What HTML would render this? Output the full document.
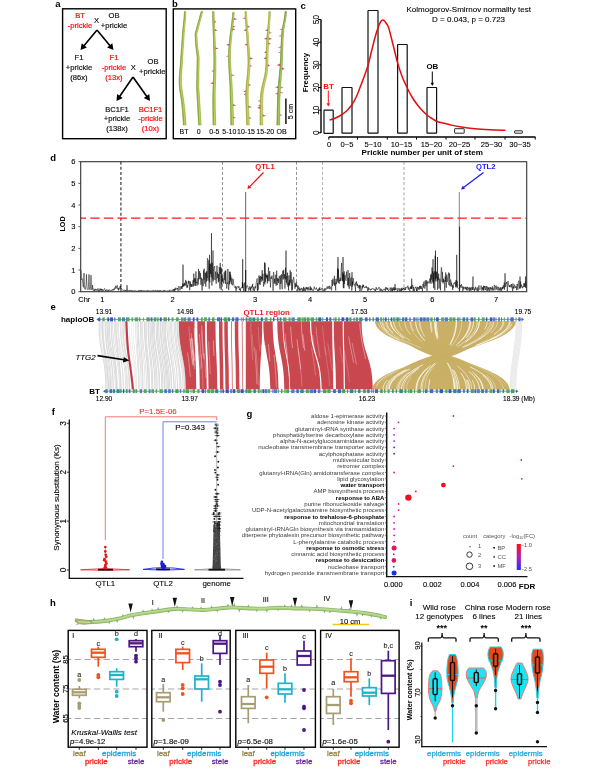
<!DOCTYPE html>
<html><head><meta charset="utf-8"><title>Figure</title>
<style>
html,body{margin:0;padding:0;background:#fff;}
body{width:600px;height:768px;overflow:hidden;font-family:"Liberation Sans",sans-serif;}
svg{display:block;font-family:"Liberation Sans",sans-serif;will-change:transform;opacity:0.999;}
</style></head><body>
<svg width="600" height="768" viewBox="0 0 600 768">
<rect width="600" height="768" fill="#fff"/>
<text x="58" y="6.7" font-size="9.5" text-anchor="middle" fill="#000" font-weight="bold">a</text>
<rect x="62.6" y="8.8" width="103.6" height="129.9" fill="none" stroke="#000" stroke-width="1.4" />
<text x="80" y="18.2" font-size="7.6" text-anchor="middle" fill="#ff1010" stroke="#ff1010" stroke-width="0.22">BT</text>
<text x="80" y="28.2" font-size="7.6" text-anchor="middle" fill="#ff1010" stroke="#ff1010" stroke-width="0.22">-prickle</text>
<text x="96.5" y="23.3" font-size="7.6" text-anchor="middle" fill="#000" stroke="#000" stroke-width="0.1">X</text>
<text x="114" y="18.2" font-size="7.6" text-anchor="middle" fill="#111" stroke="#111" stroke-width="0.18">OB</text>
<text x="114" y="28.2" font-size="7.6" text-anchor="middle" fill="#111" stroke="#111" stroke-width="0.18">+prickle</text>
<line x1="97" y1="30" x2="84" y2="45.8" stroke="#000" stroke-width="1.6" />
<polygon points="80.5,50 81.7,43.2 86.9,47.5" fill="#000"/>
<line x1="97" y1="30" x2="110" y2="45.8" stroke="#000" stroke-width="1.6" />
<polygon points="113.5,50 107.1,47.5 112.3,43.2" fill="#000"/>
<text x="79" y="59.7" font-size="7.6" text-anchor="middle" fill="#111" stroke="#111" stroke-width="0.18">F1</text>
<text x="79" y="69.7" font-size="7.6" text-anchor="middle" fill="#111" stroke="#111" stroke-width="0.18">+prickle</text>
<text x="79" y="79.7" font-size="7.6" text-anchor="middle" fill="#111" stroke="#111" stroke-width="0.18">(86x)</text>
<text x="114" y="59.7" font-size="7.6" text-anchor="middle" fill="#ff1010" stroke="#ff1010" stroke-width="0.22">F1</text>
<text x="114" y="69.7" font-size="7.6" text-anchor="middle" fill="#ff1010" stroke="#ff1010" stroke-width="0.22">-prickle</text>
<text x="114" y="79.7" font-size="7.6" text-anchor="middle" fill="#ff1010" stroke="#ff1010" stroke-width="0.22">(13x)</text>
<text x="133.4" y="70.1" font-size="7.6" text-anchor="middle" fill="#000" stroke="#000" stroke-width="0.1">X</text>
<text x="153" y="63.7" font-size="7.6" text-anchor="middle" fill="#111" stroke="#111" stroke-width="0.18">OB</text>
<text x="152.3" y="73.5" font-size="7.6" text-anchor="middle" fill="#111" stroke="#111" stroke-width="0.18">+prickle</text>
<line x1="133" y1="77" x2="119.6" y2="96.5" stroke="#000" stroke-width="1.6" />
<polygon points="116.5,101 117.1,94.1 122.7,98" fill="#000"/>
<line x1="133" y1="77" x2="146.8" y2="96.5" stroke="#000" stroke-width="1.6" />
<polygon points="150,101 143.8,98.1 149.3,94.1" fill="#000"/>
<text x="117" y="111.7" font-size="7.6" text-anchor="middle" fill="#111" stroke="#111" stroke-width="0.18">BC1F1</text>
<text x="117" y="121.4" font-size="7.6" text-anchor="middle" fill="#111" stroke="#111" stroke-width="0.18">+prickle</text>
<text x="117" y="130.9" font-size="7.6" text-anchor="middle" fill="#111" stroke="#111" stroke-width="0.18">(138x)</text>
<text x="150.5" y="111.7" font-size="7.6" text-anchor="middle" fill="#ff1010" stroke="#ff1010" stroke-width="0.22">BC1F1</text>
<text x="150.5" y="121.4" font-size="7.6" text-anchor="middle" fill="#ff1010" stroke="#ff1010" stroke-width="0.22">-prickle</text>
<text x="150.5" y="130.9" font-size="7.6" text-anchor="middle" fill="#ff1010" stroke="#ff1010" stroke-width="0.22">(10x)</text>
<text x="174.8" y="6.8" font-size="9.5" text-anchor="middle" fill="#000" font-weight="bold">b</text>
<rect x="173.3" y="8.9" width="122.4" height="129.8" fill="none" stroke="#000" stroke-width="1.4" />
<polygon points="184.4,11.5 184.3,14.1 184.1,16.8 183.9,19.4 183.6,22 183.4,24.6 183.1,27.2 182.8,29.9 182.5,32.5 182.3,36.6 182,40.6 181.7,44.7 181.4,48.8 181.1,52.8 180.8,56.9 180.5,60.9 180.3,65 180.1,67.3 179.8,69.6 179.6,71.9 179.4,74.2 179.3,76.5 179.2,78.8 179.1,81.1 179.2,83.4 179.3,86 179.6,88.6 179.9,91.1 180.3,93.7 180.7,96.3 181.1,98.8 181.5,101.4 181.8,104 182,106.6 182.3,109.2 182.5,111.9 182.7,114.5 182.9,117.1 183.1,119.8 183.2,122.4 183.3,125 186,125 185.9,122.4 185.7,119.8 185.5,117.1 185.3,114.5 185.1,111.9 184.8,109.2 184.5,106.6 184.2,104 183.9,101.4 183.5,98.8 183.1,96.3 182.7,93.7 182.3,91.1 181.9,88.6 181.6,86 181.4,83.4 181.4,81.1 181.4,78.8 181.4,76.5 181.6,74.2 181.8,71.9 181.9,69.6 182.1,67.3 182.3,65 182.5,60.9 182.7,56.9 183,52.8 183.2,48.8 183.5,44.7 183.8,40.6 184,36.6 184.3,32.5 184.5,29.9 184.7,27.2 185,24.6 185.2,22 185.5,19.4 185.7,16.8 185.8,14.1 185.9,11.5" fill="#a9c244" stroke="#7c9c30" stroke-width="0.5" stroke-linejoin="round"/>
<path d="M185.4,11.5 L185.3,14.1 L185.1,16.8 L184.9,19.4 L184.7,22 L184.4,24.6 L184.2,27.2 L183.9,29.9 L183.7,32.5 L183.4,36.6 L183.1,40.6 L182.8,44.7 L182.6,48.8 L182.3,52.8 L182,56.9 L181.8,60.9 L181.6,65 L181.3,67.3 L181.1,69.6 L180.9,71.9 L180.8,74.2 L180.6,76.5 L180.5,78.8 L180.5,81.1 L180.6,83.4 L180.7,86 L181,88.6 L181.3,91.1 L181.7,93.7 L182.1,96.3 L182.6,98.8 L182.9,101.4 L183.2,104 L183.5,106.6 L183.8,109.2 L184,111.9 L184.3,114.5 L184.5,117.1 L184.7,119.8 L184.8,122.4 L184.9,125" fill="none" stroke="#c3d468" stroke-width="0.7" stroke-linejoin="round"/>
<path d="M184.6,11.5 L184.5,14.1 L184.3,16.8 L184.1,19.4 L183.8,22 L183.6,24.6 L183.3,27.2 L183,29.9 L182.7,32.5 L182.5,36.6 L182.2,40.6 L181.9,44.7 L181.6,48.8 L181.3,52.8 L181,56.9 L180.7,60.9 L180.5,65 L180.3,67.3 L180,69.6 L179.8,71.9 L179.6,74.2 L179.5,76.5 L179.4,78.8 L179.3,81.1 L179.4,83.4 L179.5,86 L179.8,88.6 L180.1,91.1 L180.5,93.7 L180.9,96.3 L181.3,98.8 L181.7,101.4 L182,104 L182.2,106.6 L182.5,109.2 L182.7,111.9 L182.9,114.5 L183.1,117.1 L183.3,119.8 L183.4,122.4 L183.5,125" fill="none" stroke="#7c9c30" stroke-width="0.6" stroke-linejoin="round"/>
<text x="184.1" y="134.1" font-size="7.0" text-anchor="middle" fill="#000" stroke="#000" stroke-width="0.1">BT</text>
<polygon points="201.2,11.5 195.1,33.6 195.5,43.3 197.2,57.4 196.6,86.7 198.6,125 201.2,125 198.8,86.7 199.2,57.4 197.3,43.3 196.9,33.6 202.8,11.5" fill="#a9c244" stroke="#7c9c30" stroke-width="0.5" stroke-linejoin="round"/>
<path d="M202.2,11.5 L196.2,33.6 L196.7,43.3 L198.4,57.4 L197.9,86.7 L200.2,125" fill="none" stroke="#c3d468" stroke-width="0.7" stroke-linejoin="round"/>
<path d="M201.4,11.5 L195.3,33.6 L195.7,43.3 L197.4,57.4 L196.8,86.7 L198.8,125" fill="none" stroke="#7c9c30" stroke-width="0.6" stroke-linejoin="round"/>
<text x="198.8" y="134.1" font-size="7.0" text-anchor="middle" fill="#000" stroke="#000" stroke-width="0.1">0</text>
<polygon points="212.6,11.5 212.6,15.5 212.7,19.4 212.8,23.4 213,27.4 213.1,31.4 213.3,35.3 213.4,39.3 213.5,43.3 213.6,46 213.7,48.7 213.7,51.4 213.8,54.1 213.9,56.9 213.9,59.6 213.9,62.3 213.9,65 213.8,69.1 213.7,73.1 213.5,77.2 213.3,81.2 213.2,85.3 213,89.4 212.9,93.4 212.8,97.5 212.8,100.9 212.8,104.4 212.8,107.8 212.9,111.2 212.9,114.7 213,118.1 213,121.6 213.1,125 215.8,125 215.7,121.6 215.6,118.1 215.5,114.7 215.4,111.2 215.3,107.8 215.3,104.4 215.2,100.9 215.2,97.5 215.2,93.4 215.3,89.4 215.4,85.3 215.6,81.2 215.7,77.2 215.8,73.1 215.9,69.1 215.9,65 215.9,62.3 215.9,59.6 215.8,56.9 215.8,54.1 215.7,51.4 215.5,48.7 215.4,46 215.3,43.3 215.2,39.3 215,35.3 214.8,31.4 214.7,27.4 214.5,23.4 214.3,19.4 214.2,15.5 214.1,11.5" fill="#a9c244" stroke="#7c9c30" stroke-width="0.5" stroke-linejoin="round"/>
<path d="M213.6,11.5 L213.6,15.5 L213.8,19.4 L213.9,23.4 L214.1,27.4 L214.2,31.4 L214.4,35.3 L214.5,39.3 L214.7,43.3 L214.8,46 L214.8,48.7 L214.9,51.4 L215,54.1 L215.1,56.9 L215.1,59.6 L215.2,62.3 L215.2,65 L215.1,69.1 L215,73.1 L214.9,77.2 L214.7,81.2 L214.6,85.3 L214.4,89.4 L214.3,93.4 L214.2,97.5 L214.2,100.9 L214.3,104.4 L214.3,107.8 L214.4,111.2 L214.5,114.7 L214.5,118.1 L214.6,121.6 L214.7,125" fill="none" stroke="#c3d468" stroke-width="0.7" stroke-linejoin="round"/>
<path d="M212.8,11.5 L212.8,15.5 L212.9,19.4 L213,23.4 L213.2,27.4 L213.3,31.4 L213.5,35.3 L213.6,39.3 L213.7,43.3 L213.8,46 L213.9,48.7 L213.9,51.4 L214,54.1 L214.1,56.9 L214.1,59.6 L214.1,62.3 L214.1,65 L214,69.1 L213.9,73.1 L213.7,77.2 L213.5,81.2 L213.4,85.3 L213.2,89.4 L213.1,93.4 L213,97.5 L213,100.9 L213,104.4 L213,107.8 L213.1,111.2 L213.1,114.7 L213.2,118.1 L213.2,121.6 L213.2,125" fill="none" stroke="#7c9c30" stroke-width="0.6" stroke-linejoin="round"/>
<polygon points="214.4,20.6 214.4,22.7 216.5,22.1" fill="#c85c6c"/>
<polygon points="214.8,28.9 214.8,31 217.5,30.4" fill="#c04858"/>
<polygon points="215.5,47.2 215.5,49.3 218.4,48.7" fill="#c04858"/>
<polygon points="213.7,69.7 213.7,71.8 211.5,71.2" fill="#c85c6c"/>
<polygon points="213.3,81.9 213.3,84 210.3,83.4" fill="#c04858"/>
<text x="214.4" y="134.1" font-size="7.0" text-anchor="middle" fill="#000" stroke="#000" stroke-width="0.1">0-5</text>
<polygon points="232.7,12.5 232.5,16.4 232,20.2 231.6,24 231.1,27.9 230.5,31.8 230,35.6 229.6,39.4 229.3,43.3 229.1,45.5 228.9,47.6 228.7,49.8 228.6,52 228.6,54.2 228.6,56.4 228.6,58.5 228.6,60.7 228.7,64 228.8,67.2 229,70.5 229.2,73.7 229.4,77 229.6,80.2 229.8,83.5 230,86.7 230.1,91.5 230.2,96.3 230.4,101.1 230.5,105.8 230.6,110.6 230.7,115.4 230.8,120.2 230.8,125 233.5,125 233.4,120.2 233.3,115.4 233.2,110.6 233,105.8 232.8,101.1 232.6,96.3 232.4,91.5 232.2,86.7 232,83.5 231.8,80.2 231.6,77 231.3,73.7 231.1,70.5 230.9,67.2 230.7,64 230.6,60.7 230.6,58.5 230.5,56.4 230.5,54.2 230.6,52 230.6,49.8 230.8,47.6 230.9,45.5 231.1,43.3 231.4,39.4 231.8,35.6 232.2,31.8 232.7,27.9 233.2,24 233.6,20.2 234,16.4 234.3,12.5" fill="#a9c244" stroke="#7c9c30" stroke-width="0.5" stroke-linejoin="round"/>
<path d="M233.8,12.5 L233.5,16.4 L233.1,20.2 L232.6,24 L232.1,27.9 L231.6,31.8 L231.2,35.6 L230.8,39.4 L230.4,43.3 L230.2,45.5 L230.1,47.6 L229.9,49.8 L229.8,52 L229.8,54.2 L229.8,56.4 L229.8,58.5 L229.8,60.7 L229.9,64 L230.1,67.2 L230.3,70.5 L230.5,73.7 L230.7,77 L231,80.2 L231.2,83.5 L231.3,86.7 L231.5,91.5 L231.7,96.3 L231.8,101.1 L232,105.8 L232.1,110.6 L232.3,115.4 L232.4,120.2 L232.4,125" fill="none" stroke="#c3d468" stroke-width="0.7" stroke-linejoin="round"/>
<path d="M232.9,12.5 L232.7,16.4 L232.2,20.2 L231.8,24 L231.3,27.9 L230.7,31.8 L230.2,35.6 L229.8,39.4 L229.5,43.3 L229.3,45.5 L229.1,47.6 L228.9,49.8 L228.8,52 L228.8,54.2 L228.8,56.4 L228.8,58.5 L228.8,60.7 L228.9,64 L229,67.2 L229.2,70.5 L229.4,73.7 L229.6,77 L229.8,80.2 L230,83.5 L230.2,86.7 L230.3,91.5 L230.4,96.3 L230.6,101.1 L230.7,105.8 L230.8,110.6 L230.9,115.4 L231,120.2 L231,125" fill="none" stroke="#7c9c30" stroke-width="0.6" stroke-linejoin="round"/>
<polygon points="233.8,17.8 233.8,19.9 237.1,19.3" fill="#c85c6c"/>
<polygon points="232.9,25.4 232.9,27.5 235.8,26.9" fill="#c85c6c"/>
<polygon points="232.5,28.2 232.5,30.3 235.4,29.7" fill="#c04858"/>
<polygon points="229.1,43.6 229.1,45.7 226.1,45.1" fill="#b85848"/>
<polygon points="228.6,54.9 228.6,57 225.9,56.4" fill="#d88090"/>
<polygon points="231.4,74.1 231.4,76.2 234.9,75.6" fill="#d88090"/>
<polygon points="233,103.9 233,106 236.2,105.4" fill="#c85c6c"/>
<polygon points="233.4,116.4 233.4,118.5 235.8,117.9" fill="#b85848"/>
<text x="229.3" y="134.1" font-size="7.0" text-anchor="middle" fill="#000" stroke="#000" stroke-width="0.1">5-10</text>
<polygon points="245.1,11.5 245.2,15.5 245.4,19.4 245.7,23.4 246,27.4 246.3,31.4 246.6,35.3 246.9,39.3 247.1,43.3 247.3,46 247.5,48.7 247.6,51.4 247.8,54.1 247.9,56.9 248,59.6 248,62.3 248,65 247.8,68.5 247.6,72 247.2,75.5 246.9,79 246.5,82.5 246.2,86 246,89.5 245.8,93 245.8,97 245.8,101 246,105 246.1,109 246.3,113 246.4,117 246.6,121 246.7,125 249.3,125 249.2,121 249.1,117 248.9,113 248.6,109 248.4,105 248.3,101 248.2,97 248.2,93 248.3,89.5 248.5,86 248.8,82.5 249.1,79 249.4,75.5 249.7,72 249.9,68.5 250,65 250,62.3 250,59.6 249.9,56.9 249.7,54.1 249.6,51.4 249.4,48.7 249.1,46 248.9,43.3 248.7,39.3 248.4,35.3 248,31.4 247.7,27.4 247.3,23.4 247,19.4 246.7,15.5 246.6,11.5" fill="#bcc24c" stroke="#9aa63c" stroke-width="0.5" stroke-linejoin="round"/>
<path d="M246.1,11.5 L246.2,15.5 L246.5,19.4 L246.8,23.4 L247.1,27.4 L247.4,31.4 L247.7,35.3 L248,39.3 L248.2,43.3 L248.5,46 L248.7,48.7 L248.8,51.4 L249,54.1 L249.1,56.9 L249.2,59.6 L249.3,62.3 L249.2,65 L249.1,68.5 L248.9,72 L248.6,75.5 L248.2,79 L247.9,82.5 L247.6,86 L247.4,89.5 L247.2,93 L247.2,97 L247.3,101 L247.4,105 L247.6,109 L247.8,113 L248,117 L248.2,121 L248.2,125" fill="none" stroke="#d2d474" stroke-width="0.7" stroke-linejoin="round"/>
<path d="M245.2,11.5 L245.4,15.5 L245.6,19.4 L245.9,23.4 L246.2,27.4 L246.5,31.4 L246.8,35.3 L247.1,39.3 L247.3,43.3 L247.5,46 L247.7,48.7 L247.8,51.4 L248,54.1 L248.1,56.9 L248.2,59.6 L248.2,62.3 L248.2,65 L248,68.5 L247.8,72 L247.4,75.5 L247.1,79 L246.7,82.5 L246.4,86 L246.2,89.5 L246,93 L246,97 L246,101 L246.2,105 L246.3,109 L246.5,113 L246.6,117 L246.8,121 L246.8,125" fill="none" stroke="#9aa63c" stroke-width="0.6" stroke-linejoin="round"/>
<polygon points="245.4,17.1 245.4,19.2 242.4,18.6" fill="#d88090"/>
<polygon points="247.6,25.4 247.6,27.5 250.2,26.9" fill="#b85848"/>
<polygon points="246.2,29 246.2,31.1 243.5,30.5" fill="#c04858"/>
<polygon points="247.2,43.4 247.2,45.5 244.4,44.9" fill="#c04858"/>
<polygon points="249.9,57.2 249.9,59.3 253.1,58.7" fill="#b85848"/>
<polygon points="250,64.7 250,66.8 252.6,66.2" fill="#d88090"/>
<polygon points="248.6,83.7 248.6,85.8 251.3,85.2" fill="#c85c6c"/>
<polygon points="245.9,90.2 245.9,92.3 243.1,91.7" fill="#c85c6c"/>
<polygon points="245.8,93.2 245.8,95.3 243.6,94.7" fill="#c85c6c"/>
<polygon points="248.5,105.7 248.5,107.8 252,107.2" fill="#b85848"/>
<polygon points="249.1,116.8 249.1,118.9 251.8,118.3" fill="#d88090"/>
<text x="246" y="134.1" font-size="7.0" text-anchor="middle" fill="#000" stroke="#000" stroke-width="0.1">10-15</text>
<polygon points="268.9,11.5 268.8,15.5 268.5,19.4 268.2,23.4 267.8,27.4 267.5,31.4 267.1,35.3 266.8,39.3 266.6,43.3 266.4,46.8 266.3,50.3 266.2,53.9 266.1,57.4 266,60.9 265.9,64.5 265.6,68 265.3,71.5 264.9,74.2 264.3,76.9 263.7,79.6 263,82.2 262.4,84.9 261.8,87.6 261.2,90.3 260.8,93 260.5,97 260.3,101 260.2,105 260.2,109 260.1,113 260.1,117 260.1,121 260,125 262.8,125 262.7,121 262.7,117 262.7,113 262.7,109 262.7,105 262.8,101 262.9,97 263.2,93 263.6,90.3 264.1,87.6 264.7,84.9 265.3,82.2 265.9,79.6 266.5,76.9 267.1,74.2 267.5,71.5 267.7,68 267.9,64.5 268,60.9 268.1,57.4 268.1,53.9 268.2,50.3 268.3,46.8 268.4,43.3 268.6,39.3 268.9,35.3 269.2,31.4 269.5,27.4 269.8,23.4 270.1,19.4 270.3,15.5 270.4,11.5" fill="#bcc24c" stroke="#9aa63c" stroke-width="0.5" stroke-linejoin="round"/>
<path d="M269.9,11.5 L269.8,15.5 L269.5,19.4 L269.2,23.4 L268.9,27.4 L268.6,31.4 L268.3,35.3 L268,39.3 L267.8,43.3 L267.6,46.8 L267.5,50.3 L267.4,53.9 L267.3,57.4 L267.3,60.9 L267.1,64.5 L266.9,68 L266.6,71.5 L266.2,74.2 L265.7,76.9 L265.1,79.6 L264.4,82.2 L263.8,84.9 L263.2,87.6 L262.6,90.3 L262.2,93 L262,97 L261.8,101 L261.7,105 L261.7,109 L261.7,113 L261.7,117 L261.7,121 L261.6,125" fill="none" stroke="#d2d474" stroke-width="0.7" stroke-linejoin="round"/>
<path d="M269.1,11.5 L269,15.5 L268.7,19.4 L268.4,23.4 L268,27.4 L267.7,31.4 L267.3,35.3 L267,39.3 L266.8,43.3 L266.6,46.8 L266.5,50.3 L266.4,53.9 L266.3,57.4 L266.2,60.9 L266.1,64.5 L265.8,68 L265.5,71.5 L265.1,74.2 L264.5,76.9 L263.9,79.6 L263.2,82.2 L262.6,84.9 L262,87.6 L261.4,90.3 L261,93 L260.7,97 L260.5,101 L260.4,105 L260.4,109 L260.3,113 L260.3,117 L260.3,121 L260.2,125" fill="none" stroke="#9aa63c" stroke-width="0.6" stroke-linejoin="round"/>
<polygon points="267.6,28.9 267.6,31 265.2,30.4" fill="#c04858"/>
<polygon points="269.1,31.6 269.1,33.7 272,33.1" fill="#d88090"/>
<polygon points="266.9,37.5 266.9,39.6 263.8,39" fill="#c04858"/>
<polygon points="268.7,37.6 268.7,39.7 272.1,39.1" fill="#b85848"/>
<polygon points="268.4,42.4 268.4,44.5 271,43.9" fill="#b85848"/>
<polygon points="266.2,50.9 266.2,53 264.1,52.4" fill="#c04858"/>
<polygon points="266.1,56.9 266.1,59 263.4,58.4" fill="#c04858"/>
<polygon points="267.9,64.3 267.9,66.4 269.9,65.8" fill="#c04858"/>
<polygon points="260.4,99.7 260.4,101.8 257.5,101.2" fill="#d88090"/>
<polygon points="260.2,104.5 260.2,106.6 258.1,106" fill="#c85c6c"/>
<polygon points="260.2,106.5 260.2,108.6 257.9,108" fill="#d88090"/>
<polygon points="260.2,106.6 260.2,108.7 257.2,108.1" fill="#b85848"/>
<polygon points="262.7,114.4 262.7,116.5 266.1,115.9" fill="#b85848"/>
<text x="265.3" y="134.1" font-size="7.0" text-anchor="middle" fill="#000" stroke="#000" stroke-width="0.1">15-20</text>
<polygon points="285.1,11.5 284.9,14.1 284.5,16.8 284.1,19.4 283.6,22 283.1,24.6 282.6,27.2 282.2,29.9 281.8,32.5 281.6,36.6 281.3,40.6 281.1,44.7 280.9,48.8 280.8,52.8 280.6,56.9 280.4,60.9 280.2,65 279.9,68.5 279.6,72 279.3,75.5 278.9,79 278.6,82.5 278.3,86 278,89.5 277.8,93 277.6,97 277.5,101 277.4,105 277.2,109 277.2,113 277.1,117 277,121 276.9,125 279.7,125 279.7,121 279.7,117 279.7,113 279.8,109 279.8,105 279.9,101 280,97 280.2,93 280.4,89.5 280.6,86 280.9,82.5 281.2,79 281.4,75.5 281.7,72 282,68.5 282.2,65 282.4,60.9 282.6,56.9 282.7,52.8 282.8,48.8 283,44.7 283.1,40.6 283.3,36.6 283.6,32.5 283.9,29.9 284.3,27.2 284.7,24.6 285.2,22 285.7,19.4 286.1,16.8 286.4,14.1 286.6,11.5" fill="#98b846" stroke="#6f9636" stroke-width="0.5" stroke-linejoin="round"/>
<path d="M286.1,11.5 L285.9,14.1 L285.5,16.8 L285.1,19.4 L284.6,22 L284.2,24.6 L283.7,27.2 L283.3,29.9 L282.9,32.5 L282.7,36.6 L282.5,40.6 L282.3,44.7 L282.1,48.8 L282,52.8 L281.8,56.9 L281.7,60.9 L281.4,65 L281.2,68.5 L280.9,72 L280.6,75.5 L280.3,79 L280,82.5 L279.7,86 L279.5,89.5 L279.2,93 L279.1,97 L279,101 L278.8,105 L278.8,109 L278.7,113 L278.6,117 L278.6,121 L278.6,125" fill="none" stroke="#b4cc66" stroke-width="0.7" stroke-linejoin="round"/>
<path d="M285.3,11.5 L285.1,14.1 L284.7,16.8 L284.3,19.4 L283.8,22 L283.3,24.6 L282.8,27.2 L282.4,29.9 L282,32.5 L281.8,36.6 L281.5,40.6 L281.3,44.7 L281.1,48.8 L281,52.8 L280.8,56.9 L280.6,60.9 L280.4,65 L280.1,68.5 L279.8,72 L279.5,75.5 L279.1,79 L278.8,82.5 L278.5,86 L278.2,89.5 L278,93 L277.8,97 L277.7,101 L277.6,105 L277.4,109 L277.4,113 L277.3,117 L277.2,121 L277.1,125" fill="none" stroke="#6f9636" stroke-width="0.6" stroke-linejoin="round"/>
<polygon points="282.3,28.2 282.3,30.3 279.1,29.7" fill="#d88090"/>
<polygon points="281.6,34.7 281.6,36.8 278.2,36.2" fill="#d88090"/>
<polygon points="281,46 281,48.1 277.6,47.5" fill="#d88090"/>
<polygon points="280.8,51.2 280.8,53.3 277.9,52.7" fill="#d88090"/>
<polygon points="280.2,63.6 280.2,65.7 277.2,65.1" fill="#c85c6c"/>
<polygon points="280.2,63.8 280.2,65.9 276.9,65.3" fill="#c85c6c"/>
<polygon points="282,67.6 282,69.7 284.8,69.1" fill="#c04858"/>
<polygon points="278.2,86 278.2,88.1 275,87.5" fill="#b85848"/>
<polygon points="280.5,86.3 280.5,88.4 283.6,87.8" fill="#d88090"/>
<polygon points="280.2,91.4 280.2,93.5 283.7,92.9" fill="#d88090"/>
<polygon points="277.8,92.4 277.8,94.5 275.2,93.9" fill="#c85c6c"/>
<polygon points="279.7,113.8 279.7,115.9 282.5,115.3" fill="#d88090"/>
<text x="281.6" y="134.1" font-size="7.0" text-anchor="middle" fill="#000" stroke="#000" stroke-width="0.1">OB</text>
<line x1="285.9" y1="98.6" x2="285.9" y2="124" stroke="#000" stroke-width="1.4" />
<text x="293.4" y="111.6" font-size="7" text-anchor="middle" fill="#000" transform="rotate(-90 293.4 111.6)" stroke="#000" stroke-width="0.1">5 cm</text>
<text x="303.2" y="8.8" font-size="9.5" text-anchor="middle" fill="#000" font-weight="bold">c</text>
<line x1="321" y1="133" x2="321" y2="19.4" stroke="#000" stroke-width="1.4" />
<line x1="318" y1="132.8" x2="321" y2="132.8" stroke="#000" stroke-width="1" />
<text x="319.1" y="132.8" font-size="8.2" text-anchor="middle" fill="#000" transform="rotate(-90 319.1 132.8)" stroke="#000" stroke-width="0.1">0</text>
<line x1="318" y1="110.2" x2="321" y2="110.2" stroke="#000" stroke-width="1" />
<text x="319.1" y="110.2" font-size="8.2" text-anchor="middle" fill="#000" transform="rotate(-90 319.1 110.2)" stroke="#000" stroke-width="0.1">10</text>
<line x1="318" y1="87.5" x2="321" y2="87.5" stroke="#000" stroke-width="1" />
<text x="319.1" y="87.5" font-size="8.2" text-anchor="middle" fill="#000" transform="rotate(-90 319.1 87.5)" stroke="#000" stroke-width="0.1">20</text>
<line x1="318" y1="64.9" x2="321" y2="64.9" stroke="#000" stroke-width="1" />
<text x="319.1" y="64.9" font-size="8.2" text-anchor="middle" fill="#000" transform="rotate(-90 319.1 64.9)" stroke="#000" stroke-width="0.1">30</text>
<line x1="318" y1="42.2" x2="321" y2="42.2" stroke="#000" stroke-width="1" />
<text x="319.1" y="42.2" font-size="8.2" text-anchor="middle" fill="#000" transform="rotate(-90 319.1 42.2)" stroke="#000" stroke-width="0.1">40</text>
<line x1="318" y1="19.6" x2="321" y2="19.6" stroke="#000" stroke-width="1" />
<text x="319.1" y="19.6" font-size="8.2" text-anchor="middle" fill="#000" transform="rotate(-90 319.1 19.6)" stroke="#000" stroke-width="0.1">50</text>
<text x="308" y="72.5" font-size="7.8" text-anchor="middle" fill="#000" font-weight="bold" transform="rotate(-90 308 72.5)">Frequency</text>
<line x1="328.8" y1="137" x2="535.5" y2="137" stroke="#000" stroke-width="1.4" />
<line x1="328.8" y1="137" x2="328.8" y2="139.6" stroke="#000" stroke-width="1" />
<line x1="357.5" y1="137" x2="357.5" y2="139.6" stroke="#000" stroke-width="1" />
<line x1="387.3" y1="137" x2="387.3" y2="139.6" stroke="#000" stroke-width="1" />
<line x1="416.5" y1="137" x2="416.5" y2="139.6" stroke="#000" stroke-width="1" />
<line x1="446" y1="137" x2="446" y2="139.6" stroke="#000" stroke-width="1" />
<line x1="475" y1="137" x2="475" y2="139.6" stroke="#000" stroke-width="1" />
<line x1="505" y1="137" x2="505" y2="139.6" stroke="#000" stroke-width="1" />
<line x1="535.2" y1="137" x2="535.2" y2="139.6" stroke="#000" stroke-width="1" />
<text x="329" y="147" font-size="7.6" text-anchor="middle" fill="#000" stroke="#000" stroke-width="0.1">0</text>
<text x="347" y="147" font-size="7.6" text-anchor="middle" fill="#000" stroke="#000" stroke-width="0.1">0~5</text>
<text x="373" y="147" font-size="7.6" text-anchor="middle" fill="#000" stroke="#000" stroke-width="0.1">5~10</text>
<text x="401.5" y="147" font-size="7.6" text-anchor="middle" fill="#000" stroke="#000" stroke-width="0.1">10~15</text>
<text x="431.5" y="147" font-size="7.6" text-anchor="middle" fill="#000" stroke="#000" stroke-width="0.1">15~20</text>
<text x="459.5" y="147" font-size="7.6" text-anchor="middle" fill="#000" stroke="#000" stroke-width="0.1">20~25</text>
<text x="491.5" y="147" font-size="7.6" text-anchor="middle" fill="#000" stroke="#000" stroke-width="0.1">25~30</text>
<text x="520" y="147" font-size="7.6" text-anchor="middle" fill="#000" stroke="#000" stroke-width="0.1">30~35</text>
<text x="422.3" y="155" font-size="8.1" text-anchor="middle" fill="#000" font-weight="bold">Prickle number per unit of stem</text>
<rect x="324" y="110.2" width="9.2" height="23.1" fill="#fff" stroke="#111" stroke-width="1.2" rx="0.4"/>
<rect x="342" y="87.5" width="10" height="45.7" fill="#fff" stroke="#111" stroke-width="1.2" rx="0.4"/>
<rect x="368" y="10.5" width="10" height="122.7" fill="#fff" stroke="#111" stroke-width="1.2" rx="0.4"/>
<rect x="397.6" y="44.5" width="9.6" height="88.7" fill="#fff" stroke="#111" stroke-width="1.2" rx="0.4"/>
<rect x="427" y="87.5" width="9.6" height="45.7" fill="#fff" stroke="#111" stroke-width="1.2" rx="0.4"/>
<rect x="454.6" y="128.7" width="9.6" height="4.5" fill="#fff" stroke="#111" stroke-width="0.9" rx="0.4"/>
<rect x="514.6" y="130.8" width="7.8" height="2.4" fill="#fff" stroke="#111" stroke-width="0.9" rx="0.4"/>
<path d="M329.5,120 C330.42,119.71 333.25,118.96 335.00,118.25 C336.75,117.54 338.12,116.92 340.00,115.75 C341.88,114.58 344.29,113.04 346.25,111.25 C348.21,109.46 350.08,107.38 351.75,105.00 C353.42,102.62 354.88,99.92 356.25,97.00 C357.62,94.08 358.71,90.83 360.00,87.50 C361.29,84.17 362.67,80.67 364.00,77.00 C365.33,73.33 366.75,69.79 368.00,65.50 C369.25,61.21 370.33,55.92 371.50,51.25 C372.67,46.58 373.88,41.54 375.00,37.50 C376.12,33.46 377.33,29.58 378.25,27.00 C379.17,24.42 379.79,23.17 380.50,22.00 C381.21,20.83 381.83,20.17 382.50,20.00 C383.17,19.83 383.83,20.38 384.50,21.00 C385.17,21.62 385.79,22.58 386.50,23.75 C387.21,24.92 387.67,24.54 388.75,28.00 C389.83,31.46 391.54,38.75 393.00,44.50 C394.46,50.25 396.00,57.21 397.50,62.50 C399.00,67.79 400.42,72.08 402.00,76.25 C403.58,80.42 405.33,84.04 407.00,87.50 C408.67,90.96 410.25,94.08 412.00,97.00 C413.75,99.92 415.75,102.71 417.50,105.00 C419.25,107.29 420.92,109.08 422.50,110.75 C424.08,112.42 425.50,113.75 427.00,115.00 C428.50,116.25 429.92,117.21 431.50,118.25 C433.08,119.29 434.46,120.42 436.50,121.25 C438.54,122.08 441.50,122.67 443.75,123.25 C446.00,123.83 447.29,124.17 450.00,124.75 C452.71,125.33 455.83,126.08 460.00,126.75 C464.17,127.42 470.00,128.25 475.00,128.75 C480.00,129.25 484.92,129.50 490.00,129.75 C495.08,130.00 502.92,130.17 505.50,130.25" fill="none" stroke="#e01010" stroke-width="1.5" stroke-linejoin="round"/>
<text x="468.7" y="12" font-size="8.0" text-anchor="middle" fill="#000" stroke="#000" stroke-width="0.1">Kolmogorov-Smirnov normality test</text>
<text x="468.6" y="21.7" font-size="8.0" text-anchor="middle" fill="#000" stroke="#000" stroke-width="0.1">D = 0.043, p = 0.723</text>
<text x="328.5" y="88.6" font-size="7.9" text-anchor="middle" fill="#ff1010" font-weight="bold">BT</text>
<line x1="328.3" y1="90.6" x2="328.3" y2="103.7" stroke="#ff1010" stroke-width="1" />
<polygon points="328.3,106.6 326.5,103.2 330.1,103.2" fill="#ff1010"/>
<text x="432.3" y="69.4" font-size="7.9" text-anchor="middle" fill="#000" font-weight="bold">OB</text>
<line x1="432.3" y1="71.5" x2="432.3" y2="83.3" stroke="#000" stroke-width="1" />
<polygon points="432.3,86 430.6,82.8 434,82.8" fill="#000"/>
<text x="53.2" y="160.7" font-size="9.5" text-anchor="middle" fill="#000" font-weight="bold">d</text>
<line x1="120.9" y1="161.7" x2="120.9" y2="291.7" stroke="#444" stroke-width="1.25" stroke-dasharray="3 2.1"/>
<line x1="222.5" y1="161.7" x2="222.5" y2="291.7" stroke="#888" stroke-width="0.9" stroke-dasharray="3 2.1"/>
<line x1="296.5" y1="161.7" x2="296.5" y2="291.7" stroke="#888" stroke-width="0.9" stroke-dasharray="3 2.1"/>
<line x1="322.5" y1="161.7" x2="322.5" y2="291.7" stroke="#aaa" stroke-width="0.9" stroke-dasharray="3 2.1"/>
<line x1="404" y1="161.7" x2="404" y2="291.7" stroke="#999" stroke-width="0.9" stroke-dasharray="3 2.1"/>
<path d="M81,270.03 L81.5,279.78 L82.3,278.70 L83,285.20 L83.4,287.37 L84,273.07 L84.5,288.45 L85.3,289.53 L86,285.20 L86.5,274.37 L87,289.10 L88.3,289.53 L89,274.37 L89.5,289.53 L90.4,289.53 L91,275.23 L91.5,289.53 L92.4,289.97 L92.5,285.04 L92.9,288.81 L93.2,288.50 L93.6,290.47 L93.9,291.01 L94.2,290.90 L94.6,289.55 L94.9,291.24 L95.1,288.79 L95.4,289.96 L95.7,289.67 L96.1,290.04 L96.3,289.20 L96.7,290.37 L97,290.78 L97.4,289.66 L97.7,289.70 L97.9,288.32 L98.2,290.36 L98.4,289.77 L98.7,291.43 L99.1,290.65 L99.4,291.57 L99.8,288.68 L100.1,288.55 L100.3,290.46 L100.6,288.94 L101,290.19 L101.4,288.87 L101.8,290.75 L102.2,289.00 L102.6,290.57 L102.9,291.33 L103.1,290.39 L103.4,290.14 L103.8,290.52 L104,289.37 L104.3,288.69 L104.7,288.55 L105.1,289.99 L105.3,290.98 L105.6,290.35 L106,290.36 L106.2,290.76 L106.5,289.61 L106.8,289.61 L107.1,291.49 L107.4,291.54 L107.7,290.82 L108,289.73 L108.4,290.27 L108.6,291.62 L109,289.81 L109.2,290.42 L109.6,289.77 L109.8,290.11 L110.2,290.15 L110.6,290.59 L111,289.93 L111.3,289.93 L111.6,290.53 L111.9,290.91 L112.3,289.64 L112.7,289.57 L113,289.09 L113.2,290.55 L113.6,289.93 L113.9,288.70 L114.3,290.10 L114.6,289.36 L114.9,287.64 L115.2,288.58 L115.5,285.86 L115.9,286.10 L116.2,288.43 L116.5,286.63 L116.8,286.63 L117.1,285.38 L117.4,285.45 L117.7,289.13 L118.1,288.61 L118.4,290.47 L118.6,287.90 L118.9,289.68 L119.1,289.55 L119.5,288.95 L119.7,287.64 L120.1,286.20 L120.5,288.86 L120.8,286.16 L121.1,289.38 L121.4,288.28 L121.7,288.75 L122,288.95 L122.3,289.64 L122.5,290.10 L122.9,290.64 L123.3,290.38 L123.6,291.01 L124,290.56 L124.3,289.81 L124.8,290.59 L125.1,290.17 L125.5,291.04 L125.8,290.28 L126.2,291.31 L126.4,290.93 L126.7,290.96 L126.8,289.75 L126.9,290.31 L127,285.20 L127.2,290.07 L127.3,290.06 L127.6,291.02 L127.9,290.79 L128.3,290.54 L128.6,290.77 L128.9,290.13 L129.2,290.07 L129.5,290.92 L129.9,290.50 L130.1,290.61 L130.4,290.58 L130.7,291.11 L131,290.28 L131.4,290.79 L131.7,290.52 L132.1,290.99 L132.3,290.51 L132.6,291.25 L132.8,290.71 L133.1,290.74 L133.4,291.14 L133.7,291.03 L134,290.81 L134.3,290.98 L134.6,290.43 L134.9,290.43 L135.3,290.31 L135.7,290.83 L136,290.97 L136.4,291.12 L136.6,291.04 L136.9,290.92 L137.3,291.54 L137.6,291.59 L138,290.32 L138.2,290.45 L138.5,290.96 L138.8,291.63 L139.1,290.50 L139.4,290.13 L139.7,290.09 L140,291.26 L140.3,290.78 L140.6,290.70 L140.9,291.39 L141.3,290.01 L141.7,291.02 L142,291.20 L142.4,290.60 L142.7,290.88 L143.1,290.40 L143.5,290.48 L143.8,290.57 L144.1,290.53 L144.5,290.63 L144.8,291.21 L145.1,291.26 L145.4,290.76 L145.6,290.73 L145.9,290.81 L146.3,290.46 L146.6,290.64 L147,291.47 L147.4,290.91 L147.6,290.05 L147.9,290.42 L148.2,290.32 L148.5,290.57 L148.9,291.42 L149.3,291.28 L149.5,290.94 L149.9,291.05 L150.3,290.54 L150.6,290.83 L151,290.88 L151.3,291.19 L151.6,291.60 L152,290.52 L152.3,291.36 L152.7,291.37 L153,290.34 L153.3,290.28 L153.7,290.12 L154.1,290.99 L154.4,290.89 L154.6,290.98 L154.9,290.66 L155.2,290.74 L155.6,290.26 L156,291.03 L156.2,290.59 L156.6,291.04 L156.9,290.79 L157.3,291.11 L157.6,290.50 L158,291.64 L158.2,290.68 L158.5,291.16 L158.7,290.71 L159.1,290.75 L159.3,290.47 L159.7,291.60 L160.1,290.39 L160.3,290.90 L160.7,290.48 L161.1,290.57 L161.5,290.69 L161.8,291.30 L162,291.42 L162.4,290.80 L162.7,291.56 L163.1,291.52 L163.5,290.80 L163.7,290.31 L164,291.35 L164.3,290.08 L164.7,290.25 L165,290.71 L165.4,290.90 L165.7,290.82 L166,291.01 L166.3,290.74 L166.7,291.10 L167.1,291.04 L167.3,290.83 L167.7,290.72 L168,291.48 L168.4,291.62 L168.8,291.07 L169.1,289.88 L169.5,290.87 L169.9,290.29 L170.2,290.09 L170.5,290.56 L170.9,290.18 L171.2,290.45 L171.6,290.23 L172,290.33 L172.3,289.99 L172.6,290.75 L173,290.26 L173.2,288.91 L173.5,290.62 L173.8,291.13 L174.2,288.90 L174.5,288.62 L174.7,291.44 L175,288.92 L175.3,290.08 L175.6,287.75 L175.9,288.57 L176.2,288.32 L176.6,289.00 L177,289.72 L177.2,288.10 L177.5,288.78 L177.8,288.29 L178.1,291.03 L178.3,287.93 L178.7,286.37 L179,287.22 L179.3,286.69 L179.6,289.43 L179.9,290.48 L180.3,289.55 L180.6,289.47 L180.9,286.28 L181.3,288.59 L181.6,286.11 L181.9,288.78 L182.2,288.85 L182.6,287.96 L182.8,283.57 L182.8,287.03 L183,264.62 L183.2,285.48 L183.2,284.93 L183.4,286.32 L183.8,284.62 L184.1,283.94 L184.3,285.24 L184.6,282.78 L184.8,286.12 L185.1,286.10 L185.4,283.81 L185.7,279.90 L186,285.12 L186.3,283.96 L186.6,281.33 L186.9,287.68 L187.2,284.99 L187.5,287.35 L187.7,287.61 L188.1,283.80 L188.5,280.68 L188.7,283.73 L189,281.14 L189.4,281.54 L189.7,290.25 L190,286.60 L190.3,281.48 L190.7,286.60 L191.1,283.93 L191.4,286.92 L191.7,284.24 L192.1,286.45 L192.5,286.30 L192.7,283.32 L193.1,280.28 L193.4,286.46 L193.8,273.59 L194.1,282.34 L194.4,278.31 L194.8,285.79 L195.2,278.30 L195.4,278.61 L195.7,285.75 L195.9,271.46 L196.3,282.96 L196.7,281.86 L197,285.62 L197.3,284.00 L197.6,283.40 L197.9,278.31 L198.2,284.60 L198.5,269.07 L198.9,279.26 L199.2,274.40 L199.6,271.15 L200,279.24 L200.3,273.11 L200.6,279.73 L201,284.86 L201.4,277.59 L201.7,282.61 L202.1,290.61 L202.4,281.03 L202.6,278.91 L202.9,279.69 L203.1,286.26 L203.6,270.33 L203.9,279.75 L204.2,268.59 L204.5,281.34 L204.8,283.66 L205.1,279.30 L205.3,272.83 L205.6,276.66 L205.8,286.60 L206.1,272.33 L206.5,281.58 L206.8,271.04 L207.1,278.18 L207.4,258.30 L207.8,259.50 L208,280.74 L208.3,275.09 L208.7,265.79 L208.9,260.28 L209.2,288.73 L209.2,280.65 L209.5,254.87 L209.5,275.47 L209.8,282.49 L209.8,264.57 L210.2,264.18 L210.6,273.97 L210.8,263.46 L211.1,277.17 L211.2,274.15 L211.5,233.20 L211.5,267.53 L211.8,277.07 L211.9,285.57 L212.1,262.51 L212.4,264.04 L212.6,268.99 L212.8,279.35 L212.9,260.35 L213,250.53 L213.1,265.76 L213.2,281.41 L213.4,271.39 L213.7,269.07 L214,267.14 L214.3,266.87 L214.7,266.07 L214.9,280.09 L215.2,276.20 L215.6,271.62 L215.9,280.69 L216.2,283.70 L216.6,276.36 L217,265.60 L217.2,278.16 L217.5,272.48 L217.7,275.32 L218.1,279.69 L218.3,282.43 L218.6,273.96 L218.9,281.11 L219.2,267.06 L219.5,268.85 L219.9,288.48 L220.2,262.99 L220.4,273.97 L220.8,267.26 L221.2,290.06 L221.6,268.48 L221.9,284.49 L222.1,275.65 L222.5,281.26 L222.8,277.73 L223.2,279.01 L223.6,283.36 L223.9,283.25 L224.2,272.24 L224.5,278.52 L224.8,280.17 L225.2,270.84 L225.5,283.77 L225.7,270.40 L226,275.41 L226.4,284.13 L226.7,288.58 L227,286.26 L227.2,282.62 L227.6,283.94 L227.9,268.94 L228.2,279.62 L228.6,290.05 L228.9,288.07 L229.2,281.66 L229.4,284.36 L229.6,271.79 L229.9,282.57 L230.2,271.77 L230.5,280.52 L230.7,274.84 L231.1,283.38 L231.5,284.35 L231.8,277.65 L232,282.04 L232.4,284.48 L232.7,285.25 L233.1,279.01 L233.5,282.01 L233.7,284.19 L233.9,284.91 L234.3,286.54 L234.6,286.81 L234.9,287.75 L235.2,287.79 L235.5,286.23 L235.9,290.83 L236.2,290.88 L236.4,287.35 L236.7,288.71 L237,286.21 L237.3,286.91 L237.6,286.97 L238,286.95 L238.4,286.73 L238.7,287.81 L239,286.22 L239.3,289.68 L239.5,288.95 L239.8,289.69 L240.1,288.35 L240.4,291.01 L240.7,288.89 L241,288.42 L241.3,287.19 L241.6,287.17 L241.9,287.52 L242.3,286.68 L242.4,281.95 L242.5,287.71 L242.7,259.20 L242.8,288.29 L242.9,283.57 L243.2,288.28 L243.5,288.40 L243.8,291.33 L244,290.13 L244.3,284.98 L244.6,282.59 L245,290.89 L246.5,286.99 L246.9,285.48 L247.2,285.39 L247.6,286.48 L247.9,286.36 L248.2,288.78 L248.5,288.42 L248.8,290.57 L249.2,289.08 L249.6,287.36 L249.9,286.32 L250.1,289.47 L250.3,287.34 L250.7,291.09 L251,288.17 L251.3,286.97 L251.6,288.25 L252,285.61 L252.3,287.00 L252.7,283.80 L252.9,287.59 L253.2,290.71 L253.4,287.67 L253.8,286.96 L254.1,286.72 L254.3,289.31 L254.6,290.97 L254.9,287.50 L255.3,286.36 L255.7,288.30 L256,284.56 L256.3,282.34 L256.7,281.11 L257.1,278.51 L257.4,290.93 L257.6,283.06 L258,290.27 L258.4,288.83 L258.8,276.61 L259.1,275.34 L259.4,284.09 L259.8,276.77 L260.1,285.07 L260.5,280.80 L260.7,275.89 L261,281.34 L261.3,281.74 L261.6,276.79 L261.8,279.06 L262.2,270.18 L262.4,280.28 L262.6,280.54 L262.9,273.79 L263.2,281.35 L263.6,286.54 L263.9,282.34 L264.2,282.74 L264.2,282.93 L264.4,272.70 L264.5,262.45 L264.7,265.38 L264.8,284.39 L265.1,263.06 L265.4,281.88 L265.8,273.22 L266.1,276.90 L266.4,275.04 L266.7,278.46 L267,275.52 L267.3,283.42 L267.7,274.55 L268,281.02 L268.3,271.46 L268.6,267.36 L268.9,281.34 L269.3,280.19 L269.7,271.14 L270.1,278.46 L270.5,287.40 L270.9,277.19 L271.2,276.70 L271.4,278.82 L271.7,276.70 L272,275.59 L272.4,277.68 L272.8,282.50 L273.1,290.80 L273.4,273.62 L273.6,271.93 L274,274.77 L274.2,283.48 L274.6,278.74 L274.8,282.33 L275.1,283.76 L275.4,281.41 L275.8,274.74 L276.1,285.74 L276.4,281.23 L276.7,270.69 L277,283.13 L277.3,285.06 L277.6,278.11 L277.9,281.11 L278.4,278.87 L278.6,283.17 L279,277.05 L279.4,276.13 L279.7,279.65 L280,289.48 L280.3,275.34 L280.5,278.01 L280.8,283.94 L281.2,280.04 L281.5,274.23 L281.8,283.49 L282.2,289.16 L282.5,275.05 L282.8,270.73 L283,277.38 L283.3,279.44 L283.7,269.80 L284.1,278.31 L284.5,274.22 L284.9,288.63 L285.2,281.96 L285.6,267.77 L285.8,279.35 L285.9,276.83 L286,250.53 L286.1,266.52 L286.2,281.41 L286.5,282.66 L286.8,275.96 L287.1,284.89 L287.5,272.67 L287.7,277.08 L288,286.88 L288.3,282.63 L288.6,290.56 L289,275.43 L289.2,284.97 L289.5,280.09 L289.8,285.51 L290.2,270.25 L290.5,281.54 L290.9,283.14 L291.1,272.13 L291.5,285.00 L291.8,290.75 L292.1,279.50 L292.5,289.52 L292.7,284.97 L293.1,281.21 L293.5,276.95 L293.8,277.91 L294.1,279.96 L294.4,283.16 L294.7,283.52 L295,288.75 L295.2,283.20 L295.5,286.95 L295.8,284.34 L296.1,284.62 L296.3,281.73 L296.6,282.20 L296.8,286.32 L297.1,285.38 L297.4,286.15 L297.8,291.28 L298.1,285.65 L298.4,287.77 L298.6,289.30 L299,288.73 L299.3,287.51 L299.7,290.75 L299.9,288.87 L300.3,290.31 L300.7,288.86 L300.9,289.25 L301.3,287.84 L301.5,289.04 L301.9,288.88 L302.2,291.18 L302.6,291.40 L303,288.13 L303.2,291.14 L303.6,286.87 L303.9,288.25 L304.3,290.56 L304.6,291.10 L304.9,287.87 L305.2,289.43 L305.6,290.91 L305.8,289.91 L306.1,286.87 L306.5,289.17 L306.8,289.07 L307.1,286.97 L307.4,289.25 L307.7,288.14 L308,290.56 L308.3,288.74 L308.6,287.30 L309,288.94 L309.3,290.07 L309.5,290.31 L309.9,289.14 L310.2,286.26 L310.6,290.27 L310.9,287.29 L311.3,290.19 L311.6,288.33 L312,289.55 L312.5,289.69 L312.8,289.72 L313.1,291.07 L313.4,289.71 L313.6,289.64 L313.9,289.01 L314.3,286.60 L314.7,288.85 L315.1,288.50 L315.5,289.55 L315.7,289.25 L316.1,288.96 L316.4,287.54 L316.7,289.19 L317,289.86 L317.4,289.96 L317.8,290.94 L318,289.28 L318.4,290.85 L318.6,290.97 L319.1,288.06 L319.4,290.21 L319.8,287.29 L320,290.11 L320.4,289.58 L320.6,289.46 L321.1,290.30 L321.3,288.99 L321.7,288.14 L322.2,287.84 L322.4,288.60 L322.7,288.39 L323.1,290.99 L323.6,291.44 L323.9,290.25 L324.2,288.62 L324.5,288.58 L324.9,291.51 L325.3,288.32 L325.6,289.42 L325.8,289.54 L326.1,289.16 L326.5,289.29 L326.9,286.67 L327.1,287.06 L327.4,287.38 L327.7,288.77 L328.1,286.24 L328.4,286.83 L328.7,287.51 L329,288.66 L329.2,285.69 L329.5,285.98 L329.9,289.06 L330.3,287.92 L330.7,287.79 L331,286.50 L331.4,290.38 L331.7,289.40 L332,280.01 L332.4,286.02 L332.8,278.63 L333.2,279.73 L333.5,282.29 L334,284.68 L334.2,280.02 L334.4,275.91 L334.7,285.82 L334.9,282.64 L335.2,282.39 L335.7,290.43 L335.9,278.90 L336.3,284.12 L336.6,281.85 L337,278.45 L337.3,277.08 L337.6,268.17 L337.8,281.30 L337.8,276.63 L338,257.03 L338,268.38 L338.2,283.03 L338.4,269.32 L338.6,275.48 L339,281.22 L339.2,283.71 L339.5,279.78 L339.8,280.96 L340.1,277.70 L340.4,278.86 L340.7,281.26 L341.1,270.37 L341.3,267.46 L341.6,262.88 L341.9,279.73 L342.3,280.55 L342.7,272.46 L342.8,281.30 L343,273.73 L343,257.03 L343.2,283.03 L343.3,287.85 L343.5,273.80 L343.9,288.28 L344.2,271.37 L344.4,283.81 L344.8,275.20 L345.2,275.13 L345.5,279.57 L345.9,280.77 L346.2,280.77 L346.5,271.64 L346.9,276.38 L347.3,278.54 L347.7,278.78 L347.8,285.20 L347.9,283.75 L348,270.03 L348.2,286.48 L348.2,286.28 L348.5,279.22 L348.8,277.95 L349.2,288.89 L349.4,278.56 L349.7,273.13 L350.1,280.85 L350.3,286.15 L350.7,279.14 L351.1,277.46 L351.5,282.78 L351.8,285.85 L351.8,290.60 L352,272.20 L352.1,280.03 L352.2,286.82 L352.5,281.48 L352.8,284.81 L353.1,278.03 L353.4,278.89 L353.7,282.05 L354.1,285.16 L354.4,284.54 L354.6,284.64 L354.9,286.87 L355.2,287.06 L355.5,291.27 L355.8,282.53 L356.1,285.55 L356.4,281.41 L356.6,282.97 L357,283.01 L357.4,285.97 L357.7,284.27 L358,287.80 L358.3,286.69 L358.6,286.89 L359,285.31 L359.3,288.59 L359.6,284.96 L359.9,290.98 L360.2,288.57 L360.5,285.50 L360.8,285.67 L361.2,290.09 L361.4,290.52 L361.6,290.67 L361.9,289.58 L362.3,285.85 L362.6,288.32 L362.9,284.49 L363.2,286.97 L363.6,285.12 L364,287.35 L364.3,287.69 L364.6,287.85 L365,287.20 L365.4,287.78 L365.8,286.22 L366.1,286.57 L366.4,285.91 L366.7,288.08 L367.1,287.05 L367.4,288.73 L367.8,291.04 L368.1,288.28 L368.4,287.38 L368.7,290.13 L369,288.31 L369.3,288.82 L369.7,289.32 L369.9,289.47 L370.3,290.35 L370.6,289.06 L371.1,289.24 L371.4,290.03 L371.7,288.64 L372,289.15 L372.3,288.98 L372.6,288.65 L373,288.25 L373.2,288.56 L373.6,289.54 L373.9,289.33 L374.1,289.18 L374.3,288.82 L374.7,290.26 L375,290.97 L375.4,289.42 L375.7,290.84 L376.1,287.19 L376.5,287.87 L376.7,289.37 L377,288.65 L377.4,289.64 L377.6,289.88 L378.1,289.20 L378.4,288.10 L378.7,287.60 L379.1,286.98 L379.5,289.71 L379.7,290.45 L380.1,290.92 L380.4,290.39 L380.7,288.54 L381,290.48 L381.2,291.06 L381.5,289.25 L381.9,289.67 L382.1,289.90 L382.4,290.03 L382.7,291.36 L383,290.40 L383.4,289.57 L383.7,289.06 L384,289.16 L384.4,289.76 L384.7,289.43 L385,288.57 L385.3,291.33 L385.5,289.04 L385.8,287.00 L386.2,288.64 L386.5,289.28 L386.9,287.59 L387.3,290.03 L387.5,288.73 L387.9,287.90 L388.2,290.11 L388.6,291.44 L388.9,290.24 L389.2,289.64 L389.6,289.43 L389.9,288.79 L390.2,287.49 L390.5,289.19 L390.9,291.37 L391.2,287.93 L391.6,287.60 L392,290.90 L392.2,288.29 L392.6,291.53 L393,287.78 L393.2,287.46 L393.6,290.02 L394,287.27 L394.3,290.54 L394.7,288.93 L394.8,289.43 L394.9,290.21 L395,284.12 L395.2,289.80 L395.3,290.05 L395.5,289.03 L395.8,287.74 L396,288.82 L396.5,288.89 L396.8,289.16 L397,289.40 L397.3,291.54 L397.7,289.45 L398,287.88 L398.2,288.96 L398.6,289.63 L398.9,290.06 L399.3,291.36 L399.6,288.55 L399.9,288.25 L400.2,289.83 L400.4,291.52 L400.8,290.00 L401.1,288.56 L401.5,291.44 L401.7,287.89 L402,289.81 L402.3,289.28 L402.5,288.97 L402.8,290.25 L403.1,287.62 L403.4,289.04 L403.7,288.34 L403.9,288.98 L404.2,288.61 L404.4,289.95 L404.8,289.04 L405.2,287.14 L405.6,290.09 L406,287.74 L406.3,287.13 L406.7,286.95 L407.1,287.56 L407.5,286.32 L407.9,285.62 L408.1,289.12 L408.4,289.51 L408.7,287.27 L409,288.17 L409.2,289.58 L409.6,290.08 L409.8,291.14 L410.1,287.69 L410.3,288.96 L410.6,286.42 L411,288.30 L411.3,286.47 L411.4,287.80 L411.6,288.87 L411.7,278.70 L411.9,288.45 L412,288.67 L412.3,286.11 L412.6,284.89 L413,285.81 L413.2,291.45 L413.5,287.12 L413.9,288.38 L414.1,289.69 L414.4,291.30 L414.6,289.39 L414.9,288.69 L415.2,287.41 L415.6,287.97 L416,286.73 L416.2,287.90 L416.6,290.96 L416.8,288.38 L417.2,291.38 L417.5,286.95 L417.9,288.66 L418.2,288.87 L418.6,288.88 L418.9,287.04 L419.1,289.84 L419.5,285.91 L419.8,287.58 L420.1,288.70 L420.5,285.78 L420.9,288.96 L421.2,286.04 L421.4,288.22 L421.7,288.80 L422.1,288.12 L422.5,291.34 L422.8,283.99 L423.2,283.70 L423.5,287.59 L424,281.54 L424.2,284.67 L424.5,285.50 L424.9,288.60 L425.3,280.35 L425.7,286.02 L426,286.04 L426.4,284.07 L426.7,280.17 L427,290.88 L427.2,282.16 L427.6,283.45 L427.8,281.40 L428.1,281.57 L428.4,281.53 L428.8,283.24 L429.2,282.96 L429.5,283.22 L429.8,278.37 L430.1,282.01 L430.5,282.24 L430.7,274.78 L431,283.84 L431.2,273.69 L431.5,274.80 L431.7,279.70 L432,267.47 L432.3,273.09 L432.6,271.44 L432.8,281.95 L432.9,267.12 L433,259.20 L433.1,273.38 L433.2,283.57 L433.3,272.97 L433.6,288.13 L433.9,275.96 L434.3,271.24 L434.5,279.92 L434.9,289.98 L435.2,255.71 L435.2,279.35 L435.5,250.53 L435.5,262.14 L435.8,281.41 L435.9,271.96 L436.3,278.39 L436.6,271.83 L436.9,271.46 L437.2,281.30 L437.3,280.81 L437.5,257.03 L437.6,289.81 L437.8,283.03 L438,276.69 L438.3,280.06 L438.7,273.60 L439.1,288.60 L439.3,284.68 L439.6,278.75 L439.9,279.40 L440.2,282.14 L440.5,290.35 L440.8,276.54 L441,272.48 L441.3,267.35 L441.7,268.15 L442.1,281.80 L442.4,271.82 L442.8,280.23 L443,283.44 L443.4,278.64 L443.7,282.05 L444,279.97 L444.3,280.83 L444.6,289.70 L444.9,290.83 L445.2,276.59 L445.4,281.53 L445.7,272.43 L446.1,283.37 L446.3,287.72 L446.6,276.06 L446.8,274.51 L447.2,282.07 L447.5,280.32 L447.9,276.84 L448.3,275.66 L448.7,272.45 L448.9,285.05 L449.2,277.97 L449.6,273.49 L450,286.22 L450.2,282.91 L450.6,279.59 L450.9,280.60 L451.2,286.63 L451.4,282.67 L451.7,285.02 L451.9,284.81 L452.2,285.55 L452.5,285.48 L452.7,290.01 L452.9,285.34 L453.2,287.87 L453.5,284.33 L453.8,283.18 L454.1,282.71 L454.5,283.72 L454.8,284.18 L455.2,281.92 L455.4,283.37 L455.7,287.30 L456.1,280.02 L456.3,286.32 L456.4,280.65 L456.7,281.64 L456.7,254.87 L456.9,282.49 L457,287.57 L457.2,281.31 L457.6,287.62 L458,288.17 L458.4,288.70 L458.7,288.53 L460.3,288.05 L460.6,284.89 L460.8,286.42 L461.1,285.51 L461.6,284.13 L461.9,287.88 L462.2,286.42 L462.5,288.01 L462.8,291.15 L463.1,289.45 L463.4,286.69 L463.8,289.40 L464.2,287.31 L464.5,287.21 L464.8,288.10 L465.2,287.75 L465.4,289.22 L465.7,286.76 L466.1,287.14 L466.5,289.72 L466.9,287.24 L467.1,290.65 L467.4,286.79 L467.7,287.86 L468.1,287.96 L468.3,287.70 L468.7,289.36 L469,288.26 L469.2,291.06 L469.5,289.30 L469.8,287.05 L470.2,290.47 L470.5,287.83 L470.8,289.62 L471.2,290.62 L471.6,287.65 L471.9,286.96 L472.4,289.86 L472.7,287.20 L472.8,287.15 L473,276.53 L473,290.08 L473.2,287.91 L473.4,287.38 L473.8,288.12 L474.2,287.74 L474.5,291.20 L474.8,288.84 L475.1,289.62 L475.3,289.38 L475.7,286.68 L476,288.89 L476.3,289.60 L476.6,288.60 L476.9,288.84 L477.2,291.09 L477.5,287.54 L477.9,287.47 L478.2,291.40 L478.6,287.14 L479,285.29 L479.3,289.51 L479.7,288.88 L480.1,289.46 L480.5,288.80 L480.8,288.33 L481.1,285.53 L481.5,288.48 L481.9,290.59 L482.1,290.02 L482.4,287.30 L482.6,289.25 L483,287.44 L483.3,290.41 L483.5,285.69 L483.9,290.39 L484.3,286.39 L484.6,287.43 L484.9,285.99 L485.2,288.13 L485.4,290.09 L485.8,287.36 L486,286.09 L486.4,286.13 L486.6,288.95 L486.9,290.86 L487.2,286.54 L487.5,288.11 L487.7,290.79 L488.1,290.71 L488.4,287.49 L488.7,289.62 L489.2,287.21 L489.5,291.09 L489.9,291.14 L490.1,288.53 L490.4,288.94 L490.7,286.98 L490.9,289.31 L491.2,288.41 L491.6,287.93 L492,290.70 L492.3,286.38 L492.7,289.29 L493,288.32 L493.2,288.81 L493.4,290.48 L493.8,288.77 L494.3,284.90 L494.7,286.17 L494.9,290.32 L495.2,289.07 L495.6,285.94 L495.9,286.19 L496.3,285.64 L496.6,289.51 L497,286.66 L497.3,286.76 L497.7,289.12 L498,290.57 L498.3,289.02 L498.6,286.89 L498.9,287.13 L499.2,289.86 L499.6,288.51 L499.8,289.88 L500.1,291.06 L500.5,287.19 L500.8,289.73 L501.2,288.38 L501.5,289.55 L501.7,290.91 L502,287.29 L502.3,288.90 L502.6,287.00 L503,289.15 L503.2,285.37 L503.6,287.82 L503.9,286.89 L504.3,282.46 L504.5,289.67 L504.8,286.18 L504.9,282.53 L505,273.28 L505.2,284.25 L505.2,287.10 L505.6,286.28 L506,282.96 L506.2,283.53 L506.6,281.94 L507,284.32 L507.3,291.30 L507.6,288.25 L508,280.96 L508.3,284.66 L508.6,284.58 L509,286.10 L509.3,287.00 L509.6,285.19 L510,287.21 L510.3,285.82 L510.7,285.26 L511,284.49 L511.3,287.38 L511.6,284.09 L512,286.29 L512.3,288.46 L512.7,291.10 L513,283.48 L513.2,288.72 L513.5,286.74 L513.9,288.08 L514.2,288.34 L514.5,284.67 L514.9,285.47 L515.2,286.95 L515.5,288.01 L515.9,286.17 L516.4,286.59 L516.6,290.15 L517,284.02 L517.3,284.94 L517.6,284.41 L517.9,289.83 L518.3,282.23 L518.6,281.79 L518.9,280.65 L519.2,287.12 L519.5,287.61 L519.8,287.15 L519.9,288.93 L520,276.53 L520.2,287.91 L520.3,283.83 L520.6,281.51 L520.9,287.39 L521.2,284.53 L521.6,286.18 L522,286.71 L522.4,288.24 L522.7,286.97 L523,286.23 L523.3,287.26 L523.6,284.30 L524,282.94 L524.3,286.85 L524.7,283.50 L524.9,285.97 L525.2,287.15 L525.3,284.44 L525.5,276.53 L525.7,282.97 L525.8,287.91 L526,281.34 L526.2,287.35" fill="none" stroke="#000" stroke-width="0.5" stroke-linejoin="miter"/>
<line x1="245.7" y1="291.7" x2="245.7" y2="192" stroke="#555" stroke-width="0.9" />
<line x1="245.7" y1="291.7" x2="245.7" y2="270" stroke="#111" stroke-width="1.0" />
<line x1="459.3" y1="291.7" x2="459.3" y2="192" stroke="#777" stroke-width="0.9" />
<line x1="459.6" y1="291.7" x2="459.6" y2="226.7" stroke="#222" stroke-width="1.0" />
<line x1="80.7" y1="218.1" x2="526.7" y2="218.1" stroke="#ff1a1a" stroke-width="1.35" stroke-dasharray="9.4 4.2" stroke-dashoffset="4.1"/>
<rect x="80.7" y="161.7" width="446" height="130" fill="none" stroke="#333" stroke-width="1.1" />
<line x1="78.4" y1="291.7" x2="80.7" y2="291.7" stroke="#333" stroke-width="0.8" />
<text x="75.3" y="294.4" font-size="7.5" text-anchor="end" fill="#000" stroke="#000" stroke-width="0.1">0</text>
<line x1="78.4" y1="270" x2="80.7" y2="270" stroke="#333" stroke-width="0.8" />
<text x="75.3" y="272.7" font-size="7.5" text-anchor="end" fill="#000" stroke="#000" stroke-width="0.1">1</text>
<line x1="78.4" y1="248.4" x2="80.7" y2="248.4" stroke="#333" stroke-width="0.8" />
<text x="75.3" y="251.1" font-size="7.5" text-anchor="end" fill="#000" stroke="#000" stroke-width="0.1">2</text>
<line x1="78.4" y1="226.7" x2="80.7" y2="226.7" stroke="#333" stroke-width="0.8" />
<text x="75.3" y="229.4" font-size="7.5" text-anchor="end" fill="#000" stroke="#000" stroke-width="0.1">3</text>
<line x1="78.4" y1="205" x2="80.7" y2="205" stroke="#333" stroke-width="0.8" />
<text x="75.3" y="207.7" font-size="7.5" text-anchor="end" fill="#000" stroke="#000" stroke-width="0.1">4</text>
<line x1="78.4" y1="183.4" x2="80.7" y2="183.4" stroke="#333" stroke-width="0.8" />
<text x="75.3" y="186.1" font-size="7.5" text-anchor="end" fill="#000" stroke="#000" stroke-width="0.1">5</text>
<line x1="78.4" y1="161.7" x2="80.7" y2="161.7" stroke="#333" stroke-width="0.8" />
<text x="75.3" y="164.4" font-size="7.5" text-anchor="end" fill="#000" stroke="#000" stroke-width="0.1">6</text>
<text x="64.5" y="224" font-size="7.2" text-anchor="middle" fill="#000" font-weight="bold" transform="rotate(-90 64.5 224)">LOD</text>
<text x="84.3" y="301.7" font-size="7.5" text-anchor="middle" fill="#000" stroke="#000" stroke-width="0.1">Chr</text>
<text x="102.3" y="301.7" font-size="7.5" text-anchor="middle" fill="#000" stroke="#000" stroke-width="0.1">1</text>
<text x="172.7" y="301.7" font-size="7.5" text-anchor="middle" fill="#000" stroke="#000" stroke-width="0.1">2</text>
<text x="255" y="301.7" font-size="7.5" text-anchor="middle" fill="#000" stroke="#000" stroke-width="0.1">3</text>
<text x="310" y="301.7" font-size="7.5" text-anchor="middle" fill="#000" stroke="#000" stroke-width="0.1">4</text>
<text x="365" y="301.7" font-size="7.5" text-anchor="middle" fill="#000" stroke="#000" stroke-width="0.1">5</text>
<text x="432.3" y="301.7" font-size="7.5" text-anchor="middle" fill="#000" stroke="#000" stroke-width="0.1">6</text>
<text x="496" y="301.7" font-size="7.5" text-anchor="middle" fill="#000" stroke="#000" stroke-width="0.1">7</text>
<text x="265" y="169.2" font-size="7.6" text-anchor="middle" fill="#f01010" font-weight="bold">QTL1</text>
<line x1="263.5" y1="172.5" x2="249.5" y2="186.8" stroke="#f01010" stroke-width="1.2" />
<polygon points="247.3,189 248.5,185.1 251.2,187.8" fill="#f01010"/>
<text x="485.8" y="169.2" font-size="7.6" text-anchor="middle" fill="#1a1aee" font-weight="bold">QTL2</text>
<line x1="483.5" y1="172.5" x2="463.5" y2="187.6" stroke="#1a1aee" stroke-width="1.2" />
<polygon points="461,189.5 462.7,185.8 465,188.8" fill="#1a1aee"/>
<text x="53.2" y="309.6" font-size="9.5" text-anchor="middle" fill="#000" font-weight="bold">e</text>
<path d="M98.6,321.3 C98.6,360 105.4,350.6 105.4,389.3 L106.5,389.3 C106.5,350.6 99.7,360 99.7,321.3 Z" fill="#d9d9d9" fill-opacity="0.95"/>
<path d="M99.9,321.3 C99.9,353.5 106.8,357.1 106.8,389.3 L107.4,389.3 C107.4,357.1 100.4,353.5 100.4,321.3 Z" fill="#d9d9d9" fill-opacity="0.95"/>
<path d="M101.2,321.3 C101.2,348.7 107.6,361.9 107.6,389.3 L108.7,389.3 C108.7,361.9 102.4,348.7 102.4,321.3 Z" fill="#d9d9d9" fill-opacity="0.95"/>
<path d="M102,321.3 C102,354.9 108.1,355.7 108.1,389.3 L109,389.3 C109,355.7 102.9,354.9 102.9,321.3 Z" fill="#d9d9d9" fill-opacity="0.95"/>
<path d="M102.8,321.3 C102.8,359.6 109.2,351 109.2,389.3 L109.9,389.3 C109.9,351 103.5,359.6 103.5,321.3 Z" fill="#d9d9d9" fill-opacity="0.95"/>
<path d="M104.5,321.3 C104.5,349 110.2,361.6 110.2,389.3 L111.3,389.3 C111.3,361.6 105.6,349 105.6,321.3 Z" fill="#d9d9d9" fill-opacity="0.95"/>
<path d="M105.6,321.3 C105.6,359 111.3,351.6 111.3,389.3 L111.9,389.3 C111.9,351.6 106.1,359 106.1,321.3 Z" fill="#d9d9d9" fill-opacity="0.95"/>
<path d="M106.4,321.3 C106.4,359 112.6,351.6 112.6,389.3 L113.9,389.3 C113.9,351.6 107.7,359 107.7,321.3 Z" fill="#d9d9d9" fill-opacity="0.95"/>
<path d="M107.7,321.3 C107.7,356.4 115,354.2 115,389.3 L115.9,389.3 C115.9,354.2 108.6,356.4 108.6,321.3 Z" fill="#d9d9d9" fill-opacity="0.95"/>
<path d="M108.8,321.3 C108.8,360.3 116.1,350.3 116.1,389.3 L117.1,389.3 C117.1,350.3 109.8,360.3 109.8,321.3 Z" fill="#d9d9d9" fill-opacity="0.95"/>
<path d="M110.5,321.3 C110.5,349.4 116.2,361.2 116.2,389.3 L117,389.3 C117,361.2 111.3,349.4 111.3,321.3 Z" fill="#d9d9d9" fill-opacity="0.95"/>
<path d="M111,321.3 C111,355.3 117,355.3 117,389.3 L117.8,389.3 C117.8,355.3 111.8,355.3 111.8,321.3 Z" fill="#d9d9d9" fill-opacity="0.95"/>
<path d="M112.1,321.3 C112.1,351.4 119.2,359.2 119.2,389.3 L119.9,389.3 C119.9,359.2 112.9,351.4 112.9,321.3 Z" fill="#d9d9d9" fill-opacity="0.95"/>
<path d="M113.9,321.3 C113.9,353.7 120,356.9 120,389.3 L120.8,389.3 C120.8,356.9 114.7,353.7 114.7,321.3 Z" fill="#d9d9d9" fill-opacity="0.95"/>
<path d="M115,321.3 C115,347.5 120.5,363.1 120.5,389.3 L121.7,389.3 C121.7,363.1 116.2,347.5 116.2,321.3 Z" fill="#d9d9d9" fill-opacity="0.95"/>
<path d="M116.2,321.3 C116.2,357.9 122.9,352.7 122.9,389.3 L123.5,389.3 C123.5,352.7 116.7,357.9 116.7,321.3 Z" fill="#d9d9d9" fill-opacity="0.95"/>
<path d="M117,321.3 C117,347.8 123.6,362.8 123.6,389.3 L124.2,389.3 C124.2,362.8 117.6,347.8 117.6,321.3 Z" fill="#d9d9d9" fill-opacity="0.95"/>
<path d="M118.1,321.3 C118.1,357.4 125.4,353.2 125.4,389.3 L126.1,389.3 C126.1,353.2 118.7,357.4 118.7,321.3 Z" fill="#d9d9d9" fill-opacity="0.95"/>
<path d="M119.8,321.3 C119.8,352 126.5,358.6 126.5,389.3 L127.3,389.3 C127.3,358.6 120.6,352 120.6,321.3 Z" fill="#d9d9d9" fill-opacity="0.95"/>
<path d="M120.7,321.3 C120.7,357.3 127.4,353.3 127.4,389.3 L128,389.3 C128,353.3 121.3,357.3 121.3,321.3 Z" fill="#d9d9d9" fill-opacity="0.95"/>
<path d="M122,321.3 C122,360 128.7,350.6 128.7,389.3 L129.3,389.3 C129.3,350.6 122.6,360 122.6,321.3 Z" fill="#d9d9d9" fill-opacity="0.95"/>
<path d="M122.6,321.3 C122.6,359.6 129,351 129,389.3 L130,389.3 C130,351 123.6,359.6 123.6,321.3 Z" fill="#d9d9d9" fill-opacity="0.95"/>
<path d="M124,321.3 C124,351.4 131.1,359.2 131.1,389.3 L132.1,389.3 C132.1,359.2 124.9,351.4 124.9,321.3 Z" fill="#d9d9d9" fill-opacity="0.95"/>
<path d="M125.2,321.3 C125.2,349.2 131.1,361.4 131.1,389.3 L131.7,389.3 C131.7,361.4 125.8,349.2 125.8,321.3 Z" fill="#d9d9d9" fill-opacity="0.95"/>
<path d="M135.2,321.3 C135.2,347.8 138.3,362.8 138.3,389.3 L139,389.3 C139,362.8 135.8,347.8 135.8,321.3 Z" fill="#d9d9d9" fill-opacity="0.95"/>
<path d="M136.6,321.3 C136.6,350.4 138.9,360.2 138.9,389.3 L139.8,389.3 C139.8,360.2 137.4,350.4 137.4,321.3 Z" fill="#d9d9d9" fill-opacity="0.95"/>
<path d="M137.5,321.3 C137.5,352.9 140.8,357.7 140.8,389.3 L141.6,389.3 C141.6,357.7 138.4,352.9 138.4,321.3 Z" fill="#d9d9d9" fill-opacity="0.95"/>
<path d="M138.3,321.3 C138.3,353.9 142.3,356.7 142.3,389.3 L142.9,389.3 C142.9,356.7 138.9,353.9 138.9,321.3 Z" fill="#d9d9d9" fill-opacity="0.95"/>
<path d="M140.1,321.3 C140.1,360.1 142.4,350.5 142.4,389.3 L143.5,389.3 C143.5,350.5 141.2,360.1 141.2,321.3 Z" fill="#d9d9d9" fill-opacity="0.95"/>
<path d="M141.2,321.3 C141.2,353 144.8,357.6 144.8,389.3 L145.4,389.3 C145.4,357.6 141.8,353 141.8,321.3 Z" fill="#d9d9d9" fill-opacity="0.95"/>
<path d="M142,321.3 C142,353.3 146.3,357.3 146.3,389.3 L147,389.3 C147,357.3 142.8,353.3 142.8,321.3 Z" fill="#d9d9d9" fill-opacity="0.95"/>
<path d="M143.9,321.3 C143.9,353.3 147.7,357.3 147.7,389.3 L148.9,389.3 C148.9,357.3 145.1,353.3 145.1,321.3 Z" fill="#d9d9d9" fill-opacity="0.95"/>
<path d="M144.7,321.3 C144.7,351.1 148.8,359.5 148.8,389.3 L149.7,389.3 C149.7,359.5 145.6,351.1 145.6,321.3 Z" fill="#d9d9d9" fill-opacity="0.95"/>
<path d="M145.9,321.3 C145.9,360.6 149.3,350 149.3,389.3 L150.1,389.3 C150.1,350 146.7,360.6 146.7,321.3 Z" fill="#d9d9d9" fill-opacity="0.95"/>
<path d="M147.5,321.3 C147.5,351.7 151.4,358.9 151.4,389.3 L152.3,389.3 C152.3,358.9 148.4,351.7 148.4,321.3 Z" fill="#d9d9d9" fill-opacity="0.95"/>
<path d="M148,321.3 C148,358.9 152.2,351.7 152.2,389.3 L153.3,389.3 C153.3,351.7 149.1,358.9 149.1,321.3 Z" fill="#d9d9d9" fill-opacity="0.95"/>
<path d="M149.5,321.3 C149.5,356.6 154.4,354 154.4,389.3 L155.5,389.3 C155.5,354 150.6,356.6 150.6,321.3 Z" fill="#d9d9d9" fill-opacity="0.95"/>
<path d="M150.9,321.3 C150.9,356.7 155.7,353.9 155.7,389.3 L156.5,389.3 C156.5,353.9 151.7,356.7 151.7,321.3 Z" fill="#d9d9d9" fill-opacity="0.95"/>
<path d="M151.8,321.3 C151.8,356.5 156.7,354.1 156.7,389.3 L157.8,389.3 C157.8,354.1 152.9,356.5 152.9,321.3 Z" fill="#d9d9d9" fill-opacity="0.95"/>
<path d="M153,321.3 C153,355 158.8,355.6 158.8,389.3 L159.8,389.3 C159.8,355.6 154.1,355 154.1,321.3 Z" fill="#d9d9d9" fill-opacity="0.95"/>
<path d="M154,321.3 C154,356.3 159.5,354.3 159.5,389.3 L160.2,389.3 C160.2,354.3 154.8,356.3 154.8,321.3 Z" fill="#d9d9d9" fill-opacity="0.95"/>
<path d="M155.6,321.3 C155.6,358 161.3,352.6 161.3,389.3 L162.3,389.3 C162.3,352.6 156.6,358 156.6,321.3 Z" fill="#d9d9d9" fill-opacity="0.95"/>
<path d="M156.7,321.3 C156.7,358.4 162.4,352.2 162.4,389.3 L163.5,389.3 C163.5,352.2 157.8,358.4 157.8,321.3 Z" fill="#d9d9d9" fill-opacity="0.95"/>
<path d="M158,321.3 C158,356.5 164.1,354.1 164.1,389.3 L165.3,389.3 C165.3,354.1 159.1,356.5 159.1,321.3 Z" fill="#d9d9d9" fill-opacity="0.95"/>
<path d="M159.7,321.3 C159.7,354.3 165.7,356.3 165.7,389.3 L166.6,389.3 C166.6,356.3 160.6,354.3 160.6,321.3 Z" fill="#d9d9d9" fill-opacity="0.95"/>
<path d="M160.2,321.3 C160.2,353.6 166.8,357 166.8,389.3 L168,389.3 C168,357 161.4,353.6 161.4,321.3 Z" fill="#d9d9d9" fill-opacity="0.95"/>
<path d="M161.9,321.3 C161.9,349.5 168,361.1 168,389.3 L169.1,389.3 C169.1,361.1 162.9,349.5 162.9,321.3 Z" fill="#d9d9d9" fill-opacity="0.95"/>
<path d="M163.2,321.3 C163.2,352.9 169.2,357.7 169.2,389.3 L170.2,389.3 C170.2,357.7 164.2,352.9 164.2,321.3 Z" fill="#d9d9d9" fill-opacity="0.95"/>
<path d="M164.2,321.3 C164.2,356.9 170.9,353.7 170.9,389.3 L171.8,389.3 C171.8,353.7 165.2,356.9 165.2,321.3 Z" fill="#d9d9d9" fill-opacity="0.95"/>
<path d="M165,321.3 C165,356 171.2,354.6 171.2,389.3 L172.1,389.3 C172.1,354.6 165.8,356 165.8,321.3 Z" fill="#d9d9d9" fill-opacity="0.95"/>
<path d="M166.3,321.3 C166.3,347.7 173.5,362.9 173.5,389.3 L174.4,389.3 C174.4,362.9 167.3,347.7 167.3,321.3 Z" fill="#d9d9d9" fill-opacity="0.95"/>
<path d="M167.8,321.3 C167.8,349 174.1,361.6 174.1,389.3 L174.7,389.3 C174.7,361.6 168.4,349 168.4,321.3 Z" fill="#d9d9d9" fill-opacity="0.95"/>
<path d="M168.9,321.3 C168.9,347.6 175.4,363 175.4,389.3 L176.1,389.3 C176.1,363 169.5,347.6 169.5,321.3 Z" fill="#d9d9d9" fill-opacity="0.95"/>
<path d="M170.2,321.3 C170.2,355.2 177.1,355.4 177.1,389.3 L178.1,389.3 C178.1,355.4 171.2,355.2 171.2,321.3 Z" fill="#d9d9d9" fill-opacity="0.95"/>
<path d="M171.2,321.3 C171.2,352.7 179.3,357.9 179.3,389.3 L179.8,389.3 C179.8,357.9 171.8,352.7 171.8,321.3 Z" fill="#d9d9d9" fill-opacity="0.95"/>
<path d="M172.5,321.3 C172.5,358.4 179.9,352.2 179.9,389.3 L180.5,389.3 C180.5,352.2 173.1,358.4 173.1,321.3 Z" fill="#d9d9d9" fill-opacity="0.95"/>
<path d="M173.8,321.3 C173.8,348.4 180.6,362.2 180.6,389.3 L181.6,389.3 C181.6,362.2 174.7,348.4 174.7,321.3 Z" fill="#d9d9d9" fill-opacity="0.95"/>
<path d="M175.1,321.3 C175.1,360.2 182.5,350.4 182.5,389.3 L183.5,389.3 C183.5,350.4 176.1,360.2 176.1,321.3 Z" fill="#d9d9d9" fill-opacity="0.95"/>
<path d="M176.5,321.3 C176.5,355.9 184,354.7 184,389.3 L185.1,389.3 C185.1,354.7 177.7,355.9 177.7,321.3 Z" fill="#d9d9d9" fill-opacity="0.95"/>
<path d="M177.4,321.3 C177.4,354.8 184.9,355.8 184.9,389.3 L185.9,389.3 C185.9,355.8 178.4,354.8 178.4,321.3 Z" fill="#d9d9d9" fill-opacity="0.95"/>
<path d="M128.9,321.3 C128.9,355.4 135.2,355.2 135.2,389.3 L135.6,389.3 C135.6,355.2 129.3,355.4 129.3,321.3 Z" fill="#d9d9d9" fill-opacity="0.95"/>
<path d="M130.9,321.3 C130.9,347.2 136.1,363.4 136.1,389.3 L136.5,389.3 C136.5,363.4 131.3,347.2 131.3,321.3 Z" fill="#d9d9d9" fill-opacity="0.95"/>
<path d="M133.2,321.3 C133.2,355.5 136.6,355.1 136.6,389.3 L137,389.3 C137,355.1 133.6,355.5 133.6,321.3 Z" fill="#d9d9d9" fill-opacity="0.95"/>
<path d="M126.4,321.3 C126.9,335 127.2,345 128.6,355 C130.2,366 132,378 133,389.3" fill="none" stroke="#c43a42" stroke-width="2.1" />
<path d="M178.8,321.3 C178.8,355.3 185.8,355.3 185.8,389.3 L196.3,389.3 C196.3,355.3 194.5,355.3 194.5,321.3 Z" fill="#c9474f"/>
<path d="M197.3,321.3 C197.3,355.3 199.8,355.3 199.8,389.3 L206.8,389.3 C206.8,355.3 205,355.3 205,321.3 Z" fill="#c9474f"/>
<path d="M206.8,321.3 C206.8,355.3 208.5,355.3 208.5,389.3 L217.3,389.3 C217.3,355.3 215.5,355.3 215.5,321.3 Z" fill="#c9474f"/>
<path d="M219,321.3 C219,355.3 220,355.3 220,389.3 L223.5,389.3 C223.5,355.3 222.5,355.3 222.5,321.3 Z" fill="#c9474f"/>
<path d="M224.3,321.3 C224.3,355.3 225.5,355.3 225.5,389.3 L229,389.3 C229,355.3 227.8,355.3 227.8,321.3 Z" fill="#c9474f"/>
<path d="M231.2,321.3 C231.2,355.3 232,355.3 232,389.3 L232.7,389.3 C232.7,355.3 231.9,355.3 231.9,321.3 Z" fill="#c9474f"/>
<path d="M234.8,321.3 C234.8,355.3 236,355.3 236,389.3 L239.5,389.3 C239.5,355.3 238.3,355.3 238.3,321.3 Z" fill="#c9474f"/>
<path d="M241.8,321.3 C241.8,355.3 242.5,355.3 242.5,389.3 L243.2,389.3 C243.2,355.3 242.5,355.3 242.5,321.3 Z" fill="#c9474f"/>
<path d="M245.8,321.3 C245.8,355.3 245.8,355.3 245.8,389.3 L259.8,389.3 C259.8,355.3 262.2,355.3 262.2,321.3 Z" fill="#c9474f"/>
<path d="M263.3,321.3 C263.3,355.3 270.3,355.3 270.3,389.3 L278.5,389.3 C278.5,355.3 272.7,355.3 272.7,321.3 Z" fill="#c9474f"/>
<path d="M277.3,321.3 C277.3,355.3 284.3,355.3 284.3,389.3 L289.4,389.3 C289.4,355.3 282.6,355.3 282.6,321.3 Z" fill="#c9474f"/>
<path d="M283.4,321.3 C283.4,355.3 290.2,355.3 290.2,389.3 L320.5,389.3 C320.5,355.3 310,355.3 310,321.3 Z" fill="#c9474f"/>
<path d="M311.2,321.3 C311.2,355.3 321.7,355.3 321.7,389.3 L333.3,389.3 C333.3,355.3 332.2,355.3 332.2,321.3 Z" fill="#c9474f"/>
<path d="M333.8,321.3 C333.8,355.3 336,355.3 336,389.3 L343.8,389.3 C343.8,355.3 342.7,355.3 342.7,321.3 Z" fill="#c9474f"/>
<path d="M343.9,321.3 C343.9,355.3 345,355.3 345,389.3 L372.8,389.3 C372.8,355.3 361.6,355.3 361.6,321.3 Z" fill="#c9474f"/>
<polyline points="187.6,352.5 188,355.5 188.4,358.6 188.8,361.6 189.1,364.7 189.5,367.7 189.8,370.8 190.1,373.8 190.4,376.9" fill="none" stroke="#fff" stroke-width="0.47" stroke-opacity="0.75"/>
<polyline points="195.8,331.5 196.1,336.4 196.4,341.3 196.9,346.2 197.3,351.2 197.8,356.1 198.3,361 198.7,365.9 199.1,370.8" fill="none" stroke="#fff" stroke-width="0.33" stroke-opacity="0.75"/>
<polyline points="195.8,353.3 196.1,357 196.5,360.8 196.9,364.5 197.2,368.2 197.5,372 197.8,375.7 198,379.4 198.2,383.2" fill="none" stroke="#fff" stroke-width="0.59" stroke-opacity="0.75"/>
<polyline points="190.2,338.7 190.5,341.8 190.8,345 191.2,348.2 191.5,351.4 191.9,354.5 192.2,357.7 192.6,360.9 192.9,364.1" fill="none" stroke="#fff" stroke-width="0.59" stroke-opacity="0.75"/>
<polyline points="192.3,338.5 192.5,341.3 192.8,344.1 193,346.8 193.3,349.6 193.6,352.4 193.9,355.1 194.2,357.9 194.5,360.7" fill="none" stroke="#fff" stroke-width="0.59" stroke-opacity="0.75"/>
<polyline points="198.2,343.1 198.4,346.3 198.7,349.6 199,352.8 199.3,356.1 199.6,359.4 199.9,362.6 200.2,365.9 200.4,369.1" fill="none" stroke="#fff" stroke-width="0.29" stroke-opacity="0.75"/>
<polyline points="192.5,350.2 192.7,352.2 192.9,354.1 193.1,356 193.4,357.9 193.6,359.8 193.8,361.7 194,363.7 194.2,365.6" fill="none" stroke="#fff" stroke-width="0.52" stroke-opacity="0.75"/>
<polyline points="201,354 201.3,358.4 201.7,362.7 202,367 202.3,371.3 202.6,375.6 202.8,379.9 202.9,384.3 203,388.6" fill="none" stroke="#fff" stroke-width="0.35" stroke-opacity="0.75"/>
<polyline points="188.9,326.7 189.2,331.7 189.5,336.6 190,341.6 190.5,346.6 191,351.5 191.6,356.5 192.2,361.5 192.7,366.4" fill="none" stroke="#fff" stroke-width="0.34" stroke-opacity="0.75"/>
<polyline points="191.3,337.9 191.7,341.8 192,345.7 192.4,349.6 192.9,353.5 193.3,357.4 193.7,361.3 194.1,365.1 194.5,369" fill="none" stroke="#fff" stroke-width="0.46" stroke-opacity="0.75"/>
<polyline points="201.8,325.4 201.9,329.7 202.1,333.9 202.3,338.2 202.5,342.4 202.8,346.7 203.1,350.9 203.5,355.2 203.8,359.4" fill="none" stroke="#fff" stroke-width="0.51" stroke-opacity="0.75"/>
<polyline points="191.2,333.1 191.4,335.9 191.6,338.7 191.9,341.5 192.2,344.3 192.4,347.1 192.7,349.9 193,352.7 193.3,355.5" fill="none" stroke="#fff" stroke-width="0.44" stroke-opacity="0.75"/>
<polyline points="199.4,333.9 199.7,338.1 200,342.3 200.3,346.5 200.6,350.7 201,355 201.3,359.2 201.7,363.4 202,367.6" fill="none" stroke="#fff" stroke-width="0.41" stroke-opacity="0.75"/>
<polyline points="201.4,330.1 201.6,333.4 201.7,336.7 201.9,340 202.1,343.3 202.4,346.6 202.6,349.9 202.9,353.2 203.1,356.5" fill="none" stroke="#fff" stroke-width="0.26" stroke-opacity="0.75"/>
<polyline points="213.4,340.4 213.4,342.3 213.5,344.2 213.6,346.2 213.7,348.1 213.7,350 213.8,351.9 213.9,353.8 214,355.8" fill="none" stroke="#fff" stroke-width="0.56" stroke-opacity="0.75"/>
<polyline points="208.6,341.4 208.8,345.5 209,349.6 209.2,353.7 209.5,357.8 209.7,361.9 209.9,366 210.1,370.1 210.3,374.2" fill="none" stroke="#fff" stroke-width="0.40" stroke-opacity="0.75"/>
<polyline points="204.3,353.2 204.5,356.3 204.7,359.4 204.9,362.4 205.2,365.5 205.4,368.6 205.5,371.7 205.7,374.8 205.8,377.8" fill="none" stroke="#fff" stroke-width="0.42" stroke-opacity="0.75"/>
<polyline points="194.2,328.2 194.4,331 194.5,333.8 194.7,336.6 194.9,339.4 195.1,342.2 195.4,345 195.6,347.8 195.9,350.6" fill="none" stroke="#fff" stroke-width="0.55" stroke-opacity="0.75"/>
<polyline points="344.3,350.6 345.1,354.6 345.8,358.7 346.6,362.7 347.3,366.8 348,370.8 348.6,374.8 349,378.9 349.4,382.9" fill="none" stroke="#fff" stroke-width="0.27" stroke-opacity="0.75"/>
<polyline points="298,348.6 298.7,353.3 299.3,358.1 299.9,362.8 300.5,367.5 301,372.2 301.4,377 301.7,381.7 301.9,386.4" fill="none" stroke="#fff" stroke-width="0.35" stroke-opacity="0.75"/>
<polyline points="263.9,340.5 264.2,343.9 264.4,347.4 264.7,350.8 265,354.2 265.3,357.7 265.6,361.1 265.9,364.5 266.2,368" fill="none" stroke="#fff" stroke-width="0.42" stroke-opacity="0.75"/>
<polyline points="285.5,341.8 286,346.2 286.5,350.6 287,355 287.5,359.5 288,363.9 288.5,368.3 288.9,372.7 289.2,377.1" fill="none" stroke="#fff" stroke-width="0.30" stroke-opacity="0.75"/>
<polyline points="256.1,350 256.4,354.3 256.7,358.7 257.1,363 257.4,367.4 257.6,371.7 257.9,376.1 258,380.4 258.2,384.8" fill="none" stroke="#fff" stroke-width="0.33" stroke-opacity="0.75"/>
<polyline points="324.4,346.6 325.2,351.5 326,356.5 326.8,361.4 327.6,366.3 328.3,371.3 328.9,376.2 329.3,381.1 329.6,386.1" fill="none" stroke="#fff" stroke-width="0.26" stroke-opacity="0.75"/>
<polyline points="359.8,323 360,327.5 360.5,332 361.1,336.5 361.8,341 362.7,345.5 363.7,350 364.6,354.6 365.6,359.1" fill="none" stroke="#fff" stroke-width="0.50" stroke-opacity="0.75"/>
<polyline points="274,354.6 274.4,358.7 274.8,362.8 275.2,366.9 275.5,371 275.8,375.1 276,379.2 276.2,383.3 276.3,387.4" fill="none" stroke="#fff" stroke-width="0.48" stroke-opacity="0.75"/>
<polyline points="264,353.4 264.2,355.8 264.4,358.1 264.6,360.5 264.8,362.8 265,365.1 265.2,367.5 265.4,369.8 265.5,372.2" fill="none" stroke="#fff" stroke-width="0.35" stroke-opacity="0.75"/>
<polyline points="316.1,326.9 316.4,330.8 316.7,334.6 317.1,338.4 317.6,342.2 318.2,346 318.8,349.9 319.4,353.7 320,357.5" fill="none" stroke="#fff" stroke-width="0.39" stroke-opacity="0.75"/>
<polyline points="252.3,334.6 252.4,336.7 252.5,338.8 252.6,340.9 252.7,343 252.9,345.1 253,347.2 253.1,349.3 253.3,351.4" fill="none" stroke="#fff" stroke-width="0.29" stroke-opacity="0.75"/>
<polyline points="254.6,347.3 255,351.9 255.3,356.5 255.6,361.1 256,365.8 256.3,370.4 256.5,375 256.7,379.6 256.9,384.2" fill="none" stroke="#fff" stroke-width="0.45" stroke-opacity="0.75"/>
<polyline points="262.5,332.3 262.7,336.1 262.9,339.8 263.2,343.6 263.5,347.3 263.8,351.1 264.1,354.8 264.4,358.6 264.8,362.3" fill="none" stroke="#fff" stroke-width="0.40" stroke-opacity="0.75"/>
<polyline points="302.9,334.4 303.1,336.4 303.3,338.5 303.6,340.5 303.8,342.6 304.1,344.6 304.3,346.7 304.6,348.7 304.9,350.8" fill="none" stroke="#fff" stroke-width="0.58" stroke-opacity="0.75"/>
<polyline points="327.8,343.4 328.3,346.9 328.9,350.3 329.5,353.8 330.1,357.2 330.7,360.7 331.2,364.1 331.8,367.6 332.3,371" fill="none" stroke="#fff" stroke-width="0.30" stroke-opacity="0.75"/>
<polyline points="352.1,343 352.6,345.7 353.2,348.4 353.7,351.1 354.3,353.8 354.8,356.5 355.4,359.2 355.9,361.9 356.4,364.6" fill="none" stroke="#fff" stroke-width="0.44" stroke-opacity="0.75"/>
<polyline points="311.6,347.6 312.1,351.1 312.7,354.6 313.2,358 313.7,361.5 314.2,365 314.7,368.5 315.1,372 315.5,375.5" fill="none" stroke="#fff" stroke-width="0.34" stroke-opacity="0.75"/>
<polyline points="262.5,334.3 262.7,338.5 263,342.6 263.4,346.8 263.7,351 264.1,355.2 264.4,359.4 264.8,363.5 265.1,367.7" fill="none" stroke="#fff" stroke-width="0.33" stroke-opacity="0.75"/>
<polyline points="268.4,344.2 268.6,346.4 268.8,348.5 269,350.6 269.2,352.8 269.4,354.9 269.6,357.1 269.8,359.2 270,361.4" fill="none" stroke="#fff" stroke-width="0.50" stroke-opacity="0.75"/>
<polyline points="322.6,325.7 322.8,329.4 323.1,333.1 323.5,336.9 324,340.6 324.5,344.3 325.1,348.1 325.7,351.8 326.4,355.5" fill="none" stroke="#fff" stroke-width="0.28" stroke-opacity="0.75"/>
<polyline points="274.7,338.1 274.9,341 275.2,343.9 275.4,346.8 275.7,349.7 276,352.5 276.3,355.4 276.6,358.3 276.9,361.2" fill="none" stroke="#fff" stroke-width="0.56" stroke-opacity="0.75"/>
<polyline points="339.7,346.7 340.1,348.7 340.4,350.8 340.8,352.8 341.2,354.8 341.6,356.9 342,358.9 342.4,361 342.7,363" fill="none" stroke="#fff" stroke-width="0.26" stroke-opacity="0.75"/>
<polyline points="265.2,345.1 265.4,347.7 265.6,350.3 265.9,352.9 266.1,355.4 266.3,358 266.5,360.6 266.8,363.1 267,365.7" fill="none" stroke="#fff" stroke-width="0.58" stroke-opacity="0.75"/>
<polyline points="261.2,344.6 261.5,349 261.9,353.5 262.2,357.9 262.6,362.3 263,366.8 263.3,371.2 263.5,375.7 263.7,380.1" fill="none" stroke="#fff" stroke-width="0.59" stroke-opacity="0.75"/>
<polyline points="263.1,333.7 263.3,336.3 263.5,338.9 263.6,341.5 263.8,344.1 264,346.7 264.3,349.4 264.5,352 264.7,354.6" fill="none" stroke="#fff" stroke-width="0.47" stroke-opacity="0.75"/>
<polyline points="285.1,333.5 285.3,336.6 285.6,339.7 285.9,342.7 286.2,345.8 286.6,348.9 286.9,352 287.3,355.1 287.7,358.1" fill="none" stroke="#fff" stroke-width="0.46" stroke-opacity="0.75"/>
<polyline points="263.4,344 263.8,348.4 264.2,352.8 264.6,357.1 264.9,361.5 265.3,365.9 265.6,370.3 265.9,374.7 266.1,379.1" fill="none" stroke="#fff" stroke-width="0.54" stroke-opacity="0.75"/>
<polyline points="297,339.4 297.4,343.1 297.9,346.9 298.4,350.6 298.9,354.3 299.4,358 299.8,361.8 300.3,365.5 300.7,369.2" fill="none" stroke="#fff" stroke-width="0.55" stroke-opacity="0.75"/>
<polyline points="312.5,335.1 312.8,337.3 313,339.5 313.3,341.7 313.6,343.9 313.9,346 314.2,348.2 314.5,350.4 314.9,352.6" fill="none" stroke="#fff" stroke-width="0.51" stroke-opacity="0.75"/>
<polyline points="250.8,322.7 250.8,327.3 251,332 251.2,336.6 251.4,341.3 251.7,346 252,350.6 252.4,355.3 252.7,359.9" fill="none" stroke="#fff" stroke-width="0.32" stroke-opacity="0.75"/>
<polyline points="301.4,321.3 301.4,324.7 301.5,328 301.7,331.3 302,334.7 302.3,338 302.7,341.4 303.1,344.7 303.5,348.1" fill="none" stroke="#fff" stroke-width="0.52" stroke-opacity="0.75"/>
<polyline points="348.7,336.3 349.2,339.6 349.8,343 350.4,346.3 351,349.6 351.7,353 352.4,356.3 353,359.6 353.7,362.9" fill="none" stroke="#fff" stroke-width="0.47" stroke-opacity="0.75"/>
<polyline points="258.3,326.9 258.4,329.9 258.6,333 258.7,336 258.9,339 259.1,342.1 259.3,345.1 259.5,348.2 259.8,351.2" fill="none" stroke="#fff" stroke-width="0.30" stroke-opacity="0.75"/>
<polyline points="290.7,326.6 290.8,329.3 291,332 291.2,334.6 291.4,337.3 291.6,340 291.9,342.6 292.2,345.3 292.5,348" fill="none" stroke="#fff" stroke-width="0.56" stroke-opacity="0.75"/>
<path d="M375,321.3 C392,334 414,350 432,355.8 C414,361 392,372 373,389.3 L509.5,389.3 C491,372 470,362 451.5,356.3 C470,350 496,334 515.5,321.3 Z" fill="#c9b066" stroke="none" stroke-width="0" />
<path d="M375,321.3 C375,349.9 509.5,360.7 509.5,389.3 L506.5,389.3 C506.5,360.7 378,349.9 378,321.3 Z" fill="#c9b066"/>
<path d="M378.2,321.3 C378.2,349.9 506.4,360.7 506.4,389.3 L503.6,389.3 C503.6,360.7 381,349.9 381,321.3 Z" fill="#c9b066"/>
<path d="M381.4,321.3 C381.4,349.9 503.3,360.7 503.3,389.3 L500.3,389.3 C500.3,360.7 384.4,349.9 384.4,321.3 Z" fill="#c9b066"/>
<path d="M384.6,321.3 C384.6,349.9 500.2,360.7 500.2,389.3 L497.3,389.3 C497.3,360.7 387.5,349.9 387.5,321.3 Z" fill="#c9b066"/>
<path d="M387.8,321.3 C387.8,349.9 497.1,360.7 497.1,389.3 L493.8,389.3 C493.8,360.7 391,349.9 391,321.3 Z" fill="#c9b066"/>
<path d="M391,321.3 C391,349.9 494,360.7 494,389.3 L491.4,389.3 C491.4,360.7 393.6,349.9 393.6,321.3 Z" fill="#c9b066"/>
<path d="M394.2,321.3 C394.2,349.9 490.9,360.7 490.9,389.3 L487,389.3 C487,360.7 398.1,349.9 398.1,321.3 Z" fill="#c9b066"/>
<path d="M397.4,321.3 C397.4,349.9 487.8,360.7 487.8,389.3 L484.7,389.3 C484.7,360.7 400.5,349.9 400.5,321.3 Z" fill="#c9b066"/>
<path d="M400.6,321.3 C400.6,349.9 484.7,360.7 484.7,389.3 L480.8,389.3 C480.8,360.7 404.5,349.9 404.5,321.3 Z" fill="#c9b066"/>
<path d="M403.8,321.3 C403.8,349.9 481.6,360.7 481.6,389.3 L478,389.3 C478,360.7 407.3,349.9 407.3,321.3 Z" fill="#c9b066"/>
<path d="M407,321.3 C407,349.9 478.5,360.7 478.5,389.3 L474.9,389.3 C474.9,360.7 410.5,349.9 410.5,321.3 Z" fill="#c9b066"/>
<path d="M410.2,321.3 C410.2,349.9 475.3,360.7 475.3,389.3 L472.1,389.3 C472.1,360.7 413.4,349.9 413.4,321.3 Z" fill="#c9b066"/>
<path d="M413.4,321.3 C413.4,349.9 472.2,360.7 472.2,389.3 L468.3,389.3 C468.3,360.7 417.3,349.9 417.3,321.3 Z" fill="#c9b066"/>
<path d="M416.6,321.3 C416.6,349.9 469.1,360.7 469.1,389.3 L466.4,389.3 C466.4,360.7 419.3,349.9 419.3,321.3 Z" fill="#c9b066"/>
<path d="M419.8,321.3 C419.8,349.9 466,360.7 466,389.3 L462.5,389.3 C462.5,360.7 423.3,349.9 423.3,321.3 Z" fill="#c9b066"/>
<path d="M423,321.3 C423,349.9 462.9,360.7 462.9,389.3 L460,389.3 C460,360.7 425.9,349.9 425.9,321.3 Z" fill="#c9b066"/>
<path d="M426.2,321.3 C426.2,349.9 459.8,360.7 459.8,389.3 L456.3,389.3 C456.3,360.7 429.7,349.9 429.7,321.3 Z" fill="#c9b066"/>
<path d="M429.4,321.3 C429.4,349.9 456.7,360.7 456.7,389.3 L453.1,389.3 C453.1,360.7 433,349.9 433,321.3 Z" fill="#c9b066"/>
<path d="M432.6,321.3 C432.6,349.9 453.6,360.7 453.6,389.3 L450.8,389.3 C450.8,360.7 435.3,349.9 435.3,321.3 Z" fill="#c9b066"/>
<path d="M435.8,321.3 C435.8,349.9 450.5,360.7 450.5,389.3 L447.7,389.3 C447.7,360.7 438.6,349.9 438.6,321.3 Z" fill="#c9b066"/>
<path d="M439,321.3 C439,349.9 447.4,360.7 447.4,389.3 L444.8,389.3 C444.8,360.7 441.5,349.9 441.5,321.3 Z" fill="#c9b066"/>
<path d="M442.2,321.3 C442.2,349.9 444.3,360.7 444.3,389.3 L441.4,389.3 C441.4,360.7 445,349.9 445,321.3 Z" fill="#c9b066"/>
<path d="M445.3,321.3 C445.3,349.9 441.2,360.7 441.2,389.3 L438.5,389.3 C438.5,360.7 448,349.9 448,321.3 Z" fill="#c9b066"/>
<path d="M448.5,321.3 C448.5,349.9 438.1,360.7 438.1,389.3 L435,389.3 C435,360.7 451.7,349.9 451.7,321.3 Z" fill="#c9b066"/>
<path d="M451.7,321.3 C451.7,349.9 435,360.7 435,389.3 L431,389.3 C431,360.7 455.7,349.9 455.7,321.3 Z" fill="#c9b066"/>
<path d="M454.9,321.3 C454.9,349.9 431.9,360.7 431.9,389.3 L428.8,389.3 C428.8,360.7 458,349.9 458,321.3 Z" fill="#c9b066"/>
<path d="M458.1,321.3 C458.1,349.9 428.8,360.7 428.8,389.3 L425.8,389.3 C425.8,360.7 461.1,349.9 461.1,321.3 Z" fill="#c9b066"/>
<path d="M461.3,321.3 C461.3,349.9 425.7,360.7 425.7,389.3 L422.4,389.3 C422.4,360.7 464.6,349.9 464.6,321.3 Z" fill="#c9b066"/>
<path d="M464.5,321.3 C464.5,349.9 422.6,360.7 422.6,389.3 L419.6,389.3 C419.6,360.7 467.5,349.9 467.5,321.3 Z" fill="#c9b066"/>
<path d="M467.7,321.3 C467.7,349.9 419.5,360.7 419.5,389.3 L415.9,389.3 C415.9,360.7 471.3,349.9 471.3,321.3 Z" fill="#c9b066"/>
<path d="M470.9,321.3 C470.9,349.9 416.4,360.7 416.4,389.3 L412.8,389.3 C412.8,360.7 474.5,349.9 474.5,321.3 Z" fill="#c9b066"/>
<path d="M474.1,321.3 C474.1,349.9 413.3,360.7 413.3,389.3 L410.5,389.3 C410.5,360.7 476.9,349.9 476.9,321.3 Z" fill="#c9b066"/>
<path d="M477.3,321.3 C477.3,349.9 410.2,360.7 410.2,389.3 L407.3,389.3 C407.3,360.7 480.2,349.9 480.2,321.3 Z" fill="#c9b066"/>
<path d="M480.5,321.3 C480.5,349.9 407,360.7 407,389.3 L403.5,389.3 C403.5,360.7 484,349.9 484,321.3 Z" fill="#c9b066"/>
<path d="M483.7,321.3 C483.7,349.9 403.9,360.7 403.9,389.3 L400,389.3 C400,360.7 487.6,349.9 487.6,321.3 Z" fill="#c9b066"/>
<path d="M486.9,321.3 C486.9,349.9 400.8,360.7 400.8,389.3 L397.4,389.3 C397.4,360.7 490.4,349.9 490.4,321.3 Z" fill="#c9b066"/>
<path d="M490.1,321.3 C490.1,349.9 397.7,360.7 397.7,389.3 L394.6,389.3 C394.6,360.7 493.3,349.9 493.3,321.3 Z" fill="#c9b066"/>
<path d="M493.3,321.3 C493.3,349.9 394.6,360.7 394.6,389.3 L390.7,389.3 C390.7,360.7 497.3,349.9 497.3,321.3 Z" fill="#c9b066"/>
<path d="M496.5,321.3 C496.5,349.9 391.5,360.7 391.5,389.3 L389,389.3 C389,360.7 499.1,349.9 499.1,321.3 Z" fill="#c9b066"/>
<path d="M499.7,321.3 C499.7,349.9 388.4,360.7 388.4,389.3 L385.8,389.3 C385.8,360.7 502.4,349.9 502.4,321.3 Z" fill="#c9b066"/>
<path d="M502.9,321.3 C502.9,349.9 385.3,360.7 385.3,389.3 L381.6,389.3 C381.6,360.7 506.6,349.9 506.6,321.3 Z" fill="#c9b066"/>
<path d="M506.1,321.3 C506.1,349.9 382.2,360.7 382.2,389.3 L379.1,389.3 C379.1,360.7 509.2,349.9 509.2,321.3 Z" fill="#c9b066"/>
<path d="M509.3,321.3 C509.3,349.9 379.1,360.7 379.1,389.3 L376.5,389.3 C376.5,360.7 511.9,349.9 511.9,321.3 Z" fill="#c9b066"/>
<path d="M512.5,321.3 C512.5,349.9 376,360.7 376,389.3 L372.7,389.3 C372.7,360.7 515.8,349.9 515.8,321.3 Z" fill="#c9b066"/>
<polyline points="390.5,321.3 390.5,322.5 390.7,323.6 391,324.8 391.4,326 392,327.1 392.6,328.3 393.5,329.5 394.4,330.7" fill="none" stroke="#fff" stroke-width="0.93" stroke-opacity="0.85"/>
<polyline points="504,321.3 504,322.4 503.8,323.6 503.4,324.7 503,325.8 502.4,326.9 501.7,328.1 500.8,329.2 499.8,330.3" fill="none" stroke="#fff" stroke-width="0.51" stroke-opacity="0.85"/>
<polyline points="431.4,321.3 431.4,322.4 431.5,323.6 431.5,324.7 431.6,325.9 431.7,327 431.9,328.2 432,329.3 432.2,330.4" fill="none" stroke="#fff" stroke-width="0.52" stroke-opacity="0.85"/>
<polyline points="419.1,321.3 419.1,322.4 419.2,323.5 419.3,324.7 419.5,325.8 419.7,326.9 420,328 420.3,329.2 420.7,330.3" fill="none" stroke="#fff" stroke-width="0.37" stroke-opacity="0.85"/>
<polyline points="471.9,371.6 474.6,373.8 477,376.1 478.9,378.3 480.5,380.5 481.7,382.7 482.6,384.9 483.1,387.1 483.3,389.3" fill="none" stroke="#fff" stroke-width="0.61" stroke-opacity="0.85"/>
<polyline points="486.5,375.3 488.7,377.1 490.6,378.8 492.2,380.6 493.5,382.3 494.5,384.1 495.2,385.8 495.6,387.6 495.7,389.3" fill="none" stroke="#fff" stroke-width="0.42" stroke-opacity="0.85"/>
<polyline points="405.6,369.9 400.9,372.4 396.9,374.8 393.5,377.2 390.8,379.6 388.7,382 387.2,384.5 386.3,386.9 386,389.3" fill="none" stroke="#fff" stroke-width="0.91" stroke-opacity="0.85"/>
<polyline points="380.2,321.3 380.4,323.6 381.2,325.9 382.6,328.1 384.6,330.4 387.2,332.7 390.4,335 394.3,337.3 398.7,339.6" fill="none" stroke="#fff" stroke-width="0.67" stroke-opacity="0.85"/>
<polyline points="452.3,369.4 453.5,371.9 454.6,374.4 455.5,376.9 456.2,379.4 456.7,381.8 457.1,384.3 457.3,386.8 457.4,389.3" fill="none" stroke="#fff" stroke-width="0.82" stroke-opacity="0.85"/>
<polyline points="460.7,372.8 462.1,374.8 463.3,376.9 464.3,379 465.1,381 465.7,383.1 466.1,385.2 466.4,387.2 466.5,389.3" fill="none" stroke="#fff" stroke-width="0.89" stroke-opacity="0.85"/>
<polyline points="393.4,321.3 393.5,323 393.9,324.8 394.5,326.5 395.4,328.3 396.6,330 398.1,331.7 399.8,333.5 401.8,335.2" fill="none" stroke="#fff" stroke-width="0.41" stroke-opacity="0.85"/>
<polyline points="407,375.4 405.2,377.1 403.6,378.8 402.3,380.6 401.2,382.3 400.4,384.1 399.8,385.8 399.5,387.6 399.4,389.3" fill="none" stroke="#fff" stroke-width="0.43" stroke-opacity="0.85"/>
<polyline points="410.8,321.3 410.9,322.5 411,323.7 411.2,324.9 411.5,326.1 411.8,327.3 412.3,328.5 412.8,329.7 413.4,330.9" fill="none" stroke="#fff" stroke-width="0.63" stroke-opacity="0.85"/>
<polyline points="472.3,380.1 472.9,381.3 473.3,382.4 473.7,383.6 474.1,384.7 474.3,385.9 474.5,387 474.6,388.2 474.6,389.3" fill="none" stroke="#fff" stroke-width="0.81" stroke-opacity="0.85"/>
<polyline points="404.8,321.3 404.9,323 405.1,324.7 405.6,326.3 406.2,328 407.1,329.7 408.1,331.4 409.4,333.1 410.8,334.7" fill="none" stroke="#fff" stroke-width="0.59" stroke-opacity="0.85"/>
<polyline points="434.5,321.3 434.6,323 434.6,324.8 434.7,326.5 434.9,328.3 435.1,330 435.4,331.8 435.7,333.5 436,335.3" fill="none" stroke="#fff" stroke-width="0.84" stroke-opacity="0.85"/>
<polyline points="409.9,368.9 405,371.4 400.8,374 397.2,376.5 394.3,379.1 392.1,381.6 390.6,384.2 389.6,386.7 389.3,389.3" fill="none" stroke="#fff" stroke-width="0.84" stroke-opacity="0.85"/>
<polyline points="434.8,363.2 431.6,366.4 428.7,369.7 426.3,373 424.3,376.2 422.8,379.5 421.7,382.8 421.1,386 420.9,389.3" fill="none" stroke="#fff" stroke-width="0.82" stroke-opacity="0.85"/>
<polyline points="457.4,365.9 460.8,368.8 463.7,371.7 466.2,374.7 468.2,377.6 469.8,380.5 470.9,383.4 471.5,386.4 471.7,389.3" fill="none" stroke="#fff" stroke-width="0.60" stroke-opacity="0.85"/>
<polyline points="386.7,321.3 386.8,322.7 387.1,324.1 387.5,325.5 388.2,326.9 389,328.3 390.1,329.7 391.4,331.1 392.8,332.5" fill="none" stroke="#fff" stroke-width="0.52" stroke-opacity="0.85"/>
<polyline points="467.4,380.1 467.9,381.2 468.3,382.4 468.6,383.5 468.9,384.7 469.1,385.8 469.2,387 469.3,388.1 469.4,389.3" fill="none" stroke="#fff" stroke-width="0.85" stroke-opacity="0.85"/>
<polyline points="499,380.3 500,381.5 500.8,382.6 501.6,383.7 502.1,384.8 502.6,385.9 502.9,387.1 503.1,388.2 503.2,389.3" fill="none" stroke="#fff" stroke-width="0.43" stroke-opacity="0.85"/>
<polyline points="493.8,321.3 493.3,324.6 492,327.8 489.7,331.1 486.3,334.3 482,337.6 476.7,340.8 470.4,344.1 463.4,347.3" fill="none" stroke="#fff" stroke-width="0.75" stroke-opacity="0.85"/>
<polyline points="435.7,321.3 435.7,323.2 435.7,325 435.9,326.9 436,328.7 436.2,330.6 436.5,332.5 436.8,334.3 437.1,336.2" fill="none" stroke="#fff" stroke-width="0.56" stroke-opacity="0.85"/>
<polyline points="456.6,321.3 456.5,324.3 456.2,327.2 455.7,330.2 455,333.2 454.1,336.1 452.9,339.1 451.5,342 449.9,345" fill="none" stroke="#fff" stroke-width="0.82" stroke-opacity="0.85"/>
<polyline points="473.5,321.3 473.4,323.4 473.1,325.4 472.5,327.5 471.8,329.5 470.7,331.6 469.5,333.7 468,335.7 466.3,337.8" fill="none" stroke="#fff" stroke-width="0.96" stroke-opacity="0.85"/>
<polyline points="482.8,375.3 484.8,377 486.6,378.8 488,380.5 489.2,382.3 490.1,384 490.8,385.8 491.2,387.5 491.3,389.3" fill="none" stroke="#fff" stroke-width="0.94" stroke-opacity="0.85"/>
<polyline points="436.4,321.3 436.4,323.3 436.5,325.4 436.6,327.4 436.8,329.5 437,331.5 437.3,333.6 437.6,335.6 438,337.7" fill="none" stroke="#fff" stroke-width="0.85" stroke-opacity="0.85"/>
<polyline points="429.9,379.3 429.6,380.6 429.4,381.8 429.2,383.1 429,384.3 428.8,385.6 428.7,386.8 428.7,388.1 428.7,389.3" fill="none" stroke="#fff" stroke-width="0.88" stroke-opacity="0.85"/>
<polyline points="384.9,321.3 385.4,324.6 387,327.9 389.8,331.3 393.8,334.6 399,337.9 405.4,341.2 412.9,344.6 421.4,347.9" fill="none" stroke="#fff" stroke-width="0.37" stroke-opacity="0.85"/>
<polyline points="453.7,377.2 454.1,378.7 454.4,380.2 454.7,381.7 454.9,383.3 455.1,384.8 455.2,386.3 455.3,387.8 455.3,389.3" fill="none" stroke="#fff" stroke-width="0.53" stroke-opacity="0.85"/>
<polyline points="479.1,321.3 479,322.9 478.8,324.4 478.5,326 477.9,327.6 477.2,329.2 476.4,330.7 475.4,332.3 474.2,333.9" fill="none" stroke="#fff" stroke-width="0.58" stroke-opacity="0.85"/>
<polyline points="510.3,321.3 509.8,324.3 508.3,327.3 505.7,330.3 502,333.3 497.1,336.3 491.2,339.3 484.1,342.3 476.1,345.3" fill="none" stroke="#fff" stroke-width="0.90" stroke-opacity="0.85"/>
<polyline points="453.1,378.6 453.4,379.9 453.6,381.3 453.8,382.6 454,383.9 454.1,385.3 454.2,386.6 454.2,388 454.2,389.3" fill="none" stroke="#fff" stroke-width="0.89" stroke-opacity="0.85"/>
<polyline points="382.9,321.3 383,322.7 383.3,324.1 383.8,325.5 384.5,326.9 385.4,328.3 386.5,329.7 387.9,331.1 389.4,332.5" fill="none" stroke="#fff" stroke-width="0.41" stroke-opacity="0.85"/>
<polyline points="395.5,377.5 393.9,379 392.5,380.5 391.4,381.9 390.4,383.4 389.7,384.9 389.2,386.4 388.9,387.8 388.8,389.3" fill="none" stroke="#fff" stroke-width="0.87" stroke-opacity="0.85"/>
<polyline points="469.9,321.3 469.7,324.3 469.1,327.4 468,330.4 466.5,333.5 464.5,336.5 462,339.6 459.1,342.6 455.8,345.7" fill="none" stroke="#fff" stroke-width="0.76" stroke-opacity="0.85"/>
<polyline points="456.6,381.1 456.8,382.1 457,383.2 457.1,384.2 457.2,385.2 457.3,386.2 457.4,387.3 457.4,388.3 457.4,389.3" fill="none" stroke="#fff" stroke-width="0.68" stroke-opacity="0.85"/>
<polyline points="474.2,373.9 476.2,375.8 477.9,377.8 479.4,379.7 480.5,381.6 481.4,383.5 482.1,385.5 482.4,387.4 482.6,389.3" fill="none" stroke="#fff" stroke-width="0.56" stroke-opacity="0.85"/>
<polyline points="419.9,321.3 420,323.2 420.2,325.1 420.5,327 421.1,328.9 421.7,330.8 422.5,332.8 423.5,334.7 424.7,336.6" fill="none" stroke="#fff" stroke-width="0.66" stroke-opacity="0.85"/>
<polyline points="447.2,362.6 448.9,366 450.4,369.3 451.6,372.6 452.7,376 453.5,379.3 454,382.6 454.4,386 454.5,389.3" fill="none" stroke="#fff" stroke-width="0.88" stroke-opacity="0.85"/>
<polyline points="426.7,368.6 424.1,371.2 421.9,373.7 420.1,376.3 418.6,378.9 417.4,381.5 416.6,384.1 416.1,386.7 416,389.3" fill="none" stroke="#fff" stroke-width="0.70" stroke-opacity="0.85"/>
<polyline points="453.8,370 455.1,372.4 456.2,374.8 457.2,377.3 457.9,379.7 458.5,382.1 458.9,384.5 459.2,386.9 459.2,389.3" fill="none" stroke="#fff" stroke-width="0.79" stroke-opacity="0.85"/>
<polyline points="467.5,379.8 468,381 468.4,382.2 468.7,383.4 469,384.6 469.3,385.7 469.4,386.9 469.5,388.1 469.5,389.3" fill="none" stroke="#fff" stroke-width="0.41" stroke-opacity="0.85"/>
<polyline points="456.1,321.3 456,324.1 455.8,326.9 455.3,329.7 454.7,332.5 453.9,335.3 452.9,338.1 451.7,340.9 450.3,343.7" fill="none" stroke="#fff" stroke-width="0.81" stroke-opacity="0.85"/>
<polyline points="503.1,321.3 503,323 502.6,324.6 501.9,326.3 500.9,327.9 499.7,329.6 498.1,331.2 496.2,332.9 494,334.5" fill="none" stroke="#fff" stroke-width="0.82" stroke-opacity="0.85"/>
<polyline points="479.4,321.3 479.2,323.9 478.6,326.5 477.6,329.1 476.1,331.7 474.2,334.3 471.8,336.8 468.9,339.4 465.6,342" fill="none" stroke="#fff" stroke-width="0.97" stroke-opacity="0.85"/>
<polyline points="430.6,365.4 427.3,368.4 424.4,371.4 422,374.3 420,377.3 418.5,380.3 417.5,383.3 416.9,386.3 416.7,389.3" fill="none" stroke="#fff" stroke-width="0.83" stroke-opacity="0.85"/>
<polyline points="469,371.5 471.5,373.7 473.6,375.9 475.4,378.2 476.9,380.4 478,382.6 478.8,384.8 479.3,387.1 479.4,389.3" fill="none" stroke="#fff" stroke-width="0.93" stroke-opacity="0.85"/>
<polyline points="509.3,321.3 509,323.6 508.1,325.9 506.6,328.2 504.5,330.5 501.8,332.8 498.4,335.1 494.3,337.3 489.6,339.6" fill="none" stroke="#fff" stroke-width="0.61" stroke-opacity="0.85"/>
<polyline points="430.4,321.3 430.5,322.7 430.5,324.1 430.6,325.6 430.8,327 431,328.4 431.2,329.8 431.5,331.3 431.9,332.7" fill="none" stroke="#fff" stroke-width="0.77" stroke-opacity="0.85"/>
<polyline points="407.2,369.6 402.5,372.1 398.4,374.6 395,377 392.2,379.5 390.1,381.9 388.7,384.4 387.8,386.8 387.5,389.3" fill="none" stroke="#fff" stroke-width="0.60" stroke-opacity="0.85"/>
<polyline points="470.7,321.3 470.6,323.6 470.2,325.9 469.6,328.2 468.7,330.6 467.5,332.9 466.1,335.2 464.4,337.5 462.4,339.8" fill="none" stroke="#fff" stroke-width="0.81" stroke-opacity="0.85"/>
<polyline points="497.4,321.3 497.3,322.8 497,324.3 496.5,325.8 495.8,327.3 494.8,328.8 493.7,330.3 492.3,331.8 490.6,333.3" fill="none" stroke="#fff" stroke-width="0.55" stroke-opacity="0.85"/>
<polyline points="461.7,321.3 461.6,324.4 461.1,327.6 460.3,330.7 459.2,333.8 457.7,337 455.9,340.1 453.8,343.2 451.4,346.3" fill="none" stroke="#fff" stroke-width="0.46" stroke-opacity="0.85"/>
<polyline points="411.3,377 410.1,378.6 409.1,380.1 408.2,381.6 407.5,383.2 407,384.7 406.6,386.2 406.4,387.8 406.3,389.3" fill="none" stroke="#fff" stroke-width="0.39" stroke-opacity="0.85"/>
<polyline points="423.2,364.6 417.3,367.7 412.1,370.8 407.7,373.9 404.1,377 401.4,380 399.5,383.1 398.3,386.2 398,389.3" fill="none" stroke="#fff" stroke-width="0.82" stroke-opacity="0.85"/>
<polyline points="435.2,321.3 435.2,323.6 435.3,325.8 435.5,328.1 435.7,330.3 436.1,332.6 436.5,334.8 436.9,337.1 437.5,339.3" fill="none" stroke="#fff" stroke-width="0.94" stroke-opacity="0.85"/>
<polyline points="415.7,321.3 415.8,323.7 416.2,326.2 416.9,328.6 417.9,331.1 419.2,333.5 420.8,335.9 422.7,338.4 425,340.8" fill="none" stroke="#fff" stroke-width="0.98" stroke-opacity="0.85"/>
<polyline points="381.9,321.3 382,322.6 382.2,323.8 382.7,325.1 383.2,326.4 384,327.7 385,328.9 386.1,330.2 387.4,331.5" fill="none" stroke="#fff" stroke-width="0.72" stroke-opacity="0.85"/>
<polyline points="477.9,377.7 479.1,379.1 480.1,380.6 480.9,382 481.5,383.5 482,384.9 482.4,386.4 482.6,387.8 482.7,389.3" fill="none" stroke="#fff" stroke-width="0.74" stroke-opacity="0.85"/>
<polyline points="428.1,367.5 425.3,370.2 422.9,372.9 420.8,375.6 419.2,378.4 417.9,381.1 417,383.8 416.5,386.6 416.3,389.3" fill="none" stroke="#fff" stroke-width="0.39" stroke-opacity="0.85"/>
<polyline points="490.4,321.3 490,324.6 488.7,327.8 486.5,331.1 483.4,334.4 479.3,337.7 474.3,340.9 468.4,344.2 461.7,347.5" fill="none" stroke="#fff" stroke-width="0.56" stroke-opacity="0.85"/>
<polyline points="434.8,363.7 431.9,366.9 429.3,370.1 427.1,373.3 425.3,376.5 423.9,379.7 423,382.9 422.4,386.1 422.2,389.3" fill="none" stroke="#fff" stroke-width="0.50" stroke-opacity="0.85"/>
<polyline points="408.9,372.2 406,374.4 403.4,376.5 401.3,378.6 399.6,380.8 398.2,382.9 397.3,385 396.8,387.2 396.6,389.3" fill="none" stroke="#fff" stroke-width="0.42" stroke-opacity="0.85"/>
<polyline points="398.9,321.3 399,322.5 399.2,323.7 399.4,325 399.8,326.2 400.3,327.4 400.9,328.6 401.7,329.8 402.5,331.1" fill="none" stroke="#fff" stroke-width="0.45" stroke-opacity="0.85"/>
<polyline points="470.1,366.9 475.6,369.7 480.3,372.5 484.3,375.3 487.5,378.1 490,380.9 491.7,383.7 492.7,386.5 493,389.3" fill="none" stroke="#fff" stroke-width="0.83" stroke-opacity="0.85"/>
<polyline points="419.2,367.8 415,370.4 411.3,373.1 408.2,375.8 405.7,378.5 403.8,381.2 402.5,383.9 401.7,386.6 401.5,389.3" fill="none" stroke="#fff" stroke-width="0.95" stroke-opacity="0.85"/>
<polyline points="436.5,363 433.8,366.3 431.4,369.5 429.4,372.8 427.7,376.1 426.4,379.4 425.5,382.7 425,386 424.9,389.3" fill="none" stroke="#fff" stroke-width="0.42" stroke-opacity="0.85"/>
<polyline points="386.5,321.3 386.6,322.8 386.9,324.3 387.4,325.8 388.2,327.3 389.2,328.8 390.4,330.2 391.8,331.7 393.5,333.2" fill="none" stroke="#fff" stroke-width="0.59" stroke-opacity="0.85"/>
<polyline points="469.6,321.3 469.4,324.1 468.9,326.8 468.1,329.6 466.8,332.4 465.2,335.1 463.2,337.9 460.8,340.7 458.1,343.4" fill="none" stroke="#fff" stroke-width="0.40" stroke-opacity="0.85"/>
<polyline points="393.7,321.3 393.9,323.7 394.6,326.1 395.9,328.6 397.6,331 399.9,333.4 402.8,335.8 406.2,338.2 410.1,340.6" fill="none" stroke="#fff" stroke-width="0.59" stroke-opacity="0.85"/>
<polyline points="387.6,379.9 386.5,381.1 385.5,382.3 384.7,383.4 384.1,384.6 383.6,385.8 383.2,387 383,388.1 382.9,389.3" fill="none" stroke="#fff" stroke-width="0.84" stroke-opacity="0.85"/>
<polyline points="465.7,379.1 466.3,380.4 466.7,381.6 467.1,382.9 467.4,384.2 467.7,385.5 467.9,386.7 468,388 468,389.3" fill="none" stroke="#fff" stroke-width="0.66" stroke-opacity="0.85"/>
<polyline points="477.3,321.3 477,324.5 476.1,327.7 474.6,330.8 472.5,334 469.7,337.2 466.3,340.4 462.2,343.6 457.7,346.7" fill="none" stroke="#fff" stroke-width="0.60" stroke-opacity="0.85"/>
<polyline points="416.4,370.4 413.3,372.7 410.6,375.1 408.3,377.5 406.5,379.8 405.1,382.2 404.1,384.6 403.6,386.9 403.4,389.3" fill="none" stroke="#fff" stroke-width="0.54" stroke-opacity="0.85"/>
<polyline points="492.2,321.3 492,323.5 491.4,325.8 490.3,328 488.9,330.2 486.9,332.5 484.5,334.7 481.7,336.9 478.4,339.2" fill="none" stroke="#fff" stroke-width="0.38" stroke-opacity="0.85"/>
<polyline points="409.9,321.3 410.1,323.9 410.6,326.5 411.6,329 412.9,331.6 414.7,334.2 416.9,336.8 419.5,339.4 422.5,342" fill="none" stroke="#fff" stroke-width="0.40" stroke-opacity="0.85"/>
<polyline points="390.8,321.3 391,323.4 391.6,325.6 392.6,327.7 394,329.8 395.9,332 398.2,334.1 401,336.2 404.2,338.4" fill="none" stroke="#fff" stroke-width="0.99" stroke-opacity="0.85"/>
<polyline points="448.3,363.6 450.1,366.8 451.8,370 453.1,373.2 454.2,376.4 455.1,379.6 455.7,382.9 456,386.1 456.2,389.3" fill="none" stroke="#fff" stroke-width="0.41" stroke-opacity="0.85"/>
<polyline points="487.2,321.3 487.1,322.3 487,323.3 486.8,324.3 486.6,325.3 486.2,326.4 485.8,327.4 485.3,328.4 484.7,329.4" fill="none" stroke="#fff" stroke-width="0.85" stroke-opacity="0.85"/>
<path d="M516,321.3 C517,346.3 509.5,364.3 510.5,389.3" fill="none" stroke="#d2d2d2" stroke-width="0.5" />
<path d="M517.1,321.3 C518.1,346.3 510.6,364.3 511.6,389.3" fill="none" stroke="#d2d2d2" stroke-width="0.5" />
<path d="M518.2,321.3 C519.2,346.3 511.7,364.3 512.7,389.3" fill="none" stroke="#d2d2d2" stroke-width="0.5" />
<path d="M519.3,321.3 C520.3,346.3 512.8,364.3 513.8,389.3" fill="none" stroke="#d2d2d2" stroke-width="0.5" />
<path d="M520.4,321.3 C521.4,346.3 513.9,364.3 514.9,389.3" fill="none" stroke="#d2d2d2" stroke-width="0.5" />
<path d="M521.5,321.3 C522.5,346.3 515,364.3 516,389.3" fill="none" stroke="#d2d2d2" stroke-width="0.5" />
<line x1="98" y1="319.4" x2="522.5" y2="319.4" stroke="#8a84a8" stroke-width="0.9" />
<rect x="99" y="317.4" width="1.3" height="3.9" fill="#3558b8"/>
<rect x="102.4" y="317.4" width="2.3" height="3.9" fill="#48a858"/>
<rect x="107.3" y="317.4" width="1.9" height="3.9" fill="#3558b8"/>
<rect x="110.1" y="317.4" width="2.9" height="3.9" fill="#3558b8"/>
<rect x="114.1" y="317.4" width="1.3" height="3.9" fill="#5878cc"/>
<rect x="117.9" y="317.4" width="3" height="3.9" fill="#48a858"/>
<rect x="122" y="317.4" width="3.1" height="3.9" fill="#5878cc"/>
<rect x="126" y="317.4" width="3.5" height="3.9" fill="#48a858"/>
<rect x="131.5" y="317.4" width="1.7" height="3.9" fill="#4cae5c"/>
<rect x="134.7" y="317.4" width="3.4" height="3.9" fill="#4cae5c"/>
<rect x="138.9" y="317.4" width="1.5" height="3.9" fill="#4cae5c"/>
<rect x="142.9" y="317.4" width="0.9" height="3.9" fill="#48a858"/>
<rect x="146.5" y="317.4" width="3.3" height="3.9" fill="#44a452"/>
<rect x="150.6" y="317.4" width="1.9" height="3.9" fill="#4468c8"/>
<rect x="153.7" y="317.4" width="2.7" height="3.9" fill="#44a452"/>
<rect x="157.1" y="317.4" width="1.5" height="3.9" fill="#48a858"/>
<rect x="159.8" y="317.4" width="1.9" height="3.9" fill="#3558b8"/>
<rect x="163.5" y="317.4" width="3.4" height="3.9" fill="#44a452"/>
<rect x="168.2" y="317.4" width="1.2" height="3.9" fill="#3558b8"/>
<rect x="171.6" y="317.4" width="2" height="3.9" fill="#4cae5c"/>
<rect x="176.1" y="317.4" width="2.5" height="3.9" fill="#48a858"/>
<rect x="181.1" y="317.4" width="1.7" height="3.9" fill="#5878cc"/>
<rect x="183.3" y="317.4" width="2.8" height="3.9" fill="#44a452"/>
<rect x="187.6" y="317.4" width="3" height="3.9" fill="#5878cc"/>
<rect x="192.8" y="317.4" width="1.8" height="3.9" fill="#3558b8"/>
<rect x="196.5" y="317.4" width="1.8" height="3.9" fill="#3558b8"/>
<rect x="200.9" y="317.4" width="1.9" height="3.9" fill="#4cae5c"/>
<rect x="204" y="317.4" width="2.9" height="3.9" fill="#4cae5c"/>
<rect x="208.3" y="317.4" width="1.7" height="3.9" fill="#5878cc"/>
<rect x="212.1" y="317.4" width="2.4" height="3.9" fill="#44a452"/>
<rect x="217.1" y="317.4" width="3.5" height="3.9" fill="#4468c8"/>
<rect x="221" y="317.4" width="1" height="3.9" fill="#3558b8"/>
<rect x="223.7" y="317.4" width="3.6" height="3.9" fill="#44a452"/>
<rect x="227.8" y="317.4" width="2.3" height="3.9" fill="#2f8a8a"/>
<rect x="231.9" y="317.4" width="2.3" height="3.9" fill="#4468c8"/>
<rect x="235.4" y="317.4" width="3.2" height="3.9" fill="#4468c8"/>
<rect x="240.8" y="317.4" width="0.9" height="3.9" fill="#44a452"/>
<rect x="242.7" y="317.4" width="0.9" height="3.9" fill="#3558b8"/>
<rect x="245.6" y="317.4" width="1.9" height="3.9" fill="#5878cc"/>
<rect x="248.4" y="317.4" width="3.4" height="3.9" fill="#44a452"/>
<rect x="252.4" y="317.4" width="2.9" height="3.9" fill="#2f8a8a"/>
<rect x="256.6" y="317.4" width="2.3" height="3.9" fill="#4cae5c"/>
<rect x="260.8" y="317.4" width="2" height="3.9" fill="#3558b8"/>
<rect x="264.8" y="317.4" width="2.7" height="3.9" fill="#4cae5c"/>
<rect x="270" y="317.4" width="1.4" height="3.9" fill="#48a858"/>
<rect x="273" y="317.4" width="1.4" height="3.9" fill="#3558b8"/>
<rect x="277" y="317.4" width="1.4" height="3.9" fill="#4468c8"/>
<rect x="279.7" y="317.4" width="1.7" height="3.9" fill="#2f8a8a"/>
<rect x="283" y="317.4" width="3.5" height="3.9" fill="#4cae5c"/>
<rect x="288.5" y="317.4" width="2.1" height="3.9" fill="#4cae5c"/>
<rect x="291.5" y="317.4" width="3.3" height="3.9" fill="#5878cc"/>
<rect x="297.3" y="317.4" width="3.5" height="3.9" fill="#44a452"/>
<rect x="301.4" y="317.4" width="1.4" height="3.9" fill="#4cae5c"/>
<rect x="303.2" y="317.4" width="2.9" height="3.9" fill="#48a858"/>
<rect x="306.7" y="317.4" width="2.9" height="3.9" fill="#48a858"/>
<rect x="310.6" y="317.4" width="3.5" height="3.9" fill="#48a858"/>
<rect x="315.7" y="317.4" width="1.7" height="3.9" fill="#4cae5c"/>
<rect x="318.3" y="317.4" width="3" height="3.9" fill="#3558b8"/>
<rect x="322.1" y="317.4" width="1.2" height="3.9" fill="#4cae5c"/>
<rect x="325.9" y="317.4" width="2.1" height="3.9" fill="#3558b8"/>
<rect x="329.3" y="317.4" width="2" height="3.9" fill="#4468c8"/>
<rect x="333.4" y="317.4" width="1" height="3.9" fill="#44a452"/>
<rect x="335" y="317.4" width="1.6" height="3.9" fill="#44a452"/>
<rect x="338.2" y="317.4" width="1.4" height="3.9" fill="#44a452"/>
<rect x="341.5" y="317.4" width="2.8" height="3.9" fill="#3558b8"/>
<rect x="345.8" y="317.4" width="2.6" height="3.9" fill="#3558b8"/>
<rect x="349.3" y="317.4" width="2.2" height="3.9" fill="#44a452"/>
<rect x="353.5" y="317.4" width="1.1" height="3.9" fill="#4468c8"/>
<rect x="355.7" y="317.4" width="2.4" height="3.9" fill="#44a452"/>
<rect x="359.2" y="317.4" width="3.3" height="3.9" fill="#2f8a8a"/>
<rect x="364.9" y="317.4" width="2.7" height="3.9" fill="#4468c8"/>
<rect x="369.1" y="317.4" width="1.4" height="3.9" fill="#5878cc"/>
<rect x="372.4" y="317.4" width="1.7" height="3.9" fill="#48a858"/>
<rect x="375.7" y="317.4" width="3.2" height="3.9" fill="#4468c8"/>
<rect x="380.2" y="317.4" width="2.1" height="3.9" fill="#48a858"/>
<rect x="383.2" y="317.4" width="0.9" height="3.9" fill="#44a452"/>
<rect x="384.9" y="317.4" width="1.7" height="3.9" fill="#3558b8"/>
<rect x="388.2" y="317.4" width="0.8" height="3.9" fill="#2f8a8a"/>
<rect x="390.7" y="317.4" width="1.5" height="3.9" fill="#3558b8"/>
<rect x="392.8" y="317.4" width="2.8" height="3.9" fill="#4cae5c"/>
<rect x="396.4" y="317.4" width="2.4" height="3.9" fill="#2f8a8a"/>
<rect x="399.4" y="317.4" width="1" height="3.9" fill="#5878cc"/>
<rect x="402" y="317.4" width="2.1" height="3.9" fill="#2f8a8a"/>
<rect x="404.7" y="317.4" width="2.7" height="3.9" fill="#4468c8"/>
<rect x="409.2" y="317.4" width="1.6" height="3.9" fill="#5878cc"/>
<rect x="413.1" y="317.4" width="1.9" height="3.9" fill="#5878cc"/>
<rect x="415.4" y="317.4" width="1.3" height="3.9" fill="#5878cc"/>
<rect x="417.3" y="317.4" width="1.3" height="3.9" fill="#4cae5c"/>
<rect x="419.7" y="317.4" width="2.9" height="3.9" fill="#4468c8"/>
<rect x="423.2" y="317.4" width="2.5" height="3.9" fill="#4468c8"/>
<rect x="426.3" y="317.4" width="3" height="3.9" fill="#5878cc"/>
<rect x="430.3" y="317.4" width="2.3" height="3.9" fill="#48a858"/>
<rect x="434.1" y="317.4" width="1.1" height="3.9" fill="#44a452"/>
<rect x="436.1" y="317.4" width="2.6" height="3.9" fill="#3558b8"/>
<rect x="441.2" y="317.4" width="2.9" height="3.9" fill="#4cae5c"/>
<rect x="444.7" y="317.4" width="3.4" height="3.9" fill="#5878cc"/>
<rect x="449.3" y="317.4" width="3.2" height="3.9" fill="#4cae5c"/>
<rect x="453.1" y="317.4" width="2.3" height="3.9" fill="#44a452"/>
<rect x="457.2" y="317.4" width="1.6" height="3.9" fill="#5878cc"/>
<rect x="459.4" y="317.4" width="1.1" height="3.9" fill="#44a452"/>
<rect x="462.5" y="317.4" width="2.7" height="3.9" fill="#2f8a8a"/>
<rect x="466.2" y="317.4" width="2.1" height="3.9" fill="#5878cc"/>
<rect x="470.5" y="317.4" width="2.7" height="3.9" fill="#4468c8"/>
<rect x="473.7" y="317.4" width="1.9" height="3.9" fill="#48a858"/>
<rect x="478" y="317.4" width="1.5" height="3.9" fill="#44a452"/>
<rect x="481.8" y="317.4" width="2.9" height="3.9" fill="#4cae5c"/>
<rect x="485.9" y="317.4" width="1.5" height="3.9" fill="#3558b8"/>
<rect x="489.9" y="317.4" width="2.5" height="3.9" fill="#3558b8"/>
<rect x="492.9" y="317.4" width="2" height="3.9" fill="#5878cc"/>
<rect x="495.5" y="317.4" width="0.9" height="3.9" fill="#2f8a8a"/>
<rect x="498.2" y="317.4" width="1.7" height="3.9" fill="#5878cc"/>
<rect x="501.1" y="317.4" width="1" height="3.9" fill="#2f8a8a"/>
<rect x="503.8" y="317.4" width="1.1" height="3.9" fill="#4cae5c"/>
<rect x="507.2" y="317.4" width="1.4" height="3.9" fill="#5878cc"/>
<rect x="510.4" y="317.4" width="3.3" height="3.9" fill="#4468c8"/>
<rect x="515.6" y="317.4" width="0.9" height="3.9" fill="#48a858"/>
<rect x="518.4" y="317.4" width="2.1" height="3.9" fill="#4468c8"/>
<polygon points="96.5,319.4 99,317.6 99,321.2" fill="#3f62c4"/>
<polygon points="524,319.4 521.5,317.6 521.5,321.2" fill="#3f62c4"/>
<line x1="104.5" y1="391.2" x2="517" y2="391.2" stroke="#8a84a8" stroke-width="0.9" />
<rect x="105.5" y="389.2" width="2.2" height="3.9" fill="#2f8a8a"/>
<rect x="109.5" y="389.2" width="2.7" height="3.9" fill="#4468c8"/>
<rect x="112.9" y="389.2" width="2.2" height="3.9" fill="#2f8a8a"/>
<rect x="116.5" y="389.2" width="3.2" height="3.9" fill="#2f8a8a"/>
<rect x="120.2" y="389.2" width="1.4" height="3.9" fill="#2f8a8a"/>
<rect x="122.9" y="389.2" width="1.4" height="3.9" fill="#3558b8"/>
<rect x="125.8" y="389.2" width="1.9" height="3.9" fill="#44a452"/>
<rect x="128.8" y="389.2" width="1.6" height="3.9" fill="#4468c8"/>
<rect x="132.7" y="389.2" width="2.2" height="3.9" fill="#48a858"/>
<rect x="135.4" y="389.2" width="1.8" height="3.9" fill="#48a858"/>
<rect x="139.7" y="389.2" width="2.4" height="3.9" fill="#5878cc"/>
<rect x="143.8" y="389.2" width="2.9" height="3.9" fill="#4cae5c"/>
<rect x="148.6" y="389.2" width="1.9" height="3.9" fill="#5878cc"/>
<rect x="151.4" y="389.2" width="2.6" height="3.9" fill="#4cae5c"/>
<rect x="155.7" y="389.2" width="1.4" height="3.9" fill="#48a858"/>
<rect x="159.5" y="389.2" width="3.3" height="3.9" fill="#4cae5c"/>
<rect x="164.4" y="389.2" width="2.4" height="3.9" fill="#4468c8"/>
<rect x="168.1" y="389.2" width="2.8" height="3.9" fill="#5878cc"/>
<rect x="171.9" y="389.2" width="1.4" height="3.9" fill="#2f8a8a"/>
<rect x="175.3" y="389.2" width="3.3" height="3.9" fill="#44a452"/>
<rect x="179.8" y="389.2" width="1.5" height="3.9" fill="#5878cc"/>
<rect x="183.2" y="389.2" width="1.5" height="3.9" fill="#48a858"/>
<rect x="185.5" y="389.2" width="3.6" height="3.9" fill="#48a858"/>
<rect x="190.6" y="389.2" width="0.8" height="3.9" fill="#48a858"/>
<rect x="192.5" y="389.2" width="2.5" height="3.9" fill="#48a858"/>
<rect x="197.3" y="389.2" width="2.3" height="3.9" fill="#4cae5c"/>
<rect x="201.6" y="389.2" width="2.5" height="3.9" fill="#3558b8"/>
<rect x="204.7" y="389.2" width="1.3" height="3.9" fill="#5878cc"/>
<rect x="207.2" y="389.2" width="3" height="3.9" fill="#4cae5c"/>
<rect x="210.6" y="389.2" width="3.6" height="3.9" fill="#4cae5c"/>
<rect x="215.2" y="389.2" width="3.1" height="3.9" fill="#2f8a8a"/>
<rect x="220.3" y="389.2" width="1.3" height="3.9" fill="#2f8a8a"/>
<rect x="222.4" y="389.2" width="1.5" height="3.9" fill="#3558b8"/>
<rect x="225.6" y="389.2" width="3.2" height="3.9" fill="#3558b8"/>
<rect x="230.2" y="389.2" width="1.8" height="3.9" fill="#5878cc"/>
<rect x="232.7" y="389.2" width="2.6" height="3.9" fill="#3558b8"/>
<rect x="236.9" y="389.2" width="3.1" height="3.9" fill="#48a858"/>
<rect x="240.6" y="389.2" width="3.1" height="3.9" fill="#3558b8"/>
<rect x="245.5" y="389.2" width="2.1" height="3.9" fill="#2f8a8a"/>
<rect x="248" y="389.2" width="3.4" height="3.9" fill="#44a452"/>
<rect x="253.4" y="389.2" width="2.5" height="3.9" fill="#2f8a8a"/>
<rect x="257.8" y="389.2" width="1.9" height="3.9" fill="#44a452"/>
<rect x="260.4" y="389.2" width="1.2" height="3.9" fill="#48a858"/>
<rect x="262.4" y="389.2" width="2" height="3.9" fill="#3558b8"/>
<rect x="264.8" y="389.2" width="2.2" height="3.9" fill="#5878cc"/>
<rect x="267.4" y="389.2" width="2.7" height="3.9" fill="#4cae5c"/>
<rect x="272.4" y="389.2" width="0.9" height="3.9" fill="#4468c8"/>
<rect x="273.7" y="389.2" width="3.5" height="3.9" fill="#5878cc"/>
<rect x="277.9" y="389.2" width="1" height="3.9" fill="#4cae5c"/>
<rect x="281" y="389.2" width="1.5" height="3.9" fill="#48a858"/>
<rect x="284.2" y="389.2" width="1.5" height="3.9" fill="#4cae5c"/>
<rect x="286.2" y="389.2" width="2.8" height="3.9" fill="#48a858"/>
<rect x="291.2" y="389.2" width="3.3" height="3.9" fill="#5878cc"/>
<rect x="296.3" y="389.2" width="2.5" height="3.9" fill="#4468c8"/>
<rect x="300.3" y="389.2" width="3.4" height="3.9" fill="#2f8a8a"/>
<rect x="305.8" y="389.2" width="3.3" height="3.9" fill="#4cae5c"/>
<rect x="309.7" y="389.2" width="3.4" height="3.9" fill="#5878cc"/>
<rect x="313.6" y="389.2" width="2.4" height="3.9" fill="#3558b8"/>
<rect x="317.8" y="389.2" width="2.6" height="3.9" fill="#5878cc"/>
<rect x="322.9" y="389.2" width="3.6" height="3.9" fill="#44a452"/>
<rect x="327.3" y="389.2" width="3.3" height="3.9" fill="#48a858"/>
<rect x="333.1" y="389.2" width="2.8" height="3.9" fill="#4468c8"/>
<rect x="337.9" y="389.2" width="3.2" height="3.9" fill="#4468c8"/>
<rect x="342.1" y="389.2" width="3.1" height="3.9" fill="#44a452"/>
<rect x="347" y="389.2" width="1.1" height="3.9" fill="#44a452"/>
<rect x="349.8" y="389.2" width="3.6" height="3.9" fill="#2f8a8a"/>
<rect x="354.7" y="389.2" width="1.3" height="3.9" fill="#4cae5c"/>
<rect x="358.1" y="389.2" width="2.4" height="3.9" fill="#2f8a8a"/>
<rect x="363.1" y="389.2" width="2.8" height="3.9" fill="#44a452"/>
<rect x="367.1" y="389.2" width="2.6" height="3.9" fill="#2f8a8a"/>
<rect x="371.4" y="389.2" width="0.9" height="3.9" fill="#3558b8"/>
<rect x="373" y="389.2" width="0.8" height="3.9" fill="#5878cc"/>
<rect x="375" y="389.2" width="3" height="3.9" fill="#4468c8"/>
<rect x="380.2" y="389.2" width="2.5" height="3.9" fill="#44a452"/>
<rect x="384.1" y="389.2" width="1.3" height="3.9" fill="#44a452"/>
<rect x="387.6" y="389.2" width="2" height="3.9" fill="#4cae5c"/>
<rect x="392.1" y="389.2" width="1.5" height="3.9" fill="#2f8a8a"/>
<rect x="395.7" y="389.2" width="1.3" height="3.9" fill="#44a452"/>
<rect x="399.4" y="389.2" width="3.4" height="3.9" fill="#2f8a8a"/>
<rect x="404.4" y="389.2" width="2.1" height="3.9" fill="#48a858"/>
<rect x="407.9" y="389.2" width="0.9" height="3.9" fill="#44a452"/>
<rect x="409.4" y="389.2" width="2.9" height="3.9" fill="#44a452"/>
<rect x="413.9" y="389.2" width="1.2" height="3.9" fill="#4cae5c"/>
<rect x="417.4" y="389.2" width="3.5" height="3.9" fill="#48a858"/>
<rect x="423.1" y="389.2" width="0.9" height="3.9" fill="#4cae5c"/>
<rect x="424.9" y="389.2" width="2.6" height="3.9" fill="#2f8a8a"/>
<rect x="429.8" y="389.2" width="3.4" height="3.9" fill="#4468c8"/>
<rect x="435.8" y="389.2" width="2" height="3.9" fill="#5878cc"/>
<rect x="439.6" y="389.2" width="3.4" height="3.9" fill="#3558b8"/>
<rect x="445.3" y="389.2" width="2.2" height="3.9" fill="#48a858"/>
<rect x="448.6" y="389.2" width="2.8" height="3.9" fill="#3558b8"/>
<rect x="453.2" y="389.2" width="3.4" height="3.9" fill="#2f8a8a"/>
<rect x="457.4" y="389.2" width="3.4" height="3.9" fill="#4468c8"/>
<rect x="463.1" y="389.2" width="1.7" height="3.9" fill="#2f8a8a"/>
<rect x="466.8" y="389.2" width="1.6" height="3.9" fill="#3558b8"/>
<rect x="470.8" y="389.2" width="3" height="3.9" fill="#44a452"/>
<rect x="474.4" y="389.2" width="1.6" height="3.9" fill="#4468c8"/>
<rect x="476.6" y="389.2" width="3.2" height="3.9" fill="#5878cc"/>
<rect x="481.1" y="389.2" width="2.8" height="3.9" fill="#2f8a8a"/>
<rect x="485.1" y="389.2" width="2.5" height="3.9" fill="#5878cc"/>
<rect x="489.6" y="389.2" width="2.8" height="3.9" fill="#4cae5c"/>
<rect x="492.9" y="389.2" width="1.8" height="3.9" fill="#3558b8"/>
<rect x="497" y="389.2" width="2" height="3.9" fill="#4468c8"/>
<rect x="499.5" y="389.2" width="1" height="3.9" fill="#44a452"/>
<rect x="502.6" y="389.2" width="1.5" height="3.9" fill="#2f8a8a"/>
<rect x="506.4" y="389.2" width="3.2" height="3.9" fill="#4cae5c"/>
<rect x="511" y="389.2" width="3.4" height="3.9" fill="#44a452"/>
<polygon points="103,391.2 105.5,389.4 105.5,393" fill="#3f62c4"/>
<polygon points="518.5,391.2 516,389.4 516,393" fill="#3f62c4"/>
<text x="104" y="314.1" font-size="6.6" text-anchor="middle" fill="#000" stroke="#000" stroke-width="0.1">13.91</text>
<text x="185.2" y="314.1" font-size="6.6" text-anchor="middle" fill="#000" stroke="#000" stroke-width="0.1">14.98</text>
<text x="266.7" y="314.7" font-size="7.9" text-anchor="middle" fill="#f01820" font-weight="bold">QTL1 region</text>
<text x="359.3" y="314.4" font-size="6.6" text-anchor="middle" fill="#000" stroke="#000" stroke-width="0.1">17.53</text>
<text x="523" y="314.3" font-size="6.6" text-anchor="middle" fill="#000" stroke="#000" stroke-width="0.1">19.75</text>
<text x="94.3" y="322.3" font-size="8.0" text-anchor="end" fill="#000" font-weight="bold">haploOB</text>
<text x="100" y="393.9" font-size="8.0" text-anchor="end" fill="#000" font-weight="bold">BT</text>
<text x="104" y="400.6" font-size="6.6" text-anchor="middle" fill="#000" stroke="#000" stroke-width="0.1">12.90</text>
<text x="189.7" y="400.6" font-size="6.6" text-anchor="middle" fill="#000" stroke="#000" stroke-width="0.1">13.97</text>
<text x="367" y="400.6" font-size="6.6" text-anchor="middle" fill="#000" stroke="#000" stroke-width="0.1">16.23</text>
<text x="503" y="400.6" font-size="6.6" text-anchor="start" fill="#000" stroke="#000" stroke-width="0.1">18.39 (Mb)</text>
<text x="85.5" y="359.5" font-size="7.9" text-anchor="middle" fill="#000" font-style="italic" stroke="#000" stroke-width="0.1">TTG2</text>
<line x1="97.5" y1="355.6" x2="123.9" y2="359.7" stroke="#000" stroke-width="1.6" />
<polygon points="129.3,360.6 122.9,362.4 123.8,356.9" fill="#000"/>
<text x="53.3" y="415.1" font-size="9.5" text-anchor="middle" fill="#000" font-weight="bold">f</text>
<line x1="69.3" y1="419.5" x2="69.3" y2="578.3" stroke="#111" stroke-width="1.3" />
<line x1="68.7" y1="578.3" x2="243.5" y2="578.3" stroke="#111" stroke-width="1.3" />
<line x1="66.8" y1="570" x2="69.3" y2="570" stroke="#222" stroke-width="0.9" />
<text x="66.3" y="570" font-size="8.4" text-anchor="middle" fill="#000" transform="rotate(-90 66.3 570)" stroke="#000" stroke-width="0.1">0</text>
<line x1="66.8" y1="521.1" x2="69.3" y2="521.1" stroke="#222" stroke-width="0.9" />
<text x="66.3" y="521.1" font-size="8.4" text-anchor="middle" fill="#000" transform="rotate(-90 66.3 521.1)" stroke="#000" stroke-width="0.1">1</text>
<line x1="66.8" y1="472.2" x2="69.3" y2="472.2" stroke="#222" stroke-width="0.9" />
<text x="66.3" y="472.2" font-size="8.4" text-anchor="middle" fill="#000" transform="rotate(-90 66.3 472.2)" stroke="#000" stroke-width="0.1">2</text>
<line x1="66.8" y1="423.3" x2="69.3" y2="423.3" stroke="#222" stroke-width="0.9" />
<text x="66.3" y="423.3" font-size="8.4" text-anchor="middle" fill="#000" transform="rotate(-90 66.3 423.3)" stroke="#000" stroke-width="0.1">3</text>
<text x="59" y="497.5" font-size="8.05" text-anchor="middle" fill="#000" transform="rotate(-90 59 497.5)" stroke="#000" stroke-width="0.1">Synonymous substitution (Ks)</text>
<text x="105.3" y="586.2" font-size="7.9" text-anchor="middle" fill="#000" stroke="#000" stroke-width="0.1">QTL1</text>
<text x="163" y="586.2" font-size="7.9" text-anchor="middle" fill="#000" stroke="#000" stroke-width="0.1">QTL2</text>
<text x="216.7" y="586.2" font-size="7.9" text-anchor="middle" fill="#000" stroke="#000" stroke-width="0.1">genome</text>
<path d="M105.3,540 L105.3,416.8 L216.7,416.8 L216.7,420" fill="none" stroke="#f46a6a" stroke-width="0.9" />
<path d="M163,559 L163,421.8 L216.7,421.8" fill="none" stroke="#6a6af4" stroke-width="0.9" />
<text x="158" y="413.8" font-size="7.9" text-anchor="middle" fill="#f03030" stroke="#f03030" stroke-width="0.1">P=1.5E-06</text>
<text x="190" y="429.8" font-size="7.9" text-anchor="middle" fill="#000" stroke="#000" stroke-width="0.1">P=0.343</text>
<path d="M212.5,570 L220.9,570 L219.9,529.9 L213.5,529.9 Z" fill="#444"/>
<rect x="215.3" y="530.5" width="1.2" height="1.3" fill="#444" stroke="none" stroke-width="0" />
<rect x="216.7" y="526" width="1.2" height="5.9" fill="#444" stroke="none" stroke-width="0" />
<rect x="213.1" y="529.9" width="1.2" height="2" fill="#444" stroke="none" stroke-width="0" />
<rect x="218.2" y="529.9" width="1.2" height="2" fill="#444" stroke="none" stroke-width="0" />
<rect x="219.2" y="530.7" width="1.2" height="1.1" fill="#444" stroke="none" stroke-width="0" />
<rect x="215.9" y="528" width="1.2" height="3.8" fill="#444" stroke="none" stroke-width="0" />
<rect x="217" y="528.6" width="1.2" height="3.3" fill="#444" stroke="none" stroke-width="0" />
<rect x="213.9" y="527.1" width="1.2" height="4.8" fill="#444" stroke="none" stroke-width="0" />
<rect x="216.2" y="525.7" width="1.2" height="6.2" fill="#444" stroke="none" stroke-width="0" />
<rect x="217.6" y="525" width="1.2" height="6.9" fill="#444" stroke="none" stroke-width="0" />
<rect x="217.7" y="530.2" width="1.2" height="1.7" fill="#444" stroke="none" stroke-width="0" />
<rect x="216.7" y="529.6" width="1.2" height="2.2" fill="#444" stroke="none" stroke-width="0" />
<rect x="218.4" y="530.6" width="1.2" height="1.3" fill="#444" stroke="none" stroke-width="0" />
<rect x="215.9" y="529.9" width="1.2" height="1.9" fill="#444" stroke="none" stroke-width="0" />
<rect x="217.4" y="529.3" width="1.2" height="2.5" fill="#444" stroke="none" stroke-width="0" />
<rect x="218.7" y="523" width="1.2" height="8.9" fill="#444" stroke="none" stroke-width="0" />
<rect x="215.8" y="525.3" width="1.2" height="6.5" fill="#444" stroke="none" stroke-width="0" />
<rect x="218.8" y="526.6" width="1.2" height="5.3" fill="#444" stroke="none" stroke-width="0" />
<rect x="213.8" y="529.6" width="1.2" height="2.3" fill="#444" stroke="none" stroke-width="0" />
<rect x="214.3" y="529.7" width="1.2" height="2.2" fill="#444" stroke="none" stroke-width="0" />
<rect x="216.9" y="526.8" width="1.2" height="5.1" fill="#444" stroke="none" stroke-width="0" />
<rect x="214.9" y="530" width="1.2" height="1.9" fill="#444" stroke="none" stroke-width="0" />
<rect x="215.2" y="527" width="1.2" height="4.8" fill="#444" stroke="none" stroke-width="0" />
<rect x="216.6" y="530.7" width="1.2" height="1.2" fill="#444" stroke="none" stroke-width="0" />
<rect x="217.2" y="523.6" width="1.2" height="8.3" fill="#444" stroke="none" stroke-width="0" />
<rect x="218.8" y="526.6" width="1.2" height="5.3" fill="#444" stroke="none" stroke-width="0" />
<rect x="217.2" y="523.4" width="1.2" height="8.4" fill="#444" stroke="none" stroke-width="0" />
<rect x="214" y="521.5" width="1.2" height="10.4" fill="#444" stroke="none" stroke-width="0" />
<rect x="218.6" y="524.4" width="1.2" height="7.5" fill="#444" stroke="none" stroke-width="0" />
<rect x="216.5" y="523.1" width="1.2" height="8.7" fill="#444" stroke="none" stroke-width="0" />
<rect x="218.2" y="530.3" width="1.2" height="1.6" fill="#444" stroke="none" stroke-width="0" />
<rect x="216.6" y="528.3" width="1.2" height="3.6" fill="#444" stroke="none" stroke-width="0" />
<rect x="218.3" y="530.6" width="1.2" height="1.3" fill="#444" stroke="none" stroke-width="0" />
<rect x="219.1" y="529.5" width="1.2" height="2.4" fill="#444" stroke="none" stroke-width="0" />
<rect x="215.5" y="524.9" width="1.2" height="6.9" fill="#444" stroke="none" stroke-width="0" />
<rect x="213.9" y="527.2" width="1.2" height="4.7" fill="#444" stroke="none" stroke-width="0" />
<rect x="218.4" y="529.1" width="1.2" height="2.8" fill="#444" stroke="none" stroke-width="0" />
<rect x="213.3" y="524.4" width="1.2" height="7.4" fill="#444" stroke="none" stroke-width="0" />
<rect x="217.5" y="530" width="1.2" height="1.9" fill="#444" stroke="none" stroke-width="0" />
<rect x="215.1" y="530.1" width="1.2" height="1.8" fill="#444" stroke="none" stroke-width="0" />
<circle cx="220" cy="535.2" r="0.45" fill="#777" stroke="none" stroke-width="0" />
<circle cx="220.1" cy="549" r="0.45" fill="#777" stroke="none" stroke-width="0" />
<circle cx="213.8" cy="556.2" r="0.45" fill="#777" stroke="none" stroke-width="0" />
<circle cx="213.5" cy="545.6" r="0.45" fill="#777" stroke="none" stroke-width="0" />
<circle cx="216.1" cy="560.3" r="0.45" fill="#777" stroke="none" stroke-width="0" />
<circle cx="214.4" cy="545.2" r="0.45" fill="#777" stroke="none" stroke-width="0" />
<circle cx="219.2" cy="566" r="0.45" fill="#777" stroke="none" stroke-width="0" />
<circle cx="219.8" cy="556" r="0.45" fill="#777" stroke="none" stroke-width="0" />
<circle cx="215.9" cy="534.7" r="0.45" fill="#777" stroke="none" stroke-width="0" />
<circle cx="216.8" cy="550.7" r="0.45" fill="#777" stroke="none" stroke-width="0" />
<circle cx="217.4" cy="543.9" r="0.45" fill="#777" stroke="none" stroke-width="0" />
<circle cx="217.5" cy="547" r="0.45" fill="#777" stroke="none" stroke-width="0" />
<circle cx="216.7" cy="533.1" r="0.45" fill="#777" stroke="none" stroke-width="0" />
<circle cx="218.2" cy="551.7" r="0.45" fill="#777" stroke="none" stroke-width="0" />
<circle cx="215.3" cy="558.8" r="0.45" fill="#777" stroke="none" stroke-width="0" />
<circle cx="216.8" cy="531.7" r="0.45" fill="#777" stroke="none" stroke-width="0" />
<circle cx="213.4" cy="547.4" r="0.45" fill="#777" stroke="none" stroke-width="0" />
<circle cx="217.2" cy="552.3" r="0.45" fill="#777" stroke="none" stroke-width="0" />
<circle cx="217.5" cy="566.8" r="0.45" fill="#777" stroke="none" stroke-width="0" />
<circle cx="213.7" cy="544.4" r="0.45" fill="#777" stroke="none" stroke-width="0" />
<circle cx="216.5" cy="544.5" r="0.45" fill="#777" stroke="none" stroke-width="0" />
<circle cx="215.7" cy="542.6" r="0.45" fill="#777" stroke="none" stroke-width="0" />
<circle cx="218.3" cy="541.6" r="0.45" fill="#777" stroke="none" stroke-width="0" />
<circle cx="213.7" cy="566.7" r="0.45" fill="#777" stroke="none" stroke-width="0" />
<circle cx="219.9" cy="542.8" r="0.45" fill="#777" stroke="none" stroke-width="0" />
<circle cx="216.4" cy="558.3" r="0.45" fill="#777" stroke="none" stroke-width="0" />
<circle cx="215.5" cy="545.8" r="0.45" fill="#777" stroke="none" stroke-width="0" />
<circle cx="215.4" cy="554.2" r="0.45" fill="#777" stroke="none" stroke-width="0" />
<circle cx="217.4" cy="554" r="0.45" fill="#777" stroke="none" stroke-width="0" />
<circle cx="215.9" cy="556.5" r="0.45" fill="#777" stroke="none" stroke-width="0" />
<circle cx="213.5" cy="539.2" r="0.45" fill="#777" stroke="none" stroke-width="0" />
<circle cx="218.3" cy="546.7" r="0.45" fill="#777" stroke="none" stroke-width="0" />
<circle cx="214.8" cy="556.2" r="0.45" fill="#777" stroke="none" stroke-width="0" />
<circle cx="214.9" cy="538.1" r="0.45" fill="#777" stroke="none" stroke-width="0" />
<circle cx="216.3" cy="560.7" r="0.45" fill="#777" stroke="none" stroke-width="0" />
<circle cx="214" cy="542" r="0.45" fill="#777" stroke="none" stroke-width="0" />
<circle cx="215.6" cy="555.7" r="0.45" fill="#777" stroke="none" stroke-width="0" />
<circle cx="216.3" cy="537" r="0.45" fill="#777" stroke="none" stroke-width="0" />
<circle cx="214.5" cy="536.2" r="0.45" fill="#777" stroke="none" stroke-width="0" />
<circle cx="217.7" cy="555.2" r="0.45" fill="#777" stroke="none" stroke-width="0" />
<circle cx="216.4" cy="535.1" r="0.45" fill="#777" stroke="none" stroke-width="0" />
<circle cx="214.1" cy="559.3" r="0.45" fill="#777" stroke="none" stroke-width="0" />
<circle cx="214.6" cy="548.1" r="0.45" fill="#777" stroke="none" stroke-width="0" />
<circle cx="219" cy="538" r="0.45" fill="#777" stroke="none" stroke-width="0" />
<circle cx="215.2" cy="560.8" r="0.45" fill="#777" stroke="none" stroke-width="0" />
<circle cx="217.7" cy="537.9" r="0.45" fill="#777" stroke="none" stroke-width="0" />
<circle cx="215.6" cy="538" r="0.45" fill="#777" stroke="none" stroke-width="0" />
<circle cx="215.3" cy="562.8" r="0.45" fill="#777" stroke="none" stroke-width="0" />
<circle cx="215.1" cy="538.4" r="0.45" fill="#777" stroke="none" stroke-width="0" />
<circle cx="216.1" cy="554.9" r="0.45" fill="#777" stroke="none" stroke-width="0" />
<circle cx="216.1" cy="552.2" r="0.45" fill="#777" stroke="none" stroke-width="0" />
<circle cx="214.4" cy="533.8" r="0.45" fill="#777" stroke="none" stroke-width="0" />
<circle cx="219.7" cy="567.4" r="0.45" fill="#777" stroke="none" stroke-width="0" />
<circle cx="220" cy="535.3" r="0.45" fill="#777" stroke="none" stroke-width="0" />
<circle cx="219.8" cy="551.6" r="0.45" fill="#777" stroke="none" stroke-width="0" />
<circle cx="214.8" cy="533.5" r="0.45" fill="#777" stroke="none" stroke-width="0" />
<circle cx="219" cy="540.2" r="0.45" fill="#777" stroke="none" stroke-width="0" />
<circle cx="216.8" cy="543.2" r="0.45" fill="#777" stroke="none" stroke-width="0" />
<circle cx="215.6" cy="557" r="0.45" fill="#777" stroke="none" stroke-width="0" />
<circle cx="213.8" cy="559.2" r="0.45" fill="#777" stroke="none" stroke-width="0" />
<circle cx="217.3" cy="528.4" r="0.95" fill="#1a1a1a" stroke="none" stroke-width="0" />
<line x1="215.1" y1="528.4" x2="219.5" y2="528.4" stroke="#333" stroke-width="0.55" />
<circle cx="218.9" cy="528.4" r="0.95" fill="#1a1a1a" stroke="none" stroke-width="0" />
<line x1="216.7" y1="528.4" x2="221.1" y2="528.4" stroke="#333" stroke-width="0.55" />
<circle cx="219.5" cy="528.4" r="0.95" fill="#1a1a1a" stroke="none" stroke-width="0" />
<circle cx="219.5" cy="525.2" r="0.95" fill="#1a1a1a" stroke="none" stroke-width="0" />
<circle cx="217.2" cy="525.2" r="0.95" fill="#1a1a1a" stroke="none" stroke-width="0" />
<line x1="215" y1="525.2" x2="219.4" y2="525.2" stroke="#333" stroke-width="0.55" />
<circle cx="218.4" cy="525.2" r="0.95" fill="#1a1a1a" stroke="none" stroke-width="0" />
<line x1="216.2" y1="525.2" x2="220.6" y2="525.2" stroke="#333" stroke-width="0.55" />
<circle cx="217.8" cy="523.5" r="0.95" fill="#1a1a1a" stroke="none" stroke-width="0" />
<line x1="215.6" y1="523.5" x2="220" y2="523.5" stroke="#333" stroke-width="0.55" />
<circle cx="216.1" cy="523.5" r="0.95" fill="#1a1a1a" stroke="none" stroke-width="0" />
<circle cx="217.5" cy="523.5" r="0.95" fill="#1a1a1a" stroke="none" stroke-width="0" />
<line x1="215.3" y1="523.5" x2="219.7" y2="523.5" stroke="#333" stroke-width="0.55" />
<circle cx="219.2" cy="521.9" r="0.95" fill="#1a1a1a" stroke="none" stroke-width="0" />
<line x1="217" y1="521.9" x2="221.4" y2="521.9" stroke="#333" stroke-width="0.55" />
<circle cx="218.7" cy="521.9" r="0.95" fill="#1a1a1a" stroke="none" stroke-width="0" />
<line x1="216.5" y1="521.9" x2="220.9" y2="521.9" stroke="#333" stroke-width="0.55" />
<circle cx="214.6" cy="521.9" r="0.95" fill="#1a1a1a" stroke="none" stroke-width="0" />
<line x1="212.4" y1="521.9" x2="216.8" y2="521.9" stroke="#333" stroke-width="0.55" />
<circle cx="214.4" cy="518.9" r="0.95" fill="#1a1a1a" stroke="none" stroke-width="0" />
<circle cx="219.7" cy="518.9" r="0.95" fill="#1a1a1a" stroke="none" stroke-width="0" />
<circle cx="219" cy="518.9" r="0.95" fill="#1a1a1a" stroke="none" stroke-width="0" />
<line x1="216.8" y1="518.9" x2="221.2" y2="518.9" stroke="#333" stroke-width="0.55" />
<circle cx="219.3" cy="516.4" r="0.95" fill="#1a1a1a" stroke="none" stroke-width="0" />
<line x1="217.1" y1="516.4" x2="221.5" y2="516.4" stroke="#333" stroke-width="0.55" />
<circle cx="215.1" cy="516.4" r="0.95" fill="#1a1a1a" stroke="none" stroke-width="0" />
<line x1="212.9" y1="516.4" x2="217.3" y2="516.4" stroke="#333" stroke-width="0.55" />
<circle cx="216.9" cy="516.4" r="0.95" fill="#1a1a1a" stroke="none" stroke-width="0" />
<line x1="214.7" y1="516.4" x2="219.1" y2="516.4" stroke="#333" stroke-width="0.55" />
<circle cx="218.6" cy="514.3" r="0.95" fill="#1a1a1a" stroke="none" stroke-width="0" />
<line x1="216.4" y1="514.3" x2="220.8" y2="514.3" stroke="#333" stroke-width="0.55" />
<circle cx="213.6" cy="514.3" r="0.95" fill="#1a1a1a" stroke="none" stroke-width="0" />
<line x1="211.4" y1="514.3" x2="215.8" y2="514.3" stroke="#333" stroke-width="0.55" />
<circle cx="213.7" cy="513" r="0.95" fill="#1a1a1a" stroke="none" stroke-width="0" />
<circle cx="219.2" cy="513" r="0.95" fill="#1a1a1a" stroke="none" stroke-width="0" />
<line x1="217" y1="513" x2="221.4" y2="513" stroke="#333" stroke-width="0.55" />
<circle cx="215.4" cy="510.8" r="0.95" fill="#1a1a1a" stroke="none" stroke-width="0" />
<line x1="213.2" y1="510.8" x2="217.6" y2="510.8" stroke="#333" stroke-width="0.55" />
<circle cx="215.7" cy="510.8" r="0.95" fill="#1a1a1a" stroke="none" stroke-width="0" />
<circle cx="215.7" cy="508.4" r="0.95" fill="#1a1a1a" stroke="none" stroke-width="0" />
<line x1="213.5" y1="508.4" x2="217.9" y2="508.4" stroke="#333" stroke-width="0.55" />
<circle cx="215.5" cy="508.4" r="0.95" fill="#1a1a1a" stroke="none" stroke-width="0" />
<line x1="213.3" y1="508.4" x2="217.7" y2="508.4" stroke="#333" stroke-width="0.55" />
<circle cx="217.5" cy="506" r="0.95" fill="#1a1a1a" stroke="none" stroke-width="0" />
<line x1="215.3" y1="506" x2="219.7" y2="506" stroke="#333" stroke-width="0.55" />
<circle cx="215.2" cy="506" r="0.95" fill="#1a1a1a" stroke="none" stroke-width="0" />
<line x1="213" y1="506" x2="217.4" y2="506" stroke="#333" stroke-width="0.55" />
<circle cx="217.1" cy="504.1" r="0.95" fill="#1a1a1a" stroke="none" stroke-width="0" />
<circle cx="216.3" cy="504.1" r="0.95" fill="#1a1a1a" stroke="none" stroke-width="0" />
<circle cx="216.5" cy="501.6" r="0.95" fill="#1a1a1a" stroke="none" stroke-width="0" />
<line x1="214.3" y1="501.6" x2="218.7" y2="501.6" stroke="#333" stroke-width="0.55" />
<circle cx="216.7" cy="501.6" r="0.95" fill="#1a1a1a" stroke="none" stroke-width="0" />
<circle cx="217.4" cy="499.6" r="0.95" fill="#1a1a1a" stroke="none" stroke-width="0" />
<line x1="215.2" y1="499.6" x2="219.6" y2="499.6" stroke="#333" stroke-width="0.55" />
<circle cx="215.8" cy="499.6" r="0.95" fill="#1a1a1a" stroke="none" stroke-width="0" />
<line x1="213.6" y1="499.6" x2="218" y2="499.6" stroke="#333" stroke-width="0.55" />
<circle cx="215.2" cy="497" r="0.95" fill="#1a1a1a" stroke="none" stroke-width="0" />
<line x1="213" y1="497" x2="217.4" y2="497" stroke="#333" stroke-width="0.55" />
<circle cx="216.4" cy="497" r="0.95" fill="#1a1a1a" stroke="none" stroke-width="0" />
<circle cx="216.3" cy="493.7" r="0.95" fill="#1a1a1a" stroke="none" stroke-width="0" />
<circle cx="217.7" cy="493.7" r="0.95" fill="#1a1a1a" stroke="none" stroke-width="0" />
<line x1="215.5" y1="493.7" x2="219.9" y2="493.7" stroke="#333" stroke-width="0.55" />
<circle cx="215.4" cy="489.7" r="0.95" fill="#1a1a1a" stroke="none" stroke-width="0" />
<circle cx="218.1" cy="484.7" r="0.95" fill="#1a1a1a" stroke="none" stroke-width="0" />
<circle cx="217.5" cy="479.8" r="0.95" fill="#1a1a1a" stroke="none" stroke-width="0" />
<circle cx="217" cy="477.4" r="0.95" fill="#1a1a1a" stroke="none" stroke-width="0" />
<line x1="214.8" y1="477.4" x2="219.2" y2="477.4" stroke="#333" stroke-width="0.55" />
<circle cx="217.7" cy="474.9" r="0.95" fill="#1a1a1a" stroke="none" stroke-width="0" />
<line x1="215.5" y1="474.9" x2="219.9" y2="474.9" stroke="#333" stroke-width="0.55" />
<circle cx="215.3" cy="472.6" r="0.95" fill="#1a1a1a" stroke="none" stroke-width="0" />
<circle cx="215" cy="469.9" r="0.95" fill="#1a1a1a" stroke="none" stroke-width="0" />
<circle cx="217.9" cy="467.5" r="0.95" fill="#1a1a1a" stroke="none" stroke-width="0" />
<circle cx="218.3" cy="461.8" r="0.95" fill="#1a1a1a" stroke="none" stroke-width="0" />
<circle cx="215.1" cy="456.2" r="0.95" fill="#1a1a1a" stroke="none" stroke-width="0" />
<circle cx="217.5" cy="452" r="0.95" fill="#1a1a1a" stroke="none" stroke-width="0" />
<line x1="215.3" y1="452" x2="219.7" y2="452" stroke="#333" stroke-width="0.55" />
<circle cx="218.2" cy="446.6" r="0.95" fill="#1a1a1a" stroke="none" stroke-width="0" />
<line x1="216" y1="446.6" x2="220.4" y2="446.6" stroke="#333" stroke-width="0.55" />
<circle cx="216.9" cy="443.3" r="0.95" fill="#1a1a1a" stroke="none" stroke-width="0" />
<circle cx="215.6" cy="440.3" r="0.95" fill="#1a1a1a" stroke="none" stroke-width="0" />
<line x1="213.4" y1="440.3" x2="217.8" y2="440.3" stroke="#333" stroke-width="0.55" />
<circle cx="217.6" cy="435.6" r="0.95" fill="#1a1a1a" stroke="none" stroke-width="0" />
<line x1="215.4" y1="435.6" x2="219.8" y2="435.6" stroke="#333" stroke-width="0.55" />
<circle cx="216.3" cy="432" r="0.95" fill="#1a1a1a" stroke="none" stroke-width="0" />
<line x1="214.1" y1="432" x2="218.5" y2="432" stroke="#333" stroke-width="0.55" />
<circle cx="215.2" cy="428.2" r="0.95" fill="#1a1a1a" stroke="none" stroke-width="0" />
<line x1="213" y1="428.2" x2="217.4" y2="428.2" stroke="#333" stroke-width="0.55" />
<circle cx="216.5" cy="425.7" r="0.8" fill="#222" stroke="none" stroke-width="0" />
<line x1="214.5" y1="425.7" x2="218.9" y2="425.7" stroke="#333" stroke-width="0.5" />
<circle cx="217.3" cy="428.2" r="0.8" fill="#222" stroke="none" stroke-width="0" />
<line x1="214.5" y1="428.2" x2="218.9" y2="428.2" stroke="#333" stroke-width="0.5" />
<circle cx="215.9" cy="424.3" r="0.8" fill="#222" stroke="none" stroke-width="0" />
<line x1="214.5" y1="424.3" x2="218.9" y2="424.3" stroke="#333" stroke-width="0.5" />
<circle cx="217.2" cy="430.1" r="0.8" fill="#222" stroke="none" stroke-width="0" />
<line x1="214.5" y1="430.1" x2="218.9" y2="430.1" stroke="#333" stroke-width="0.5" />
<circle cx="217.3" cy="433.1" r="0.8" fill="#222" stroke="none" stroke-width="0" />
<line x1="214.5" y1="433.1" x2="218.9" y2="433.1" stroke="#333" stroke-width="0.5" />
<circle cx="217.1" cy="435.5" r="0.8" fill="#222" stroke="none" stroke-width="0" />
<line x1="214.5" y1="435.5" x2="218.9" y2="435.5" stroke="#333" stroke-width="0.5" />
<line x1="216.7" y1="530.9" x2="216.7" y2="423.3" stroke="#666" stroke-width="0.5" />
<path d="M194.5,569.8 Q217.4,567.2 240.4,569.8 Q217.4,570.8 194.5,569.8 Z" fill="#fff" stroke="#8a8a8a" stroke-width="0.8" />
<path d="M80.6,569.8 Q105.1,567.2 129.6,569.8 Q105.1,570.8 80.6,569.8 Z" fill="#fff" stroke="#f02020" stroke-width="0.8" />
<path d="M143,569.4 Q163.7,565.8 184.4,569.4 Q163.7,570.8 143,569.4 Z" fill="#fff" stroke="#2020f0" stroke-width="0.9" />
<path d="M212.5,570 L220.9,570 L220.7,566 L212.7,566 Z" fill="#444"/>
<line x1="98" y1="569.7" x2="113" y2="569.7" stroke="#111" stroke-width="1.7" />
<line x1="156" y1="569.3" x2="170" y2="569.3" stroke="#111" stroke-width="1.7" />
<line x1="208.5" y1="569.7" x2="225" y2="569.7" stroke="#111" stroke-width="1.7" />
<circle cx="105.3" cy="547" r="1.35" fill="#e81818" stroke="none" stroke-width="0" />
<circle cx="105.3" cy="551.4" r="1.35" fill="#e81818" stroke="none" stroke-width="0" />
<circle cx="105.7" cy="554.8" r="1.35" fill="#e81818" stroke="none" stroke-width="0" />
<circle cx="106.3" cy="556.8" r="1.35" fill="#e81818" stroke="none" stroke-width="0" />
<circle cx="104.4" cy="559.2" r="1.35" fill="#e81818" stroke="none" stroke-width="0" />
<circle cx="104.2" cy="560.2" r="1.35" fill="#e81818" stroke="none" stroke-width="0" />
<circle cx="105.9" cy="561.7" r="1.35" fill="#e81818" stroke="none" stroke-width="0" />
<circle cx="106.4" cy="563.6" r="1.35" fill="#e81818" stroke="none" stroke-width="0" />
<circle cx="105.3" cy="565.1" r="1.35" fill="#e81818" stroke="none" stroke-width="0" />
<circle cx="105.2" cy="566.1" r="1.35" fill="#e81818" stroke="none" stroke-width="0" />
<circle cx="105.9" cy="567.6" r="1.35" fill="#e81818" stroke="none" stroke-width="0" />
<circle cx="104.5" cy="568" r="1.35" fill="#e81818" stroke="none" stroke-width="0" />
<line x1="105.3" y1="570" x2="105.3" y2="547" stroke="#e81818" stroke-width="0.5" />
<circle cx="161.9" cy="561.7" r="1.3" fill="#1818e8" stroke="none" stroke-width="0" />
<circle cx="161.6" cy="563.2" r="1.3" fill="#1818e8" stroke="none" stroke-width="0" />
<circle cx="163.4" cy="564.1" r="1.3" fill="#1818e8" stroke="none" stroke-width="0" />
<circle cx="162.1" cy="564.6" r="1.3" fill="#1818e8" stroke="none" stroke-width="0" />
<circle cx="161.8" cy="565.1" r="1.3" fill="#1818e8" stroke="none" stroke-width="0" />
<circle cx="163.9" cy="565.6" r="1.3" fill="#1818e8" stroke="none" stroke-width="0" />
<circle cx="165.1" cy="566.1" r="1.3" fill="#1818e8" stroke="none" stroke-width="0" />
<circle cx="162.1" cy="566.6" r="1.3" fill="#1818e8" stroke="none" stroke-width="0" />
<circle cx="163.9" cy="567.1" r="1.3" fill="#1818e8" stroke="none" stroke-width="0" />
<circle cx="162.6" cy="567.6" r="1.3" fill="#1818e8" stroke="none" stroke-width="0" />
<circle cx="164.6" cy="567.6" r="1.3" fill="#1818e8" stroke="none" stroke-width="0" />
<circle cx="163.4" cy="568" r="1.3" fill="#1818e8" stroke="none" stroke-width="0" />
<text x="249.4" y="417.2" font-size="9.5" text-anchor="middle" fill="#000" font-weight="bold">g</text>
<line x1="386.7" y1="412.5" x2="386.7" y2="577.2" stroke="#111" stroke-width="1.5" />
<line x1="386.2" y1="576.7" x2="527.5" y2="576.7" stroke="#111" stroke-width="1.25" />
<line x1="384.9" y1="416" x2="386.7" y2="416" stroke="#333" stroke-width="0.6" />
<text x="384.3" y="418" font-size="6.05" text-anchor="end" fill="#3a3a3a" stroke="none">aldose 1-epimerase activity</text>
<circle cx="453.4" cy="416" r="0.9" fill="#e010a0" stroke="none" stroke-width="0" />
<line x1="384.9" y1="422.3" x2="386.7" y2="422.3" stroke="#333" stroke-width="0.6" />
<text x="384.3" y="424.3" font-size="6.05" text-anchor="end" fill="#3a3a3a" stroke="none">adenosine kinase activity</text>
<circle cx="398.6" cy="422.3" r="0.9" fill="#e010a0" stroke="none" stroke-width="0" />
<line x1="384.9" y1="428.6" x2="386.7" y2="428.6" stroke="#333" stroke-width="0.6" />
<text x="384.3" y="430.6" font-size="6.05" text-anchor="end" fill="#3a3a3a" stroke="none">glutaminyl-tRNA synthase activity</text>
<circle cx="394.1" cy="428.6" r="0.9" fill="#d010b0" stroke="none" stroke-width="0" />
<line x1="384.9" y1="434.8" x2="386.7" y2="434.8" stroke="#333" stroke-width="0.6" />
<text x="384.3" y="436.8" font-size="6.05" text-anchor="end" fill="#3a3a3a" stroke="none">phosphatidylserine decarboxylase activity</text>
<circle cx="394.1" cy="434.8" r="0.9" fill="#d010b0" stroke="none" stroke-width="0" />
<line x1="384.9" y1="441.1" x2="386.7" y2="441.1" stroke="#333" stroke-width="0.6" />
<text x="384.3" y="443.1" font-size="6.05" text-anchor="end" fill="#3a3a3a" stroke="none">alpha-N-acetylglucosaminidase activity</text>
<circle cx="394.1" cy="441.1" r="0.9" fill="#a020d0" stroke="none" stroke-width="0" />
<line x1="384.9" y1="447.4" x2="386.7" y2="447.4" stroke="#333" stroke-width="0.6" />
<text x="384.3" y="449.4" font-size="6.05" text-anchor="end" fill="#3a3a3a" stroke="none">nucleobase transmembrane transporter activity</text>
<circle cx="394.1" cy="447.4" r="0.9" fill="#2030f0" stroke="none" stroke-width="0" />
<line x1="384.9" y1="453.7" x2="386.7" y2="453.7" stroke="#333" stroke-width="0.6" />
<text x="384.3" y="455.7" font-size="6.05" text-anchor="end" fill="#3a3a3a" stroke="none">acylphosphatase activity</text>
<circle cx="394.1" cy="453.7" r="0.9" fill="#2030f0" stroke="none" stroke-width="0" />
<line x1="384.9" y1="460" x2="386.7" y2="460" stroke="#333" stroke-width="0.6" />
<text x="384.3" y="462" font-size="6.05" text-anchor="end" fill="#3a3a3a" stroke="none">multivesicular body</text>
<circle cx="521.3" cy="460" r="0.9" fill="#e010a0" stroke="none" stroke-width="0" />
<line x1="384.9" y1="466.2" x2="386.7" y2="466.2" stroke="#333" stroke-width="0.6" />
<text x="384.3" y="468.2" font-size="6.05" text-anchor="end" fill="#3a3a3a" stroke="none">retromer complex</text>
<circle cx="453.4" cy="466.2" r="0.9" fill="#e010a0" stroke="none" stroke-width="0" />
<line x1="384.9" y1="472.5" x2="386.7" y2="472.5" stroke="#333" stroke-width="0.6" />
<text x="384.3" y="474.5" font-size="6.05" text-anchor="end" fill="#3a3a3a" stroke="none">glutamyl-tRNA(Gln) amidotransferase complex</text>
<circle cx="394.1" cy="472.5" r="0.9" fill="#d010b0" stroke="none" stroke-width="0" />
<line x1="384.9" y1="478.8" x2="386.7" y2="478.8" stroke="#333" stroke-width="0.6" />
<text x="384.3" y="480.8" font-size="6.05" text-anchor="end" fill="#3a3a3a" stroke="none">lipid glycosylation</text>
<circle cx="521.8" cy="478.8" r="0.9" fill="#e010a0" stroke="none" stroke-width="0" />
<line x1="384.9" y1="485.1" x2="386.7" y2="485.1" stroke="#333" stroke-width="0.6" />
<text x="384.3" y="487.1" font-size="6.0" text-anchor="end" fill="#000" font-weight="bold">water transport</text>
<circle cx="443.4" cy="485.1" r="2.4" fill="#f01020" stroke="none" stroke-width="0" />
<line x1="384.9" y1="491.4" x2="386.7" y2="491.4" stroke="#333" stroke-width="0.6" />
<text x="384.3" y="493.4" font-size="6.05" text-anchor="end" fill="#3a3a3a" stroke="none">AMP biosynthesis process</text>
<circle cx="415.8" cy="491.4" r="0.9" fill="#e010a0" stroke="none" stroke-width="0" />
<line x1="384.9" y1="497.6" x2="386.7" y2="497.6" stroke="#333" stroke-width="0.6" />
<text x="384.3" y="499.6" font-size="6.0" text-anchor="end" fill="#000" font-weight="bold">response to ABA</text>
<circle cx="408.4" cy="497.6" r="3.2" fill="#f01020" stroke="none" stroke-width="0" />
<line x1="384.9" y1="503.9" x2="386.7" y2="503.9" stroke="#333" stroke-width="0.6" />
<text x="384.3" y="505.9" font-size="6.05" text-anchor="end" fill="#3a3a3a" stroke="none">purine ribonucleoside salvage</text>
<circle cx="398.6" cy="503.9" r="0.9" fill="#e010a0" stroke="none" stroke-width="0" />
<line x1="384.9" y1="510.2" x2="386.7" y2="510.2" stroke="#333" stroke-width="0.6" />
<text x="384.3" y="512.2" font-size="6.05" text-anchor="end" fill="#3a3a3a" stroke="none">UDP-N-acetylgalactosamine biosynthetic process</text>
<circle cx="398.6" cy="510.2" r="0.9" fill="#e010a0" stroke="none" stroke-width="0" />
<line x1="384.9" y1="516.5" x2="386.7" y2="516.5" stroke="#333" stroke-width="0.6" />
<text x="384.3" y="518.5" font-size="6.0" text-anchor="end" fill="#000" font-weight="bold">response to trehalose-6-phosphate</text>
<circle cx="394.1" cy="516.5" r="0.9" fill="#d010b0" stroke="none" stroke-width="0" />
<line x1="384.9" y1="522.8" x2="386.7" y2="522.8" stroke="#333" stroke-width="0.6" />
<text x="384.3" y="524.8" font-size="6.05" text-anchor="end" fill="#3a3a3a" stroke="none">mitochondrial translation</text>
<circle cx="394.1" cy="522.8" r="0.9" fill="#d010b0" stroke="none" stroke-width="0" />
<line x1="384.9" y1="529" x2="386.7" y2="529" stroke="#333" stroke-width="0.6" />
<text x="384.3" y="531" font-size="6.05" text-anchor="end" fill="#3a3a3a" stroke="none">glutaminyl-tRNAGln biosynthesis via transamidation</text>
<circle cx="394.1" cy="529" r="0.9" fill="#d010b0" stroke="none" stroke-width="0" />
<line x1="384.9" y1="535.3" x2="386.7" y2="535.3" stroke="#333" stroke-width="0.6" />
<text x="384.3" y="537.3" font-size="6.05" text-anchor="end" fill="#3a3a3a" stroke="none">diterpene phytoalexin precursor biosynthetic pathway</text>
<circle cx="394.1" cy="535.3" r="0.9" fill="#d010b0" stroke="none" stroke-width="0" />
<line x1="384.9" y1="541.6" x2="386.7" y2="541.6" stroke="#333" stroke-width="0.6" />
<text x="384.3" y="543.6" font-size="6.05" text-anchor="end" fill="#3a3a3a" stroke="none">L-phenylalanine catabolic process</text>
<circle cx="394.1" cy="541.6" r="0.9" fill="#d010b0" stroke="none" stroke-width="0" />
<line x1="384.9" y1="547.9" x2="386.7" y2="547.9" stroke="#333" stroke-width="0.6" />
<text x="384.3" y="549.9" font-size="6.0" text-anchor="end" fill="#000" font-weight="bold">response to osmotic stress</text>
<circle cx="394.1" cy="547.9" r="2.5" fill="#e01858" stroke="none" stroke-width="0" />
<line x1="384.9" y1="554.2" x2="386.7" y2="554.2" stroke="#333" stroke-width="0.6" />
<text x="384.3" y="556.2" font-size="6.05" text-anchor="end" fill="#3a3a3a" stroke="none">cinnamic acid biosynthetic process</text>
<circle cx="393.7" cy="554.2" r="0.9" fill="#d010b0" stroke="none" stroke-width="0" />
<line x1="384.9" y1="560.4" x2="386.7" y2="560.4" stroke="#333" stroke-width="0.6" />
<text x="384.3" y="562.4" font-size="6.0" text-anchor="end" fill="#000" font-weight="bold">response to desiccation</text>
<circle cx="393.9" cy="560.4" r="2.3" fill="#e01858" stroke="none" stroke-width="0" />
<line x1="384.9" y1="566.7" x2="386.7" y2="566.7" stroke="#333" stroke-width="0.6" />
<text x="384.3" y="568.7" font-size="6.05" text-anchor="end" fill="#3a3a3a" stroke="none">nucleobase transport</text>
<circle cx="393.7" cy="566.7" r="0.9" fill="#2030f0" stroke="none" stroke-width="0" />
<line x1="384.9" y1="573" x2="386.7" y2="573" stroke="#333" stroke-width="0.6" />
<text x="384.3" y="575" font-size="6.05" text-anchor="end" fill="#3a3a3a" stroke="none">hydrogen peroxide transmembrane transport</text>
<circle cx="394.1" cy="573" r="2.5" fill="#1030f0" stroke="none" stroke-width="0" />
<text x="393.3" y="587.1" font-size="7.5" text-anchor="middle" fill="#000" stroke="#000" stroke-width="0.1">0.000</text>
<text x="432.3" y="587.1" font-size="7.5" text-anchor="middle" fill="#000" stroke="#000" stroke-width="0.1">0.002</text>
<text x="470" y="587.1" font-size="7.5" text-anchor="middle" fill="#000" stroke="#000" stroke-width="0.1">0.004</text>
<text x="507" y="587.1" font-size="7.5" text-anchor="middle" fill="#000" stroke="#000" stroke-width="0.1">0.006</text>
<text x="527" y="588.6" font-size="8" text-anchor="middle" fill="#000" font-weight="bold">FDR</text>
<text x="470" y="537.8" font-size="5.8" text-anchor="middle" fill="#555" stroke="none">count</text>
<text x="494.3" y="537.8" font-size="5.8" text-anchor="middle" fill="#555" stroke="none">category</text>
<text x="509.5" y="537.8" font-size="5.8" fill="#555">-log<tspan font-size="3.8" dy="1.2">10</tspan><tspan dy="-1.2">(FC)</tspan></text>
<circle cx="470" cy="546.7" r="0.6" fill="#111" stroke="none" stroke-width="0" />
<text x="479.5" y="548.4" font-size="5.8" text-anchor="middle" fill="#555" stroke="none">1</text>
<circle cx="469.5" cy="554.6" r="2.7" fill="#fff" stroke="#222" stroke-width="0.9" />
<text x="479.5" y="557" font-size="5.8" text-anchor="middle" fill="#555" stroke="none">2</text>
<circle cx="469.5" cy="566.3" r="3.3" fill="#fff" stroke="#222" stroke-width="0.9" />
<text x="479.5" y="568" font-size="5.8" text-anchor="middle" fill="#555" stroke="none">3</text>
<rect x="493.3" y="547" width="1.6" height="1.6" fill="#111" stroke="none" stroke-width="0" />
<text x="497.5" y="549.6" font-size="5.8" text-anchor="start" fill="#555" stroke="none">BP</text>
<polygon points="494.1,555.6 495.2,557.6 493,557.6" fill="#111"/>
<text x="497.5" y="558.7" font-size="5.8" text-anchor="start" fill="#555" stroke="none">CC</text>
<circle cx="494.1" cy="566" r="0.9" fill="#111" stroke="none" stroke-width="0" />
<text x="497.5" y="568" font-size="5.8" text-anchor="start" fill="#555" stroke="none">MF</text>
<defs><linearGradient id="gfc" x1="0" y1="0" x2="0" y2="1"><stop offset="0" stop-color="#ff1010"/><stop offset="0.5" stop-color="#b020b0"/><stop offset="1" stop-color="#2030ff"/></linearGradient></defs>
<rect x="516.7" y="544" width="4.2" height="26" fill="url(#gfc)" stroke="none" stroke-width="0" />
<text x="522" y="547.2" font-size="5.8" text-anchor="start" fill="#555" stroke="none">-1.0</text>
<text x="522" y="571" font-size="5.8" text-anchor="start" fill="#555" stroke="none">-2.5</text>
<text x="52.8" y="606.4" font-size="9.5" text-anchor="middle" fill="#000" font-weight="bold">h</text>
<path d="M77,620.6 C79.2,620.8 85.3,621.9 90,622 C94.7,622.1 100,621.6 105,621 C110,620.4 115.8,619.3 120,618.4 C124.2,617.5 127,616.2 130.5,615.4 C134,614.6 136.8,614.2 141,613.6 C145.2,613 150.5,612.3 156,611.5 C161.5,610.7 168.5,609.4 174,609 C179.5,608.6 184,609.2 189,609.4 C194,609.6 199,610.1 204,610 C209,609.9 214.2,608.9 219,608.5 C223.8,608.1 227.4,607.4 232.6,607.4 C237.8,607.4 244.6,608.3 250,608.5 C255.4,608.7 260,608.7 265,608.6 C270,608.5 275,607.7 280,607.7 C285,607.7 290,608.4 295,608.5 C300,608.6 305,608.5 310,608.6 C315,608.8 320,609.1 325,609.4 C330,609.7 335.7,610.2 340,610.6 C344.3,611 346.6,611.1 350.6,611.5 C354.6,611.9 359.8,612.4 364,613 C368.2,613.6 372.5,614.3 376,615 C379.5,615.7 383.5,616.7 385,617" fill="none" stroke="#86b25e" stroke-width="3.9" stroke-linecap="round" stroke-linejoin="round"/>
<path d="M77,620.6 C79.2,620.8 85.3,621.9 90,622 C94.7,622.1 100,621.6 105,621 C110,620.4 115.8,619.3 120,618.4 C124.2,617.5 127,616.2 130.5,615.4 C134,614.6 136.8,614.2 141,613.6 C145.2,613 150.5,612.3 156,611.5 C161.5,610.7 168.5,609.4 174,609 C179.5,608.6 184,609.2 189,609.4 C194,609.6 199,610.1 204,610 C209,609.9 214.2,608.9 219,608.5 C223.8,608.1 227.4,607.4 232.6,607.4 C237.8,607.4 244.6,608.3 250,608.5 C255.4,608.7 260,608.7 265,608.6 C270,608.5 275,607.7 280,607.7 C285,607.7 290,608.4 295,608.5 C300,608.6 305,608.5 310,608.6 C315,608.8 320,609.1 325,609.4 C330,609.7 335.7,610.2 340,610.6 C344.3,611 346.6,611.1 350.6,611.5 C354.6,611.9 359.8,612.4 364,613 C368.2,613.6 372.5,614.3 376,615 C379.5,615.7 383.5,616.7 385,617" fill="none" stroke="#a6cd7e" stroke-width="2.6" stroke-linecap="round" stroke-linejoin="round"/>
<path d="M77,620.6 C79.2,620.8 85.3,621.9 90,622 C94.7,622.1 100,621.6 105,621 C110,620.4 115.8,619.3 120,618.4 C124.2,617.5 127,616.2 130.5,615.4 C134,614.6 136.8,614.2 141,613.6 C145.2,613 150.5,612.3 156,611.5 C161.5,610.7 168.5,609.4 174,609 C179.5,608.6 184,609.2 189,609.4 C194,609.6 199,610.1 204,610 C209,609.9 214.2,608.9 219,608.5 C223.8,608.1 227.4,607.4 232.6,607.4 C237.8,607.4 244.6,608.3 250,608.5 C255.4,608.7 260,608.7 265,608.6 C270,608.5 275,607.7 280,607.7 C285,607.7 290,608.4 295,608.5 C300,608.6 305,608.5 310,608.6 C315,608.8 320,609.1 325,609.4 C330,609.7 335.7,610.2 340,610.6 C344.3,611 346.6,611.1 350.6,611.5 C354.6,611.9 359.8,612.4 364,613 C368.2,613.6 372.5,614.3 376,615 C379.5,615.7 383.5,616.7 385,617" fill="none" stroke="#c8e0a4" stroke-width="0.8" stroke-linejoin="round" transform="translate(0 -0.3)"/>
<path d="M75.5,618.5 L83,620.6 L92,621 L92,623.6 L84,624.6 L79,623.8 L76.5,624.8 L78,622.4 L75,621.4 Z" fill="#a8b86a" stroke="#8a9a50" stroke-width="0.4" />
<path d="M78,621.6 L90,622.4" fill="none" stroke="#dfe6b8" stroke-width="0.9" />
<polygon points="92.8,620.4 95.2,620.4 93.3,617.8" fill="#86b25e"/>
<polygon points="103,619.8 105.4,619.8 104.9,616.9" fill="#86b25e"/>
<polygon points="108.5,621.5 110.9,621.5 108.9,624.5" fill="#86b25e"/>
<polygon points="115.8,620.2 118.2,620.2 117.4,623" fill="#86b25e"/>
<polygon points="121.7,616.3 124.1,616.3 122.9,614.1" fill="#86b25e"/>
<polygon points="132.2,616.2 134.6,616.2 133.2,619.4" fill="#86b25e"/>
<polygon points="141.7,612 144.1,612 143.2,609.6" fill="#86b25e"/>
<polygon points="151.1,610.7 153.5,610.7 151.9,608.6" fill="#86b25e"/>
<polygon points="157.3,609.8 159.7,609.8 158,606.6" fill="#86b25e"/>
<polygon points="167.7,611 170.1,611 168.6,613.1" fill="#86b25e"/>
<polygon points="175.6,607.8 178,607.8 177.5,605.1" fill="#86b25e"/>
<polygon points="181.3,610.5 183.7,610.5 182.6,612.7" fill="#86b25e"/>
<polygon points="191.6,608.3 194,608.3 192.1,606.2" fill="#86b25e"/>
<polygon points="199.9,608.6 202.3,608.6 201.1,606.4" fill="#86b25e"/>
<polygon points="210.4,607.9 212.8,607.9 211.9,605.3" fill="#86b25e"/>
<polygon points="216,610 218.4,610 217.4,612.3" fill="#86b25e"/>
<polygon points="226.7,606.5 229.1,606.5 228.1,603.6" fill="#86b25e"/>
<polygon points="232.6,606.2 235,606.2 234.7,602.6" fill="#86b25e"/>
<polygon points="238.3,609.1 240.7,609.1 239.1,612.7" fill="#86b25e"/>
<polygon points="247,607.1 249.4,607.1 248.5,604.5" fill="#86b25e"/>
<polygon points="255.6,609.8 258,609.8 256.5,612" fill="#86b25e"/>
<polygon points="265.7,609.8 268.1,609.8 266.8,612.5" fill="#86b25e"/>
<polygon points="276.7,609.1 279.1,609.1 278.4,611.2" fill="#86b25e"/>
<polygon points="283.6,606.7 286,606.7 284.7,604.3" fill="#86b25e"/>
<polygon points="290.6,607 293,607 291.1,604" fill="#86b25e"/>
<polygon points="300.3,607.2 302.7,607.2 302,604" fill="#86b25e"/>
<polygon points="308.3,609.9 310.7,609.9 309.9,612.3" fill="#86b25e"/>
<polygon points="315.8,607.7 318.2,607.7 316.8,604.1" fill="#86b25e"/>
<polygon points="323.1,610.7 325.5,610.7 324.6,613.3" fill="#86b25e"/>
<polygon points="329.1,611.1 331.5,611.1 329.5,613.5" fill="#86b25e"/>
<polygon points="339.9,609.4 342.3,609.4 342,605.9" fill="#86b25e"/>
<polygon points="348.6,610.1 351,610.1 349.2,608" fill="#86b25e"/>
<polygon points="355.9,613.5 358.3,613.5 356.8,617.1" fill="#86b25e"/>
<polygon points="361.7,614.2 364.1,614.2 362.2,616.4" fill="#86b25e"/>
<polygon points="370.1,615.5 372.5,615.5 371.2,617.6" fill="#86b25e"/>
<polygon points="379.3,617.3 381.7,617.3 381.2,619.9" fill="#86b25e"/>
<polygon points="128.4,603.4 132.8,603.4 130.6,612.6" fill="#111"/>
<polygon points="172.6,597.8 177,597.8 174.8,607" fill="#111"/>
<polygon points="230,597 234.4,597 232.2,606.2" fill="#111"/>
<polygon points="292.8,597.8 297.2,597.8 295,607" fill="#111"/>
<polygon points="348.8,600.2 353.2,600.2 351,609.4" fill="#111"/>
<text x="152.7" y="605.3" font-size="7.2" text-anchor="middle" fill="#000" stroke="#000" stroke-width="0.1">I</text>
<text x="203" y="602.6" font-size="7.2" text-anchor="middle" fill="#000" stroke="#000" stroke-width="0.1">II</text>
<text x="265.8" y="602.2" font-size="7.2" text-anchor="middle" fill="#000" stroke="#000" stroke-width="0.1">III</text>
<text x="327" y="600.8" font-size="7.2" text-anchor="middle" fill="#000" stroke="#000" stroke-width="0.1">IV</text>
<line x1="332.6" y1="624.5" x2="369.2" y2="624.5" stroke="#ecc820" stroke-width="1.5" />
<text x="350" y="623.6" font-size="7.6" text-anchor="middle" fill="#000" stroke="#000" stroke-width="0.1">10 cm</text>
<line x1="68.2" y1="659.5" x2="147" y2="659.5" stroke="#a6a6a6" stroke-width="1.1" stroke-dasharray="6.2 3.4" stroke-dashoffset="3"/>
<line x1="68.2" y1="689" x2="147" y2="689" stroke="#a6a6a6" stroke-width="1.1" stroke-dasharray="6.2 3.4" stroke-dashoffset="3"/>
<line x1="68.2" y1="718.5" x2="147" y2="718.5" stroke="#a6a6a6" stroke-width="1.1" stroke-dasharray="6.2 3.4" stroke-dashoffset="3"/>
<line x1="151.8" y1="659.5" x2="230.2" y2="659.5" stroke="#a6a6a6" stroke-width="1.1" stroke-dasharray="6.2 3.4" stroke-dashoffset="3"/>
<line x1="151.8" y1="689" x2="230.2" y2="689" stroke="#a6a6a6" stroke-width="1.1" stroke-dasharray="6.2 3.4" stroke-dashoffset="3"/>
<line x1="151.8" y1="718.5" x2="230.2" y2="718.5" stroke="#a6a6a6" stroke-width="1.1" stroke-dasharray="6.2 3.4" stroke-dashoffset="3"/>
<line x1="235.8" y1="659.5" x2="315.4" y2="659.5" stroke="#a6a6a6" stroke-width="1.1" stroke-dasharray="6.2 3.4" stroke-dashoffset="3"/>
<line x1="235.8" y1="689" x2="315.4" y2="689" stroke="#a6a6a6" stroke-width="1.1" stroke-dasharray="6.2 3.4" stroke-dashoffset="3"/>
<line x1="235.8" y1="718.5" x2="315.4" y2="718.5" stroke="#a6a6a6" stroke-width="1.1" stroke-dasharray="6.2 3.4" stroke-dashoffset="3"/>
<line x1="320.6" y1="659.5" x2="399.1" y2="659.5" stroke="#a6a6a6" stroke-width="1.1" stroke-dasharray="6.2 3.4" stroke-dashoffset="3"/>
<line x1="320.6" y1="689" x2="399.1" y2="689" stroke="#a6a6a6" stroke-width="1.1" stroke-dasharray="6.2 3.4" stroke-dashoffset="3"/>
<line x1="320.6" y1="718.5" x2="399.1" y2="718.5" stroke="#a6a6a6" stroke-width="1.1" stroke-dasharray="6.2 3.4" stroke-dashoffset="3"/>
<text x="67.5" y="659.5" font-size="7.6" text-anchor="middle" fill="#000" transform="rotate(-90 67.5 659.5)" stroke="#000" stroke-width="0.1">85</text>
<text x="67.5" y="689" font-size="7.6" text-anchor="middle" fill="#000" transform="rotate(-90 67.5 689)" stroke="#000" stroke-width="0.1">75</text>
<text x="67.5" y="718.5" font-size="7.6" text-anchor="middle" fill="#000" transform="rotate(-90 67.5 718.5)" stroke="#000" stroke-width="0.1">65</text>
<text x="59" y="686.5" font-size="8.7" text-anchor="middle" fill="#000" font-weight="bold" transform="rotate(-90 59 686.5)">Water content (%)</text>
<line x1="79.3" y1="686" x2="79.3" y2="689.3" stroke="#a89c72" stroke-width="1.7" />
<line x1="79.3" y1="695.3" x2="79.3" y2="698.3" stroke="#a89c72" stroke-width="1.7" />
<rect x="72.5" y="689.3" width="13.6" height="6" fill="#fff" stroke="#a89c72" stroke-width="1.7" />
<line x1="72.5" y1="692.3" x2="86.1" y2="692.3" stroke="#a89c72" stroke-width="2.295" />
<circle cx="79.3" cy="680" r="1.9" fill="#a89c72" stroke="none" stroke-width="0" />
<circle cx="79.3" cy="703.3" r="1.9" fill="#a89c72" stroke="none" stroke-width="0" />
<circle cx="79.3" cy="705.7" r="1.9" fill="#a89c72" stroke="none" stroke-width="0" />
<circle cx="79.3" cy="708" r="1.9" fill="#a89c72" stroke="none" stroke-width="0" />
<text x="79.3" y="677.3" font-size="7.2" text-anchor="middle" fill="#222" stroke="#222" stroke-width="0.1">a</text>
<line x1="79.3" y1="747.2" x2="79.3" y2="749.8" stroke="#111" stroke-width="0.9" />
<line x1="98.3" y1="646.7" x2="98.3" y2="649.3" stroke="#f4511e" stroke-width="1.7" />
<line x1="98.3" y1="657.3" x2="98.3" y2="666.7" stroke="#f4511e" stroke-width="1.7" />
<rect x="91.5" y="649.3" width="13.6" height="8" fill="#fff" stroke="#f4511e" stroke-width="1.7" />
<line x1="91.5" y1="652.7" x2="105.1" y2="652.7" stroke="#f4511e" stroke-width="2.295" />
<circle cx="98.3" cy="675" r="1.9" fill="#f4511e" stroke="none" stroke-width="0" />
<circle cx="98.3" cy="677.3" r="1.9" fill="#f4511e" stroke="none" stroke-width="0" />
<text x="98.3" y="645.6" font-size="7.2" text-anchor="middle" fill="#222" stroke="#222" stroke-width="0.1">c</text>
<line x1="98.3" y1="747.2" x2="98.3" y2="749.8" stroke="#111" stroke-width="0.9" />
<line x1="116.7" y1="668.3" x2="116.7" y2="671.7" stroke="#1fb3c9" stroke-width="1.7" />
<line x1="116.7" y1="679.3" x2="116.7" y2="686.7" stroke="#1fb3c9" stroke-width="1.7" />
<rect x="109.9" y="671.7" width="13.6" height="7.7" fill="#fff" stroke="#1fb3c9" stroke-width="1.7" />
<line x1="109.9" y1="675" x2="123.5" y2="675" stroke="#1fb3c9" stroke-width="2.295" />
<circle cx="116.7" cy="639.3" r="1.9" fill="#1fb3c9" stroke="none" stroke-width="0" />
<circle cx="116.7" cy="691.7" r="1.9" fill="#1fb3c9" stroke="none" stroke-width="0" />
<circle cx="116.7" cy="696" r="1.9" fill="#1fb3c9" stroke="none" stroke-width="0" />
<text x="116.7" y="635.6" font-size="7.2" text-anchor="middle" fill="#222" stroke="#222" stroke-width="0.1">b</text>
<line x1="116.7" y1="747.2" x2="116.7" y2="749.8" stroke="#111" stroke-width="0.9" />
<line x1="136" y1="639" x2="136" y2="640.7" stroke="#4b1783" stroke-width="1.7" />
<line x1="136" y1="646.7" x2="136" y2="651.7" stroke="#4b1783" stroke-width="1.7" />
<rect x="129.2" y="640.7" width="13.6" height="6" fill="#fff" stroke="#4b1783" stroke-width="1.7" />
<line x1="129.2" y1="643.3" x2="142.8" y2="643.3" stroke="#4b1783" stroke-width="2.295" />
<circle cx="136" cy="655.7" r="1.9" fill="#4b1783" stroke="none" stroke-width="0" />
<circle cx="136" cy="658.3" r="1.9" fill="#4b1783" stroke="none" stroke-width="0" />
<circle cx="136" cy="661.7" r="1.9" fill="#4b1783" stroke="none" stroke-width="0" />
<text x="136" y="635.6" font-size="7.2" text-anchor="middle" fill="#222" stroke="#222" stroke-width="0.1">d</text>
<line x1="136" y1="747.2" x2="136" y2="749.8" stroke="#111" stroke-width="0.9" />
<rect x="68.2" y="630.4" width="78.8" height="116.8" fill="none" stroke="#000" stroke-width="1.4" />
<text x="73.3" y="638" font-size="7" text-anchor="middle" fill="#000" stroke="#000" stroke-width="0.1">I</text>
<text x="70" y="744" font-size="7.8" fill="#111" stroke="#111" stroke-width="0.15"><tspan font-style="italic">p</tspan>=4.9e-12</text>
<text x="79.3" y="755.8" font-size="7.9" text-anchor="middle" fill="#94844a" stroke="#94844a" stroke-width="0.3">leaf</text>
<text x="119.2" y="755.8" font-size="7.9" text-anchor="middle" fill="#1ea4d6" stroke="#1ea4d6" stroke-width="0.3">epidermis</text>
<text x="96.3" y="764.4" font-size="7.9" text-anchor="middle" fill="#ff2222" stroke="#ff2222" stroke-width="0.3">prickle</text>
<text x="136" y="764.4" font-size="7.9" text-anchor="middle" fill="#6a2ca6" stroke="#6a2ca6" stroke-width="0.3">stele</text>
<line x1="163.3" y1="684" x2="163.3" y2="692.7" stroke="#a89c72" stroke-width="1.7" />
<line x1="163.3" y1="701.7" x2="163.3" y2="711.7" stroke="#a89c72" stroke-width="1.7" />
<rect x="156.5" y="692.7" width="13.6" height="9" fill="#fff" stroke="#a89c72" stroke-width="1.7" />
<line x1="156.5" y1="697.3" x2="170.1" y2="697.3" stroke="#a89c72" stroke-width="2.295" />
<circle cx="163.3" cy="720" r="1.9" fill="#a89c72" stroke="none" stroke-width="0" />
<text x="163.3" y="681.6" font-size="7.2" text-anchor="middle" fill="#222" stroke="#222" stroke-width="0.1">a</text>
<line x1="163.3" y1="747.2" x2="163.3" y2="749.8" stroke="#111" stroke-width="0.9" />
<line x1="182.7" y1="646.7" x2="182.7" y2="649.3" stroke="#f4511e" stroke-width="1.7" />
<line x1="182.7" y1="662.7" x2="182.7" y2="670" stroke="#f4511e" stroke-width="1.7" />
<rect x="175.9" y="649.3" width="13.6" height="13.3" fill="#fff" stroke="#f4511e" stroke-width="1.7" />
<line x1="175.9" y1="653.3" x2="189.5" y2="653.3" stroke="#f4511e" stroke-width="2.295" />
<circle cx="182.7" cy="685" r="1.9" fill="#f4511e" stroke="none" stroke-width="0" />
<circle cx="182.7" cy="688.3" r="1.9" fill="#f4511e" stroke="none" stroke-width="0" />
<circle cx="182.7" cy="694" r="1.9" fill="#f4511e" stroke="none" stroke-width="0" />
<text x="182.7" y="645" font-size="7.2" text-anchor="middle" fill="#222" stroke="#222" stroke-width="0.1">c</text>
<line x1="182.7" y1="747.2" x2="182.7" y2="749.8" stroke="#111" stroke-width="0.9" />
<line x1="201.7" y1="663.3" x2="201.7" y2="676" stroke="#1fb3c9" stroke-width="1.7" />
<line x1="201.7" y1="689" x2="201.7" y2="701.7" stroke="#1fb3c9" stroke-width="1.7" />
<rect x="194.9" y="676" width="13.6" height="13" fill="#fff" stroke="#1fb3c9" stroke-width="1.7" />
<line x1="194.9" y1="679.3" x2="208.5" y2="679.3" stroke="#1fb3c9" stroke-width="2.295" />
<text x="201.7" y="660.6" font-size="7.2" text-anchor="middle" fill="#222" stroke="#222" stroke-width="0.1">b</text>
<line x1="201.7" y1="747.2" x2="201.7" y2="749.8" stroke="#111" stroke-width="0.9" />
<line x1="220" y1="635.3" x2="220" y2="640.7" stroke="#4b1783" stroke-width="1.7" />
<line x1="220" y1="653.3" x2="220" y2="665" stroke="#4b1783" stroke-width="1.7" />
<rect x="213.2" y="640.7" width="13.6" height="12.7" fill="#fff" stroke="#4b1783" stroke-width="1.7" />
<line x1="213.2" y1="643.7" x2="226.8" y2="643.7" stroke="#4b1783" stroke-width="2.295" />
<circle cx="220" cy="681.7" r="1.9" fill="#4b1783" stroke="none" stroke-width="0" />
<circle cx="220" cy="685" r="1.9" fill="#4b1783" stroke="none" stroke-width="0" />
<circle cx="220" cy="711.7" r="1.9" fill="#4b1783" stroke="none" stroke-width="0" />
<text x="220" y="635.6" font-size="7.2" text-anchor="middle" fill="#222" stroke="#222" stroke-width="0.1">d</text>
<line x1="220" y1="747.2" x2="220" y2="749.8" stroke="#111" stroke-width="0.9" />
<rect x="151.8" y="630.4" width="78.4" height="116.8" fill="none" stroke="#000" stroke-width="1.4" />
<text x="160.6" y="638" font-size="7" text-anchor="middle" fill="#000" stroke="#000" stroke-width="0.1">II</text>
<text x="153.6" y="744" font-size="7.8" fill="#111" stroke="#111" stroke-width="0.15"><tspan font-style="italic">p</tspan>=1.8e-09</text>
<text x="163.3" y="755.8" font-size="7.9" text-anchor="middle" fill="#94844a" stroke="#94844a" stroke-width="0.3">leaf</text>
<text x="204.2" y="755.8" font-size="7.9" text-anchor="middle" fill="#1ea4d6" stroke="#1ea4d6" stroke-width="0.3">epidermis</text>
<text x="180.7" y="764.4" font-size="7.9" text-anchor="middle" fill="#ff2222" stroke="#ff2222" stroke-width="0.3">prickle</text>
<text x="220" y="764.4" font-size="7.9" text-anchor="middle" fill="#6a2ca6" stroke="#6a2ca6" stroke-width="0.3">stele</text>
<line x1="248.3" y1="685" x2="248.3" y2="696.7" stroke="#a89c72" stroke-width="1.7" />
<line x1="248.3" y1="708.3" x2="248.3" y2="723.3" stroke="#a89c72" stroke-width="1.7" />
<rect x="241.5" y="696.7" width="13.6" height="11.7" fill="#fff" stroke="#a89c72" stroke-width="1.7" />
<line x1="241.5" y1="704" x2="255.1" y2="704" stroke="#a89c72" stroke-width="2.295" />
<text x="248.3" y="681.6" font-size="7.2" text-anchor="middle" fill="#222" stroke="#222" stroke-width="0.1">a</text>
<line x1="248.3" y1="747.2" x2="248.3" y2="749.8" stroke="#111" stroke-width="0.9" />
<line x1="266.7" y1="652.7" x2="266.7" y2="660" stroke="#f4511e" stroke-width="1.7" />
<line x1="266.7" y1="673.3" x2="266.7" y2="688.3" stroke="#f4511e" stroke-width="1.7" />
<rect x="259.9" y="660" width="13.6" height="13.3" fill="#fff" stroke="#f4511e" stroke-width="1.7" />
<line x1="259.9" y1="666.7" x2="273.5" y2="666.7" stroke="#f4511e" stroke-width="2.295" />
<circle cx="266.7" cy="697.3" r="1.9" fill="#f4511e" stroke="none" stroke-width="0" />
<text x="266.7" y="649.6" font-size="7.2" text-anchor="middle" fill="#222" stroke="#222" stroke-width="0.1">c</text>
<line x1="266.7" y1="747.2" x2="266.7" y2="749.8" stroke="#111" stroke-width="0.9" />
<line x1="285" y1="673.3" x2="285" y2="683.3" stroke="#1fb3c9" stroke-width="1.7" />
<line x1="285" y1="694" x2="285" y2="702.7" stroke="#1fb3c9" stroke-width="1.7" />
<rect x="278.2" y="683.3" width="13.6" height="10.7" fill="#fff" stroke="#1fb3c9" stroke-width="1.7" />
<line x1="278.2" y1="689.3" x2="291.8" y2="689.3" stroke="#1fb3c9" stroke-width="2.295" />
<text x="285" y="671.3" font-size="7.2" text-anchor="middle" fill="#222" stroke="#222" stroke-width="0.1">b</text>
<line x1="285" y1="747.2" x2="285" y2="749.8" stroke="#111" stroke-width="0.9" />
<line x1="304" y1="640.7" x2="304" y2="651" stroke="#4b1783" stroke-width="1.7" />
<line x1="304" y1="665" x2="304" y2="665.3" stroke="#4b1783" stroke-width="1.7" />
<rect x="297.2" y="651" width="13.6" height="14" fill="#fff" stroke="#4b1783" stroke-width="1.7" />
<line x1="297.2" y1="656" x2="310.8" y2="656" stroke="#4b1783" stroke-width="2.295" />
<circle cx="304" cy="690" r="1.9" fill="#4b1783" stroke="none" stroke-width="0" />
<circle cx="304" cy="706.7" r="1.9" fill="#4b1783" stroke="none" stroke-width="0" />
<circle cx="304" cy="708.3" r="1.9" fill="#4b1783" stroke="none" stroke-width="0" />
<circle cx="304" cy="730" r="1.9" fill="#4b1783" stroke="none" stroke-width="0" />
<text x="304" y="639" font-size="7.2" text-anchor="middle" fill="#222" stroke="#222" stroke-width="0.1">c</text>
<line x1="304" y1="747.2" x2="304" y2="749.8" stroke="#111" stroke-width="0.9" />
<rect x="235.8" y="630.4" width="79.6" height="116.8" fill="none" stroke="#000" stroke-width="1.4" />
<text x="245.6" y="638" font-size="7" text-anchor="middle" fill="#000" stroke="#000" stroke-width="0.1">III</text>
<text x="237.6" y="744" font-size="7.8" fill="#111" stroke="#111" stroke-width="0.15"><tspan font-style="italic">p</tspan>=6.5e-08</text>
<text x="248.3" y="755.8" font-size="7.9" text-anchor="middle" fill="#94844a" stroke="#94844a" stroke-width="0.3">leaf</text>
<text x="287.5" y="755.8" font-size="7.9" text-anchor="middle" fill="#1ea4d6" stroke="#1ea4d6" stroke-width="0.3">epidermis</text>
<text x="264.7" y="764.4" font-size="7.9" text-anchor="middle" fill="#ff2222" stroke="#ff2222" stroke-width="0.3">prickle</text>
<text x="304" y="764.4" font-size="7.9" text-anchor="middle" fill="#6a2ca6" stroke="#6a2ca6" stroke-width="0.3">stele</text>
<line x1="333.3" y1="689" x2="333.3" y2="696.7" stroke="#a89c72" stroke-width="1.7" />
<line x1="333.3" y1="713.3" x2="333.3" y2="725" stroke="#a89c72" stroke-width="1.7" />
<rect x="326.5" y="696.7" width="13.6" height="16.7" fill="#fff" stroke="#a89c72" stroke-width="1.7" />
<line x1="326.5" y1="705" x2="340.1" y2="705" stroke="#a89c72" stroke-width="2.295" />
<text x="333.3" y="685" font-size="7.2" text-anchor="middle" fill="#222" stroke="#222" stroke-width="0.1">a</text>
<line x1="333.3" y1="747.2" x2="333.3" y2="749.8" stroke="#111" stroke-width="0.9" />
<line x1="351" y1="658.3" x2="351" y2="671.7" stroke="#f4511e" stroke-width="1.7" />
<line x1="351" y1="681.7" x2="351" y2="696.7" stroke="#f4511e" stroke-width="1.7" />
<rect x="344.2" y="671.7" width="13.6" height="10" fill="#fff" stroke="#f4511e" stroke-width="1.7" />
<line x1="344.2" y1="677.3" x2="357.8" y2="677.3" stroke="#f4511e" stroke-width="2.295" />
<circle cx="351" cy="700.7" r="1.9" fill="#f4511e" stroke="none" stroke-width="0" />
<circle cx="351" cy="703.3" r="1.9" fill="#f4511e" stroke="none" stroke-width="0" />
<text x="351" y="655.6" font-size="7.2" text-anchor="middle" fill="#222" stroke="#222" stroke-width="0.1">c</text>
<line x1="351" y1="747.2" x2="351" y2="749.8" stroke="#111" stroke-width="0.9" />
<line x1="369.3" y1="678.3" x2="369.3" y2="687.7" stroke="#1fb3c9" stroke-width="1.7" />
<line x1="369.3" y1="696" x2="369.3" y2="705" stroke="#1fb3c9" stroke-width="1.7" />
<rect x="362.5" y="687.7" width="13.6" height="8.3" fill="#fff" stroke="#1fb3c9" stroke-width="1.7" />
<line x1="362.5" y1="692.7" x2="376.1" y2="692.7" stroke="#1fb3c9" stroke-width="2.295" />
<text x="369.3" y="675.6" font-size="7.2" text-anchor="middle" fill="#222" stroke="#222" stroke-width="0.1">b</text>
<line x1="369.3" y1="747.2" x2="369.3" y2="749.8" stroke="#111" stroke-width="0.9" />
<line x1="388.3" y1="650.7" x2="388.3" y2="660.7" stroke="#4b1783" stroke-width="1.7" />
<line x1="388.3" y1="693.3" x2="388.3" y2="730" stroke="#4b1783" stroke-width="1.7" />
<rect x="381.5" y="660.7" width="13.6" height="32.7" fill="#fff" stroke="#4b1783" stroke-width="1.7" />
<line x1="381.5" y1="675.7" x2="395.1" y2="675.7" stroke="#4b1783" stroke-width="2.295" />
<circle cx="388.3" cy="741.7" r="1.9" fill="#4b1783" stroke="none" stroke-width="0" />
<text x="388.3" y="648.3" font-size="7.2" text-anchor="middle" fill="#222" stroke="#222" stroke-width="0.1">b,c</text>
<line x1="388.3" y1="747.2" x2="388.3" y2="749.8" stroke="#111" stroke-width="0.9" />
<rect x="320.6" y="630.4" width="78.5" height="116.8" fill="none" stroke="#000" stroke-width="1.4" />
<text x="328.5" y="638" font-size="7" text-anchor="middle" fill="#000" stroke="#000" stroke-width="0.1">IV</text>
<text x="322.4" y="744" font-size="7.8" fill="#111" stroke="#111" stroke-width="0.15"><tspan font-style="italic">p</tspan>=1.6e-05</text>
<text x="333.3" y="755.8" font-size="7.9" text-anchor="middle" fill="#94844a" stroke="#94844a" stroke-width="0.3">leaf</text>
<text x="371.8" y="755.8" font-size="7.9" text-anchor="middle" fill="#1ea4d6" stroke="#1ea4d6" stroke-width="0.3">epidermis</text>
<text x="349" y="764.4" font-size="7.9" text-anchor="middle" fill="#ff2222" stroke="#ff2222" stroke-width="0.3">prickle</text>
<text x="388.3" y="764.4" font-size="7.9" text-anchor="middle" fill="#6a2ca6" stroke="#6a2ca6" stroke-width="0.3">stele</text>
<text x="71.3" y="735" font-size="8.0" text-anchor="start" fill="#000" font-style="italic" stroke="#000" stroke-width="0.1">Kruskal-Wallis test</text>
<text x="411" y="606.1" font-size="9.5" text-anchor="middle" fill="#000" font-weight="bold">i</text>
<line x1="421.8" y1="642.5" x2="421.8" y2="747.3" stroke="#111" stroke-width="1.3" />
<line x1="421.2" y1="746.7" x2="547" y2="746.7" stroke="#111" stroke-width="1.3" />
<line x1="419.6" y1="646" x2="421.8" y2="646" stroke="#111" stroke-width="0.8" />
<text x="419.8" y="645.5" font-size="7.4" text-anchor="middle" fill="#000" transform="rotate(-90 419.8 645.5)" stroke="#000" stroke-width="0.1">90</text>
<line x1="419.6" y1="693" x2="421.8" y2="693" stroke="#111" stroke-width="0.8" />
<text x="419.8" y="692.5" font-size="7.4" text-anchor="middle" fill="#000" transform="rotate(-90 419.8 692.5)" stroke="#000" stroke-width="0.1">70</text>
<line x1="419.6" y1="740" x2="421.8" y2="740" stroke="#111" stroke-width="0.8" />
<text x="419.8" y="739.5" font-size="7.4" text-anchor="middle" fill="#000" transform="rotate(-90 419.8 739.5)" stroke="#000" stroke-width="0.1">50</text>
<line x1="420.3" y1="669.5" x2="421.8" y2="669.5" stroke="#111" stroke-width="0.6" />
<line x1="420.3" y1="716.5" x2="421.8" y2="716.5" stroke="#111" stroke-width="0.6" />
<text x="412" y="689.8" font-size="7.2" text-anchor="middle" fill="#000" font-weight="bold" transform="rotate(-90 412 689.8)">Water content (%)</text>
<text x="439.3" y="609.5" font-size="8.0" text-anchor="middle" fill="#000" stroke="#000" stroke-width="0.1">Wild rose</text>
<text x="439.3" y="619.2" font-size="8.0" text-anchor="middle" fill="#000" stroke="#000" stroke-width="0.1">12 genotypes</text>
<text x="441.7" y="631.2" font-size="9" text-anchor="middle" fill="#000" font-weight="bold">***</text>
<text x="484" y="609.5" font-size="8.0" text-anchor="middle" fill="#000" stroke="#000" stroke-width="0.1">China rose</text>
<text x="484" y="619.2" font-size="8.0" text-anchor="middle" fill="#000" stroke="#000" stroke-width="0.1">6 lines</text>
<text x="484" y="631.2" font-size="9" text-anchor="middle" fill="#000" font-weight="bold">**</text>
<text x="528.3" y="609.5" font-size="8.0" text-anchor="middle" fill="#000" stroke="#000" stroke-width="0.1">Modern rose</text>
<text x="528.3" y="619.2" font-size="8.0" text-anchor="middle" fill="#000" stroke="#000" stroke-width="0.1">21 lines</text>
<text x="526" y="631.2" font-size="9" text-anchor="middle" fill="#000" font-weight="bold">***</text>
<path d="M428.3,641.8 L428.3,638.9 Q428.3,637.8 429.5,637.8 L440.5,637.8 Q442.1,637.8 442.1,633 Q442.1,637.8 443.8,637.8 L454.8,637.8 Q456,637.8 456,638.9 L456,641.8" fill="none" stroke="#111" stroke-width="1.3" />
<path d="M470,641.8 L470,638.9 Q470,637.8 471.2,637.8 L482.5,637.8 Q484.1,637.8 484.1,633 Q484.1,637.8 485.8,637.8 L497.1,637.8 Q498.3,637.8 498.3,638.9 L498.3,641.8" fill="none" stroke="#111" stroke-width="1.3" />
<path d="M511.7,641.8 L511.7,638.9 Q511.7,637.8 512.9,637.8 L524.2,637.8 Q525.9,637.8 525.9,633 Q525.9,637.8 527.5,637.8 L538.8,637.8 Q540,637.8 540,638.9 L540,641.8" fill="none" stroke="#111" stroke-width="1.3" />
<line x1="435.2" y1="710" x2="435.2" y2="716.2" stroke="#f0786a" stroke-width="1.0" />
<path d="M432.8,670.8 C432.3,671.5 430.5,673 429.8,675 C429.1,677 428.9,679.7 428.7,682.5 C428.5,685.3 428.2,689.1 428.5,692 C428.8,694.9 429.4,697.6 430.2,700 C431,702.4 432.5,704.4 433.2,706.2 C433.9,708.1 434.3,710.4 434.5,711.2 L435.9,711.2 C436.1,710.4 436.5,708.1 437.2,706.2 C437.9,704.4 439.4,702.4 440.2,700 C441,697.6 441.6,694.9 441.9,692 C442.1,689.1 441.9,685.3 441.7,682.5 C441.5,679.7 441.3,677 440.6,675 C439.9,673 438.1,671.5 437.6,670.8 Z" fill="#1fe3f2" stroke="#f0786a" stroke-width="1.0" stroke-linejoin="round"/>
<line x1="428.6" y1="688.8" x2="441.8" y2="688.8" stroke="#f05a50" stroke-width="1.0" />
<line x1="435.2" y1="672.5" x2="435.2" y2="701.2" stroke="#111" stroke-width="1.0" />
<rect x="433.2" y="678.8" width="4" height="15.8" fill="#1fe3f2" stroke="#111" stroke-width="1.5" rx="1"/>
<circle cx="435.2" cy="718" r="1.7" fill="#111" stroke="none" stroke-width="0" />
<line x1="452.5" y1="700" x2="452.5" y2="742.5" stroke="#22d3e6" stroke-width="1.2" />
<path d="M449.5,654.5 C449.2,655.4 448.2,657.4 447.8,660 C447.3,662.6 447,666.9 446.9,670 C446.8,673.1 446.8,675.8 447.2,678.8 C447.7,681.7 448.8,684.8 449.4,687.5 C450,690.2 450.7,692.4 451.1,695 C451.5,697.6 451.8,701.7 451.9,703 L453.1,703 C453.2,701.7 453.5,697.6 453.9,695 C454.3,692.4 455,690.2 455.6,687.5 C456.2,684.8 457.3,681.7 457.8,678.8 C458.2,675.8 458.2,673.1 458.1,670 C458,666.9 457.7,662.6 457.2,660 C456.8,657.4 455.8,655.4 455.5,654.5 Z" fill="#e8481c" stroke="#22d3e6" stroke-width="1.0" stroke-linejoin="round"/>
<line x1="447" y1="674.5" x2="458" y2="674.5" stroke="#22d3e6" stroke-width="1.0" />
<line x1="452.5" y1="656.2" x2="452.5" y2="697.5" stroke="#111" stroke-width="1.0" />
<rect x="450.5" y="662.5" width="4" height="18" fill="#e8481c" stroke="#111" stroke-width="1.5" rx="1"/>
<circle cx="452.5" cy="705.8" r="1.7" fill="#111" stroke="none" stroke-width="0" />
<line x1="476.3" y1="696.2" x2="476.3" y2="733.8" stroke="#f0786a" stroke-width="2.2" />
<line x1="476.3" y1="697.5" x2="476.3" y2="733" stroke="#9fe8ee" stroke-width="0.8" />
<path d="M469,668 C468.6,668.6 467,669.9 466.6,671.5 C466.2,673.1 466.1,675.5 466.6,677.5 C467.1,679.5 468.4,681.6 469.6,683.8 C470.7,685.9 472.6,688.2 473.6,690.5 C474.5,692.8 475,696.3 475.3,697.5 L477.3,697.5 C477.6,696.3 478.1,692.8 479.1,690.5 C480,688.2 481.9,685.9 483.1,683.8 C484.2,681.6 485.5,679.5 486,677.5 C486.5,675.5 486.4,673.1 486,671.5 C485.6,669.9 484,668.6 483.6,668 Z" fill="#1fe3f2" stroke="#f0786a" stroke-width="1.0" stroke-linejoin="round"/>
<line x1="466.7" y1="678" x2="485.9" y2="678" stroke="#f05a50" stroke-width="1.0" />
<line x1="476.3" y1="669.5" x2="476.3" y2="686.2" stroke="#111" stroke-width="1.0" />
<rect x="474.3" y="672.5" width="4" height="10" fill="#1fe3f2" stroke="#111" stroke-width="1.5" rx="1"/>
<circle cx="476.3" cy="705.8" r="1.7" fill="#111" stroke="none" stroke-width="0" />
<circle cx="476.3" cy="733" r="1.7" fill="#111" stroke="none" stroke-width="0" />
<line x1="495.6" y1="685" x2="495.6" y2="709.2" stroke="#22d3e6" stroke-width="1.4" />
<path d="M490,647 C489.7,647.8 488.5,649.8 488.2,651.5 C487.9,653.2 487.8,655.5 488.2,657.5 C488.6,659.5 489.8,661.5 490.6,663.8 C491.4,666 492.5,668.8 493.1,671.2 C493.7,673.8 494.1,676 494.4,678.8 C494.7,681.5 494.8,686 494.9,687.5 L496.3,687.5 C496.4,686 496.5,681.5 496.8,678.8 C497.1,676 497.5,673.8 498.1,671.2 C498.7,668.8 499.8,666 500.6,663.8 C501.4,661.5 502.6,659.5 503,657.5 C503.4,655.5 503.3,653.2 503,651.5 C502.7,649.8 501.5,647.8 501.2,647 Z" fill="#e8481c" stroke="#22d3e6" stroke-width="1.0" stroke-linejoin="round"/>
<line x1="488.3" y1="660.8" x2="502.9" y2="660.8" stroke="#22d3e6" stroke-width="1.0" />
<line x1="495.6" y1="648.8" x2="495.6" y2="675" stroke="#111" stroke-width="1.0" />
<rect x="493.6" y="653.8" width="4" height="12.5" fill="#e8481c" stroke="#111" stroke-width="1.5" rx="1"/>
<circle cx="495.6" cy="690.5" r="1.7" fill="#111" stroke="none" stroke-width="0" />
<circle cx="495.6" cy="708.8" r="1.7" fill="#111" stroke="none" stroke-width="0" />
<path d="M517,663 C516.5,664 515,666.8 514.1,668.8 C513.2,670.8 512.1,673.1 511.6,675 C511.1,676.9 510.8,678.1 511,680 C511.2,681.9 512.1,684.2 512.9,686.2 C513.7,688.3 514.9,690.4 515.8,692.5 C516.6,694.6 517.7,697.9 518.1,699 L520.9,699 C521.3,697.9 522.4,694.6 523.2,692.5 C524.1,690.4 525.3,688.3 526.1,686.2 C526.9,684.2 527.8,681.9 528,680 C528.2,678.1 527.9,676.9 527.4,675 C526.9,673.1 525.8,670.8 524.9,668.8 C524,666.8 522.5,664 522,663 Z" fill="#1fe3f2" stroke="#f0786a" stroke-width="1.0" stroke-linejoin="round"/>
<line x1="511.1" y1="679.5" x2="527.9" y2="679.5" stroke="#f05a50" stroke-width="1.0" />
<line x1="519.5" y1="665" x2="519.5" y2="698.2" stroke="#111" stroke-width="1.0" />
<rect x="517.5" y="673.8" width="4" height="10.8" fill="#1fe3f2" stroke="#111" stroke-width="1.5" rx="1"/>
<line x1="537.5" y1="696.2" x2="537.5" y2="713" stroke="#22d3e6" stroke-width="1.3" />
<path d="M533.2,649.2 C533,650 532.1,651.5 531.9,653.8 C531.7,656 531.6,659.4 531.8,662.5 C531.9,665.6 532.5,669.4 533,672.5 C533.5,675.6 534.5,678.3 535,681.2 C535.5,684.2 536,687.2 536.3,690 C536.6,692.8 536.8,696.7 536.9,698 L538.1,698 C538.2,696.7 538.4,692.8 538.7,690 C539,687.2 539.5,684.2 540,681.2 C540.5,678.3 541.5,675.6 542,672.5 C542.5,669.4 543.1,665.6 543.2,662.5 C543.4,659.4 543.3,656 543.1,653.8 C542.9,651.5 542,650 541.8,649.2 Z" fill="#e8481c" stroke="#22d3e6" stroke-width="1.0" stroke-linejoin="round"/>
<line x1="531.8" y1="665" x2="543.2" y2="665" stroke="#22d3e6" stroke-width="1.0" />
<line x1="537.5" y1="650" x2="537.5" y2="691.2" stroke="#111" stroke-width="1.0" />
<rect x="535.5" y="657" width="4" height="16" fill="#e8481c" stroke="#111" stroke-width="1.5" rx="1"/>
<circle cx="537.5" cy="702.5" r="1.7" fill="#111" stroke="none" stroke-width="0" />
<circle cx="537.5" cy="712.5" r="1.7" fill="#111" stroke="none" stroke-width="0" />
<circle cx="537.5" cy="741.8" r="1.7" fill="#111" stroke="none" stroke-width="0" />
<text x="444" y="755.8" font-size="7.8" text-anchor="middle" fill="#1ea4d6" stroke="#1ea4d6" stroke-width="0.25">epidermis</text>
<text x="454.3" y="764.4" font-size="7.8" text-anchor="middle" fill="#ff2222" stroke="#ff2222" stroke-width="0.25">prickle</text>
<text x="482.7" y="755.8" font-size="7.8" text-anchor="middle" fill="#1ea4d6" stroke="#1ea4d6" stroke-width="0.25">epidermis</text>
<text x="496.7" y="764.4" font-size="7.8" text-anchor="middle" fill="#ff2222" stroke="#ff2222" stroke-width="0.25">prickle</text>
<text x="525.7" y="755.8" font-size="7.8" text-anchor="middle" fill="#1ea4d6" stroke="#1ea4d6" stroke-width="0.25">epidermis</text>
<text x="539.3" y="764.4" font-size="7.8" text-anchor="middle" fill="#ff2222" stroke="#ff2222" stroke-width="0.25">prickle</text>
</svg>
</body></html>
